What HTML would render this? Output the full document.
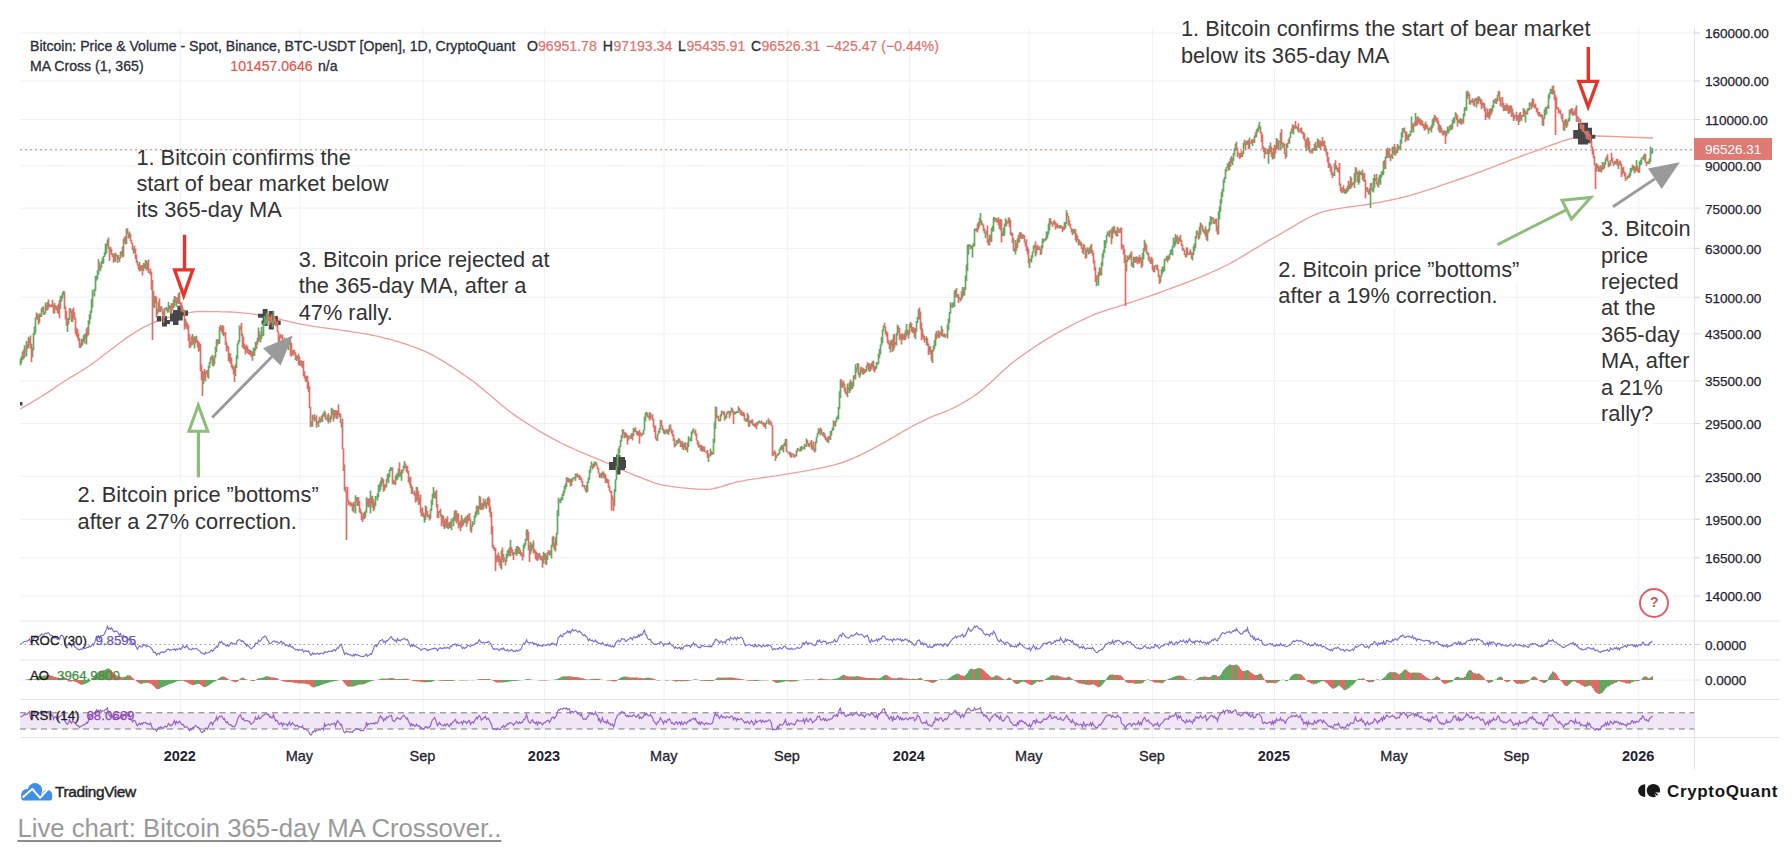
<!DOCTYPE html><html><head><meta charset="utf-8"><style>body{margin:0;width:1792px;height:854px;background:#fff;position:relative;overflow:hidden;font-family:"Liberation Sans",sans-serif}</style></head><body>
<svg width="1792" height="854" viewBox="0 0 1792 854" style="position:absolute;left:0;top:0">
<path d="M20 33.0H1694M20 81.0H1694M20 119.6H1694M20 165.9H1694M20 208.1H1694M20 248.3H1694M20 297.2H1694M20 333.9H1694M20 380.9H1694M20 423.6H1694M20 476.2H1694M20 519.3H1694M20 557.9H1694M20 595.9H1694" stroke="#eef0f4" stroke-width="1" fill="none"/>
<path d="M180.3 28V740M299.9 28V740M423.1 28V740M544.6 28V740M664.1 28V740M787.7 28V740M909.6 28V740M1029.1 28V740M1152.6 28V740M1274.5 28V740M1394.6 28V740M1516.8 28V740M1638.7 28V740" stroke="#eef0f4" stroke-width="1" fill="none"/>
<path d="M20 621H1780M20 660H1780M20 699.5H1780M20 737.5H1780" stroke="#e3e6ec" stroke-width="1" fill="none"/>
<path d="M1694.5 28V769" stroke="#dfe2e8" stroke-width="1" fill="none"/>
<path d="M1694 33.0H1700M1694 81.0H1700M1694 119.6H1700M1694 165.9H1700M1694 208.1H1700M1694 248.3H1700M1694 297.2H1700M1694 333.9H1700M1694 380.9H1700M1694 423.6H1700M1694 476.2H1700M1694 519.3H1700M1694 557.9H1700M1694 595.9H1700M1694 644.5H1700M1694 680H1700" stroke="#cfd3da" stroke-width="1" fill="none"/>
<rect x="20" y="712.8" width="1674" height="16.2" fill="#f1e6f5"/>
<path d="M20 712.8H1694M20 729H1694" stroke="#7a7a7a" stroke-width="1" stroke-dasharray="6 4.5" fill="none"/>
<path d="M20 680H1694" stroke="#eef0f4" stroke-width="1" fill="none"/>
<path d="M20 644.5H1694" stroke="#9a9aa4" stroke-width="1" stroke-dasharray="1.5 3" fill="none"/>
<path d="M20 149.8H1694" stroke="#e0716b" stroke-width="1" stroke-dasharray="2 3" fill="none"/>
<path d="M20.0 409.0 L23.0 407.3 L26.0 405.7 L29.0 403.9 L32.0 402.2 L35.0 400.4 L38.0 398.6 L41.0 396.7 L44.0 394.9 L47.0 392.9 L50.0 390.9 L53.0 388.9 L56.0 386.8 L59.0 384.8 L62.0 382.8 L65.0 380.9 L68.0 379.0 L71.0 377.2 L74.0 375.4 L77.0 373.6 L80.0 371.8 L83.0 369.9 L86.0 368.0 L89.0 366.0 L92.0 363.9 L95.0 361.7 L98.0 359.5 L101.0 357.2 L104.0 354.8 L107.0 352.5 L110.0 350.2 L113.0 348.0 L116.0 345.8 L119.0 343.5 L122.0 341.3 L125.0 339.1 L128.0 336.9 L131.0 334.9 L134.0 333.0 L137.0 331.2 L140.0 329.4 L143.0 327.7 L146.0 326.1 L149.0 324.6 L152.0 323.2 L155.0 322.0 L158.0 320.9 L161.0 319.9 L164.0 318.9 L167.0 318.0 L170.0 317.2 L173.0 316.5 L176.0 315.8 L179.0 315.1 L182.0 314.3 L185.0 313.6 L188.0 312.9 L191.0 312.4 L194.0 311.9 L197.0 311.6 L200.0 311.5 L203.0 311.5 L206.0 311.5 L209.0 311.6 L212.0 311.6 L215.0 311.6 L218.0 311.7 L221.0 311.8 L224.0 311.8 L227.0 311.9 L230.0 312.0 L233.0 312.1 L236.0 312.3 L239.0 312.5 L242.0 312.8 L245.0 313.1 L248.0 313.4 L251.0 313.8 L254.0 314.2 L257.0 314.6 L260.0 315.0 L263.0 315.5 L266.0 316.0 L269.0 316.6 L272.0 317.3 L275.0 318.0 L278.0 318.7 L281.0 319.5 L284.0 320.3 L287.0 321.0 L290.0 321.8 L293.0 322.5 L296.0 323.2 L299.0 323.8 L302.0 324.4 L305.0 324.9 L308.0 325.4 L311.0 325.9 L314.0 326.4 L317.0 326.8 L320.0 327.3 L323.0 327.7 L326.0 328.1 L329.0 328.5 L332.0 328.9 L335.0 329.3 L338.0 329.7 L341.0 330.2 L344.0 330.6 L347.0 331.0 L350.0 331.4 L353.0 331.9 L356.0 332.3 L359.0 332.8 L362.0 333.3 L365.0 333.8 L368.0 334.4 L371.0 335.0 L374.0 335.6 L377.0 336.2 L380.0 336.9 L383.0 337.6 L386.0 338.4 L389.0 339.1 L392.0 339.9 L395.0 340.8 L398.0 341.7 L401.0 342.6 L404.0 343.5 L407.0 344.5 L410.0 345.6 L413.0 346.6 L416.0 347.8 L419.0 348.9 L422.0 350.1 L425.0 351.4 L428.0 352.8 L431.0 354.3 L434.0 355.9 L437.0 357.5 L440.0 359.3 L443.0 361.1 L446.0 363.0 L449.0 364.9 L452.0 366.8 L455.0 368.8 L458.0 370.9 L461.0 372.9 L464.0 375.0 L467.0 377.0 L470.0 379.1 L473.0 381.3 L476.0 383.6 L479.0 386.0 L482.0 388.4 L485.0 390.9 L488.0 393.5 L491.0 396.1 L494.0 398.6 L497.0 401.2 L500.0 403.7 L503.0 406.2 L506.0 408.7 L509.0 411.0 L512.0 413.2 L515.0 415.4 L518.0 417.4 L521.0 419.4 L524.0 421.4 L527.0 423.4 L530.0 425.3 L533.0 427.2 L536.0 429.0 L539.0 430.8 L542.0 432.6 L545.0 434.3 L548.0 436.1 L551.0 437.7 L554.0 439.3 L557.0 440.9 L560.0 442.5 L563.0 444.0 L566.0 445.4 L569.0 446.8 L572.0 448.2 L575.0 449.5 L578.0 450.8 L581.0 452.1 L584.0 453.3 L587.0 454.6 L590.0 455.8 L593.0 457.0 L596.0 458.3 L599.0 459.6 L602.0 460.9 L605.0 462.2 L608.0 463.5 L611.0 464.9 L614.0 466.3 L617.0 467.6 L620.0 469.0 L623.0 470.3 L626.0 471.6 L629.0 472.9 L632.0 474.1 L635.0 475.4 L638.0 476.5 L641.0 477.7 L644.0 478.8 L647.0 480.0 L650.0 481.2 L653.0 482.3 L656.0 483.3 L659.0 484.2 L662.0 484.9 L665.0 485.5 L668.0 485.9 L671.0 486.4 L674.0 486.8 L677.0 487.2 L680.0 487.6 L683.0 487.9 L686.0 488.2 L689.0 488.5 L692.0 488.7 L695.0 489.0 L698.0 489.1 L701.0 489.2 L704.0 489.3 L707.0 489.3 L710.0 489.1 L713.0 488.6 L716.0 488.0 L719.0 487.3 L722.0 486.4 L725.0 485.5 L728.0 484.5 L731.0 483.6 L734.0 482.7 L737.0 481.9 L740.0 481.3 L743.0 480.8 L746.0 480.2 L749.0 479.7 L752.0 479.3 L755.0 478.8 L758.0 478.4 L761.0 477.9 L764.0 477.5 L767.0 477.1 L770.0 476.7 L773.0 476.2 L776.0 475.8 L779.0 475.3 L782.0 474.9 L785.0 474.4 L788.0 473.9 L791.0 473.4 L794.0 472.9 L797.0 472.4 L800.0 471.9 L803.0 471.3 L806.0 470.8 L809.0 470.3 L812.0 469.7 L815.0 469.2 L818.0 468.6 L821.0 468.0 L824.0 467.3 L827.0 466.7 L830.0 465.9 L833.0 465.2 L836.0 464.4 L839.0 463.5 L842.0 462.5 L845.0 461.5 L848.0 460.4 L851.0 459.2 L854.0 458.0 L857.0 456.6 L860.0 455.2 L863.0 453.8 L866.0 452.2 L869.0 450.7 L872.0 449.1 L875.0 447.4 L878.0 445.8 L881.0 444.2 L884.0 442.6 L887.0 440.9 L890.0 439.1 L893.0 437.3 L896.0 435.6 L899.0 433.8 L902.0 432.0 L905.0 430.3 L908.0 428.6 L911.0 427.0 L914.0 425.4 L917.0 423.8 L920.0 422.3 L923.0 420.8 L926.0 419.3 L929.0 417.9 L932.0 416.6 L935.0 415.4 L938.0 414.3 L941.0 413.2 L944.0 412.1 L947.0 410.9 L950.0 409.5 L953.0 408.1 L956.0 406.6 L959.0 405.0 L962.0 403.4 L965.0 401.6 L968.0 399.8 L971.0 398.0 L974.0 396.0 L977.0 393.9 L980.0 391.6 L983.0 389.2 L986.0 386.6 L989.0 383.9 L992.0 381.2 L995.0 378.4 L998.0 375.6 L1001.0 372.8 L1004.0 370.0 L1007.0 367.4 L1010.0 364.8 L1013.0 362.3 L1016.0 360.0 L1019.0 357.8 L1022.0 355.6 L1025.0 353.5 L1028.0 351.4 L1031.0 349.3 L1034.0 347.3 L1037.0 345.3 L1040.0 343.4 L1043.0 341.4 L1046.0 339.6 L1049.0 337.8 L1052.0 336.0 L1055.0 334.2 L1058.0 332.6 L1061.0 330.9 L1064.0 329.3 L1067.0 327.7 L1070.0 326.1 L1073.0 324.5 L1076.0 323.0 L1079.0 321.5 L1082.0 320.1 L1085.0 318.7 L1088.0 317.3 L1091.0 316.0 L1094.0 314.7 L1097.0 313.5 L1100.0 312.4 L1103.0 311.3 L1106.0 310.3 L1109.0 309.4 L1112.0 308.5 L1115.0 307.6 L1118.0 306.6 L1121.0 305.7 L1124.0 304.7 L1127.0 303.7 L1130.0 302.7 L1133.0 301.7 L1136.0 300.7 L1139.0 299.7 L1142.0 298.7 L1145.0 297.7 L1148.0 296.6 L1151.0 295.6 L1154.0 294.5 L1157.0 293.5 L1160.0 292.4 L1163.0 291.3 L1166.0 290.2 L1169.0 289.1 L1172.0 288.0 L1175.0 286.9 L1178.0 285.7 L1181.0 284.6 L1184.0 283.5 L1187.0 282.3 L1190.0 281.1 L1193.0 280.0 L1196.0 278.8 L1199.0 277.6 L1202.0 276.3 L1205.0 275.1 L1208.0 273.8 L1211.0 272.5 L1214.0 271.2 L1217.0 269.8 L1220.0 268.4 L1223.0 267.0 L1226.0 265.5 L1229.0 264.0 L1232.0 262.4 L1235.0 260.7 L1238.0 259.0 L1241.0 257.2 L1244.0 255.4 L1247.0 253.6 L1250.0 251.8 L1253.0 249.9 L1256.0 248.1 L1259.0 246.3 L1262.0 244.5 L1265.0 242.7 L1268.0 240.9 L1271.0 239.2 L1274.0 237.5 L1277.0 235.9 L1280.0 234.2 L1283.0 232.5 L1286.0 230.7 L1289.0 228.9 L1292.0 227.1 L1295.0 225.3 L1298.0 223.5 L1301.0 221.8 L1304.0 220.1 L1307.0 218.5 L1310.0 217.0 L1313.0 215.6 L1316.0 214.3 L1319.0 213.1 L1322.0 212.1 L1325.0 211.2 L1328.0 210.5 L1331.0 209.9 L1334.0 209.3 L1337.0 208.8 L1340.0 208.3 L1343.0 207.9 L1346.0 207.4 L1349.0 207.0 L1352.0 206.6 L1355.0 206.2 L1358.0 205.8 L1361.0 205.4 L1364.0 205.0 L1367.0 204.5 L1370.0 204.0 L1373.0 203.5 L1376.0 202.9 L1379.0 202.4 L1382.0 201.8 L1385.0 201.2 L1388.0 200.6 L1391.0 200.0 L1394.0 199.4 L1397.0 198.7 L1400.0 198.0 L1403.0 197.3 L1406.0 196.5 L1409.0 195.7 L1412.0 194.8 L1415.0 194.0 L1418.0 193.1 L1421.0 192.2 L1424.0 191.2 L1427.0 190.2 L1430.0 189.3 L1433.0 188.3 L1436.0 187.3 L1439.0 186.2 L1442.0 185.2 L1445.0 184.2 L1448.0 183.1 L1451.0 182.1 L1454.0 181.1 L1457.0 180.0 L1460.0 179.0 L1463.0 178.0 L1466.0 176.9 L1469.0 175.9 L1472.0 174.8 L1475.0 173.7 L1478.0 172.6 L1481.0 171.5 L1484.0 170.3 L1487.0 169.2 L1490.0 168.1 L1493.0 166.9 L1496.0 165.8 L1499.0 164.6 L1502.0 163.5 L1505.0 162.3 L1508.0 161.2 L1511.0 160.0 L1514.0 158.9 L1517.0 157.8 L1520.0 156.7 L1523.0 155.5 L1526.0 154.4 L1529.0 153.4 L1532.0 152.3 L1535.0 151.2 L1538.0 150.1 L1541.0 149.0 L1544.0 147.8 L1547.0 146.7 L1550.0 145.6 L1553.0 144.5 L1556.0 143.5 L1559.0 142.4 L1562.0 141.4 L1565.0 140.4 L1568.0 139.5 L1571.0 138.6 L1574.0 137.7 L1577.0 136.9 L1580.0 136.2 L1583.0 135.5 L1653.0 138.0" stroke="#eea19b" stroke-width="1.35" fill="none"/>
<path d="M156.8 316.0h4.5v5.6h-4.5ZM162.0 316.0h5.0v10.4h-5.0ZM170.0 313.0h5.0v8.6h-5.0ZM173.0 310.0h5.5v15.0h-5.5ZM177.4 305.8h5.3v14.7h-5.3ZM182.7 310.5h5.3v5.3h-5.3ZM166.0 320.0h4.0v4.0h-4.0ZM258.0 313.7h5.5v4.1h-5.5ZM262.7 309.0h4.9v17.0h-4.9ZM268.8 311.0h5.0v18.5h-5.0ZM273.8 316.0h4.1v8.6h-4.1ZM276.0 320.5h4.7v4.5h-4.7ZM261.5 320.5h4.9v4.1h-4.9ZM609.0 462.0h5.0v8.0h-5.0ZM613.0 457.0h12.0v13.0h-12.0ZM616.0 454.8h4.5v19.7h-4.5ZM621.0 460.0h5.0v8.0h-5.0ZM1573.2 130.0h6.6v8.8h-6.6ZM1578.0 122.8h10.0v21.7h-10.0ZM1587.0 127.7h5.0v15.6h-5.0ZM1591.2 134.7h4.1v4.1h-4.1ZM20.0 402.0h2.5v3.5h-2.5Z" fill="#474747"/>
<path d="M20.5 358.4V365.4M21.5 356.0V363.2M22.5 351.6V360.0M24.5 345.3V357.8M26.5 340.9V356.6M28.5 336.8V348.1M32.5 347.4V357.3M33.5 332.8V350.6M34.5 326.2V335.0M35.5 317.5V333.3M36.5 312.5V319.1M39.5 313.2V323.0M40.5 314.4V316.8M41.5 308.3V317.1M42.5 306.8V312.1M44.5 312.3V315.1M45.5 302.5V313.2M47.5 301.9V310.6M51.5 304.5V307.4M54.5 302.7V313.6M58.5 303.4V314.0M60.5 295.7V308.9M61.5 295.4V301.4M62.5 292.5V298.6M63.5 290.7V295.2M67.5 317.8V332.0M68.5 318.0V324.4M69.5 308.3V319.9M72.5 309.4V321.9M80.5 343.3V348.0M81.5 338.7V346.5M83.5 335.2V341.7M84.5 333.9V343.4M86.5 328.6V344.5M88.5 320.3V335.3M89.5 314.3V324.2M90.5 310.8V319.6M91.5 299.1V313.1M92.5 289.7V307.6M93.5 294.1V294.6M94.5 289.1V296.4M95.5 275.8V290.9M96.5 275.4V280.7M97.5 270.2V279.2M98.5 259.2V274.8M100.5 265.8V271.2M101.5 260.9V267.7M102.5 257.7V264.1M103.5 256.0V263.4M104.5 252.3V257.0M105.5 243.5V255.2M106.5 243.6V253.3M107.5 239.4V246.6M110.5 246.4V252.1M114.5 253.8V261.9M115.5 252.6V261.6M119.5 257.3V262.3M120.5 251.7V258.5M121.5 250.9V255.6M123.5 239.0V256.8M126.5 228.4V243.9M129.5 231.5V238.1M133.5 248.2V253.5M139.5 262.0V271.6M141.5 265.1V269.7M143.5 262.9V270.9M144.5 263.5V267.9M145.5 260.0V269.1M147.5 262.7V270.3M149.5 271.8V273.3M154.5 295.8V308.1M155.5 295.7V303.4M157.5 309.1V314.6M158.5 301.8V312.3M160.5 306.8V312.2M164.5 307.9V317.7M165.5 308.1V309.6M167.5 308.2V312.7M168.5 302.1V312.5M169.5 305.3V309.2M171.5 303.3V314.3M173.5 299.5V308.0M174.5 295.9V306.4M176.5 298.1V306.7M178.5 293.3V304.0M183.5 309.4V312.4M185.5 319.1V326.7M190.5 342.0V347.5M192.5 334.0V345.1M194.5 336.2V348.4M195.5 336.6V343.2M203.5 371.8V383.9M205.5 371.4V381.6M206.5 370.2V374.1M208.5 365.8V378.7M209.5 362.1V368.3M210.5 357.2V363.5M211.5 356.0V359.8M213.5 357.2V366.5M214.5 355.4V364.6M215.5 346.8V357.6M216.5 339.2V352.1M218.5 338.9V343.4M219.5 326.7V344.0M222.5 325.0V334.5M224.5 333.1V335.0M227.5 345.2V348.9M230.5 353.5V363.7M235.5 364.0V376.0M236.5 355.3V368.0M237.5 343.2V359.3M238.5 340.3V344.5M239.5 325.6V342.3M246.5 344.7V351.1M249.5 349.9V354.9M251.5 351.0V357.2M253.5 347.6V356.1M254.5 347.9V355.9M255.5 342.0V350.7M257.5 337.7V344.8M258.5 327.6V341.9M260.5 334.8V342.5M261.5 326.7V338.9M262.5 331.7V336.2M263.5 322.6V336.2M264.5 316.1V325.8M265.5 318.5V324.7M266.5 313.3V323.3M267.5 312.6V315.2M270.5 316.7V323.0M272.5 320.6V327.5M273.5 310.8V323.4M284.5 337.5V345.6M287.5 342.6V347.9M288.5 341.9V349.9M289.5 340.9V345.0M292.5 349.9V354.7M296.5 355.0V360.9M297.5 356.0V359.6M300.5 360.2V364.7M302.5 361.3V368.3M306.5 375.9V382.2M311.5 421.2V426.2M312.5 414.4V426.7M313.5 416.7V418.9M318.5 420.6V427.0M319.5 416.7V422.3M320.5 418.2V422.7M322.5 414.4V422.0M323.5 412.8V415.7M324.5 410.6V417.1M326.5 417.5V419.4M327.5 414.8V421.5M330.5 415.5V422.5M331.5 407.8V418.9M332.5 408.8V415.0M334.5 410.1V418.6M337.5 410.5V419.0M341.5 422.3V427.5M353.5 501.8V512.6M355.5 495.3V513.5M357.5 497.0V506.1M364.5 512.0V519.1M365.5 510.6V517.6M366.5 497.3V512.8M368.5 498.6V507.6M370.5 490.5V513.6M372.5 495.7V507.5M374.5 502.5V509.6M375.5 496.0V506.1M376.5 497.1V498.0M377.5 493.3V500.5M378.5 485.0V497.2M379.5 483.7V491.9M380.5 480.8V490.2M381.5 477.3V486.4M384.5 484.5V490.8M386.5 479.3V487.2M387.5 473.8V480.8M388.5 473.6V483.3M389.5 469.2V477.5M390.5 467.6V470.6M391.5 466.9V471.1M395.5 475.5V485.3M396.5 474.2V480.4M397.5 472.7V479.8M398.5 468.2V477.4M400.5 471.7V476.7M401.5 469.4V480.8M403.5 465.4V471.1M404.5 461.1V468.8M412.5 487.0V493.6M416.5 486.8V501.5M419.5 497.9V503.7M424.5 514.6V522.8M425.5 505.6V520.3M428.5 515.1V517.2M430.5 508.7V519.1M431.5 499.7V510.9M432.5 493.8V505.0M433.5 486.9V498.1M434.5 491.5V498.1M438.5 511.3V518.0M439.5 510.7V512.9M442.5 514.8V523.0M444.5 520.2V529.1M446.5 518.7V528.1M448.5 522.6V529.2M449.5 522.3V527.9M451.5 518.6V530.3M452.5 519.6V521.1M453.5 516.8V526.2M454.5 510.9V521.0M457.5 513.8V520.8M459.5 522.3V525.9M461.5 515.0V527.7M463.5 519.9V525.2M464.5 518.6V523.1M465.5 516.6V522.5M467.5 514.4V523.8M471.5 525.6V532.7M472.5 521.2V526.9M473.5 523.1V524.9M474.5 515.2V523.8M475.5 511.4V518.0M476.5 505.7V515.8M478.5 506.1V514.8M479.5 495.7V509.2M481.5 502.9V510.3M483.5 498.5V509.5M484.5 501.4V505.4M486.5 502.2V508.7M487.5 497.8V504.5M501.5 550.2V569.4M503.5 553.9V562.4M506.5 553.7V562.1M507.5 550.6V557.8M508.5 549.3V555.7M510.5 539.7V556.6M514.5 552.4V554.5M515.5 548.9V553.7M516.5 546.3V556.1M517.5 546.1V554.1M519.5 547.8V554.0M523.5 544.7V557.3M524.5 543.1V548.3M525.5 538.9V545.5M526.5 529.7V540.8M530.5 541.8V554.4M531.5 544.5V551.5M532.5 543.2V548.9M538.5 553.4V559.4M541.5 556.5V560.2M543.5 551.8V563.8M544.5 553.2V560.1M546.5 555.2V565.0M547.5 552.3V559.9M550.5 550.6V555.1M551.5 544.7V558.5M552.5 536.8V546.6M555.5 537.4V551.4M556.5 533.1V545.6M557.5 509.9V534.6M558.5 497.7V515.9M559.5 500.3V501.5M560.5 498.5V503.2M561.5 496.9V500.7M562.5 493.6V500.1M563.5 490.6V495.9M564.5 485.7V493.2M565.5 483.5V489.5M566.5 477.2V487.1M569.5 478.7V482.6M571.5 478.2V485.7M572.5 478.5V481.7M573.5 476.9V479.6M575.5 473.6V481.1M576.5 473.9V476.6M578.5 475.6V476.9M583.5 484.9V486.3M586.5 485.1V492.8M587.5 481.2V492.1M588.5 477.6V483.1M589.5 469.8V479.8M590.5 466.1V472.8M591.5 461.4V467.3M593.5 463.6V467.9M594.5 461.4V466.8M595.5 461.4V465.4M601.5 473.1V478.4M602.5 471.5V475.8M604.5 473.2V478.5M607.5 479.1V483.2M614.5 489.0V506.3M615.5 479.2V491.9M616.5 465.9V480.3M617.5 453.9V466.8M618.5 448.6V457.2M619.5 445.9V453.6M620.5 440.3V447.2M621.5 434.9V441.8M622.5 429.3V437.9M625.5 432.5V437.4M628.5 435.9V440.5M629.5 435.4V437.2M631.5 433.3V438.6M633.5 427.8V436.2M634.5 428.4V431.9M638.5 431.8V435.4M641.5 434.1V436.8M642.5 432.8V435.0M643.5 429.7V434.6M644.5 416.6V430.6M645.5 412.6V421.3M646.5 411.7V415.6M649.5 412.3V420.5M657.5 434.1V441.0M658.5 430.7V434.5M659.5 428.1V433.0M660.5 419.7V429.6M664.5 429.9V434.5M665.5 430.1V433.7M668.5 428.6V434.7M669.5 425.3V431.8M675.5 443.5V446.1M676.5 440.3V445.4M677.5 439.9V443.3M678.5 438.3V443.7M681.5 442.6V447.1M683.5 443.2V450.3M684.5 442.8V447.5M687.5 442.5V452.5M688.5 436.3V446.9M690.5 437.4V441.6M691.5 431.6V441.3M692.5 430.1V434.2M693.5 428.2V431.8M699.5 444.2V447.0M701.5 444.7V451.2M703.5 446.6V450.8M708.5 453.5V462.0M710.5 448.6V456.3M712.5 452.2V454.8M713.5 438.4V454.2M714.5 422.3V443.0M715.5 406.6V428.7M717.5 415.2V417.4M719.5 419.4V421.6M720.5 414.2V421.3M721.5 410.8V416.6M725.5 415.5V419.0M726.5 413.2V418.1M727.5 411.0V414.2M728.5 410.7V413.3M730.5 410.8V415.4M731.5 407.6V412.1M734.5 411.8V414.8M735.5 411.7V414.1M736.5 411.1V413.3M737.5 411.7V413.1M738.5 406.3V413.1M742.5 412.8V415.9M746.5 417.9V422.1M747.5 412.8V421.3M749.5 420.4V426.9M751.5 420.1V423.6M755.5 422.7V427.2M757.5 421.4V425.5M758.5 421.2V423.7M761.5 420.6V423.8M762.5 422.4V424.6M765.5 423.0V429.1M766.5 420.4V424.3M767.5 420.6V421.1M769.5 421.5V424.9M773.5 452.6V455.6M776.5 455.2V457.9M777.5 453.8V455.7M778.5 452.9V455.6M779.5 448.8V454.0M780.5 446.9V450.3M781.5 445.1V450.1M783.5 444.2V452.4M784.5 442.5V446.0M785.5 438.7V446.4M791.5 453.3V457.6M796.5 450.2V456.6M797.5 448.1V451.7M800.5 446.8V451.4M801.5 445.8V451.0M803.5 446.9V449.5M804.5 443.9V449.6M806.5 438.6V446.9M809.5 443.6V447.3M810.5 441.4V444.7M814.5 448.4V452.5M815.5 441.6V451.5M816.5 436.7V443.3M817.5 432.8V437.3M818.5 428.2V434.0M820.5 427.5V435.4M823.5 432.1V436.7M826.5 437.5V441.4M828.5 436.3V443.0M830.5 430.9V440.0M831.5 430.4V435.6M832.5 427.4V431.1M833.5 420.3V430.2M835.5 421.0V426.4M836.5 417.3V422.0M837.5 415.5V419.3M838.5 407.0V419.5M839.5 391.2V409.2M840.5 379.3V398.1M842.5 383.1V388.0M847.5 383.5V397.2M848.5 387.4V389.9M849.5 382.3V393.0M851.5 381.6V388.9M852.5 381.9V389.1M853.5 375.6V386.6M855.5 364.2V379.5M856.5 367.9V372.8M857.5 362.9V369.6M859.5 372.4V378.0M860.5 367.2V375.5M863.5 367.7V374.8M865.5 369.1V372.7M866.5 365.4V371.7M869.5 363.4V372.0M871.5 363.1V369.3M872.5 361.2V367.4M875.5 366.2V370.2M876.5 362.0V368.8M877.5 363.3V365.0M878.5 353.7V363.9M879.5 349.1V358.2M880.5 344.4V354.5M881.5 337.2V345.4M882.5 329.4V343.3M883.5 325.5V331.6M890.5 340.7V352.5M891.5 339.9V346.2M893.5 334.6V350.8M895.5 342.0V344.8M896.5 332.8V345.6M897.5 324.4V335.6M900.5 334.4V338.2M902.5 333.2V340.3M905.5 330.3V340.1M906.5 324.1V336.6M909.5 324.3V334.6M913.5 326.9V333.3M915.5 328.6V339.1M916.5 321.0V332.0M917.5 317.1V322.9M918.5 309.3V319.5M922.5 328.6V337.1M926.5 336.2V345.2M929.5 345.7V351.9M932.5 349.8V363.0M933.5 345.4V351.5M934.5 339.9V348.9M935.5 333.6V346.0M937.5 333.6V336.6M939.5 331.4V337.7M941.5 325.8V336.3M944.5 333.4V337.2M946.5 334.2V335.2M947.5 324.6V338.4M948.5 318.6V330.3M949.5 311.9V323.1M950.5 302.3V313.7M952.5 303.1V307.9M953.5 302.0V306.5M954.5 290.5V307.1M955.5 289.7V297.1M957.5 295.1V297.4M961.5 291.2V300.1M962.5 286.9V297.7M964.5 287.1V295.6M965.5 275.6V289.9M966.5 264.4V281.0M967.5 244.6V271.0M968.5 244.7V254.4M969.5 243.9V247.0M971.5 246.1V249.0M972.5 244.7V257.4M973.5 242.9V246.8M974.5 228.8V246.6M976.5 228.3V231.4M978.5 221.7V229.7M979.5 218.0V226.8M980.5 213.0V223.3M985.5 232.5V238.3M986.5 230.3V234.3M989.5 234.6V245.5M991.5 228.0V242.1M992.5 226.0V231.8M993.5 217.5V231.6M994.5 217.0V222.1M997.5 219.4V222.3M1000.5 218.7V230.4M1002.5 231.6V236.0M1003.5 227.8V236.3M1004.5 223.7V235.6M1005.5 218.2V226.6M1007.5 221.4V223.8M1008.5 217.5V223.5M1011.5 232.0V236.0M1014.5 247.8V251.7M1015.5 240.1V254.5M1017.5 238.2V248.1M1019.5 232.5V242.5M1021.5 232.8V239.0M1023.5 234.6V238.5M1029.5 258.8V268.0M1030.5 258.4V261.6M1031.5 255.2V262.4M1032.5 251.8V258.0M1033.5 245.6V252.5M1034.5 244.6V248.2M1036.5 246.0V254.5M1038.5 247.7V250.1M1041.5 245.3V254.3M1042.5 238.6V248.4M1043.5 238.7V242.8M1045.5 237.5V240.7M1046.5 231.6V239.7M1047.5 231.2V238.2M1048.5 223.5V234.4M1049.5 218.4V230.4M1053.5 221.3V224.6M1056.5 223.9V227.5M1058.5 225.8V228.2M1059.5 224.9V228.5M1064.5 222.0V229.8M1065.5 221.9V228.2M1066.5 210.3V223.9M1072.5 229.1V235.3M1073.5 228.8V233.0M1076.5 233.6V242.6M1080.5 241.4V245.8M1083.5 243.8V254.6M1086.5 250.2V257.9M1087.5 247.3V252.0M1089.5 247.6V253.9M1090.5 245.5V252.9M1096.5 276.4V286.3M1098.5 271.8V285.6M1099.5 267.3V275.9M1101.5 262.2V275.2M1102.5 253.3V266.3M1103.5 249.7V257.8M1104.5 239.9V253.0M1105.5 240.9V247.9M1106.5 234.7V243.1M1107.5 231.6V236.2M1109.5 229.9V237.6M1110.5 230.9V232.7M1112.5 227.5V238.6M1113.5 226.2V233.2M1117.5 226.7V236.4M1119.5 229.6V233.1M1126.5 260.0V271.4M1127.5 255.5V262.0M1129.5 254.9V259.8M1130.5 253.1V257.9M1132.5 262.5V266.9M1133.5 256.6V267.9M1134.5 256.9V261.9M1136.5 256.2V262.0M1138.5 256.9V262.3M1140.5 257.0V261.4M1142.5 253.1V266.5M1143.5 248.3V259.5M1144.5 239.8V251.5M1151.5 256.8V263.6M1154.5 266.0V272.2M1155.5 264.7V266.5M1160.5 276.4V282.4M1161.5 268.9V277.1M1162.5 266.3V273.8M1163.5 266.9V271.9M1164.5 258.5V270.9M1165.5 259.4V261.0M1166.5 256.3V260.0M1168.5 255.7V260.6M1169.5 253.8V259.2M1170.5 250.0V254.8M1171.5 249.1V254.6M1172.5 245.7V255.4M1173.5 237.4V247.2M1174.5 240.7V247.5M1175.5 234.1V245.3M1178.5 237.9V244.1M1179.5 237.1V241.4M1186.5 247.2V257.2M1189.5 251.3V255.0M1192.5 252.5V260.5M1193.5 246.2V255.2M1194.5 243.4V251.1M1195.5 235.9V248.2M1196.5 230.7V238.6M1199.5 226.8V238.4M1200.5 222.5V235.0M1205.5 226.3V236.4M1207.5 230.6V241.3M1208.5 228.8V232.8M1209.5 222.0V231.1M1210.5 216.1V225.5M1211.5 217.0V224.3M1212.5 217.2V219.5M1215.5 218.7V223.2M1218.5 211.6V234.5M1219.5 206.6V219.5M1220.5 199.2V212.1M1221.5 191.7V203.8M1222.5 189.0V197.1M1223.5 179.4V191.5M1224.5 176.9V182.9M1225.5 169.3V178.7M1226.5 167.1V171.7M1227.5 163.6V167.6M1229.5 160.9V170.3M1230.5 158.1V167.0M1232.5 157.8V165.2M1233.5 153.1V161.1M1234.5 147.9V155.5M1235.5 143.4V151.1M1240.5 153.1V158.0M1242.5 152.4V157.0M1243.5 143.0V154.1M1244.5 139.7V145.9M1246.5 140.8V145.1M1249.5 137.5V148.8M1252.5 140.3V145.9M1254.5 135.6V142.9M1256.5 129.3V137.0M1257.5 128.2V132.7M1258.5 125.2V131.5M1259.5 122.0V129.1M1265.5 148.1V153.9M1266.5 152.4V153.9M1268.5 148.8V163.8M1269.5 145.6V154.1M1272.5 152.1V159.4M1274.5 144.7V158.4M1276.5 138.1V149.6M1278.5 140.6V150.4M1280.5 132.5V149.9M1283.5 142.4V146.5M1286.5 143.4V157.2M1287.5 142.9V147.7M1289.5 137.2V143.7M1290.5 131.6V138.0M1291.5 128.7V133.5M1293.5 125.7V134.4M1294.5 124.9V128.8M1297.5 127.2V130.6M1299.5 130.1V132.4M1300.5 127.9V130.9M1306.5 139.2V151.2M1308.5 138.1V149.9M1312.5 148.1V153.6M1314.5 144.1V151.0M1316.5 145.8V151.0M1317.5 138.6V147.4M1319.5 140.7V148.1M1321.5 141.9V146.2M1323.5 141.6V145.9M1325.5 145.5V151.4M1333.5 173.4V175.9M1334.5 163.3V175.9M1338.5 167.2V172.4M1342.5 187.2V193.2M1345.5 189.4V194.0M1346.5 188.1V193.2M1347.5 185.8V191.8M1349.5 183.6V188.7M1350.5 176.3V189.1M1353.5 181.9V184.6M1354.5 172.9V188.1M1355.5 167.1V182.6M1358.5 172.0V184.7M1359.5 170.2V183.1M1360.5 171.9V174.9M1361.5 171.4V175.2M1363.5 173.0V181.6M1366.5 187.0V190.6M1369.5 188.3V194.6M1370.5 183.3V208.0M1372.5 188.3V191.5M1373.5 177.9V192.4M1374.5 174.3V187.8M1378.5 177.4V187.6M1379.5 174.7V183.1M1380.5 174.6V184.8M1381.5 171.6V177.4M1382.5 170.4V175.6M1383.5 161.0V174.9M1385.5 156.6V168.9M1386.5 149.2V158.6M1388.5 149.9V158.0M1391.5 154.1V157.6M1392.5 146.5V158.9M1393.5 146.4V154.0M1396.5 150.6V153.6M1397.5 143.9V153.0M1398.5 145.6V150.8M1400.5 139.6V149.5M1401.5 132.2V143.7M1402.5 127.9V137.6M1403.5 128.2V132.2M1406.5 131.6V139.6M1408.5 133.7V140.6M1409.5 134.0V137.1M1410.5 130.4V135.7M1411.5 116.5V132.8M1413.5 123.8V132.4M1415.5 113.1V126.2M1417.5 116.2V125.3M1421.5 120.1V125.3M1425.5 121.6V129.4M1428.5 128.5V133.8M1429.5 127.6V130.3M1431.5 124.8V132.5M1432.5 119.2V128.2M1433.5 117.7V126.1M1435.5 115.9V120.1M1440.5 125.3V133.1M1444.5 130.3V134.5M1446.5 130.8V136.4M1447.5 126.6V133.6M1448.5 129.0V133.5M1449.5 125.6V131.2M1451.5 123.8V130.1M1452.5 119.8V128.8M1453.5 117.7V123.6M1454.5 116.9V123.4M1455.5 112.3V117.5M1458.5 119.6V123.0M1459.5 119.6V123.0M1460.5 117.8V124.0M1463.5 113.6V123.8M1464.5 107.2V116.3M1465.5 107.1V110.8M1466.5 91.4V110.5M1467.5 90.4V99.0M1470.5 100.1V104.8M1471.5 100.3V102.4M1474.5 99.3V106.6M1475.5 97.8V101.3M1477.5 97.4V104.4M1478.5 96.1V103.6M1483.5 103.1V108.0M1486.5 112.8V116.9M1489.5 109.1V119.6M1491.5 108.8V114.2M1492.5 105.0V111.5M1493.5 99.6V108.1M1495.5 98.2V103.5M1497.5 94.7V101.5M1498.5 90.7V96.4M1504.5 105.0V110.4M1506.5 103.3V109.8M1508.5 105.8V114.0M1510.5 105.3V112.2M1514.5 114.9V119.3M1517.5 115.1V119.4M1519.5 112.7V122.3M1521.5 115.2V121.1M1523.5 108.1V117.1M1525.5 110.7V122.5M1527.5 108.6V114.7M1528.5 108.0V110.7M1529.5 102.3V110.3M1532.5 98.3V107.3M1543.5 117.4V126.0M1544.5 109.6V119.1M1545.5 107.0V115.3M1546.5 107.2V114.2M1548.5 94.4V109.0M1549.5 93.1V98.7M1550.5 88.7V93.7M1551.5 88.7V94.1M1552.5 86.0V94.7M1564.5 120.2V130.9M1565.5 119.1V126.6M1567.5 120.7V126.2M1568.5 118.3V122.3M1569.5 110.1V121.1M1571.5 108.2V113.4M1573.5 112.2V115.6M1575.5 107.7V115.5M1577.5 116.0V118.9M1581.5 125.0V129.2M1587.5 130.9V137.5M1596.5 163.1V171.4M1599.5 167.3V171.3M1601.5 166.5V172.6M1602.5 162.0V169.6M1604.5 162.0V168.3M1605.5 158.4V165.1M1606.5 156.6V160.4M1609.5 162.9V166.7M1610.5 159.9V165.6M1614.5 160.8V164.6M1616.5 159.1V164.3M1618.5 162.6V168.9M1622.5 167.8V174.6M1626.5 178.0V179.2M1627.5 175.8V179.2M1629.5 172.4V178.0M1630.5 168.0V175.7M1631.5 167.7V172.2M1632.5 164.4V169.7M1634.5 166.1V173.6M1636.5 160.1V171.2M1639.5 161.5V172.7M1640.5 160.0V165.4M1641.5 157.7V164.4M1643.5 155.5V159.7M1644.5 153.6V160.8M1648.5 160.8V163.6M1649.5 158.3V164.2M1650.5 146.6V161.7M1651.5 150.6V153.7M1652.5 148.1V153.6" stroke="#64a862" stroke-width="1.7" fill="none"/>
<path d="M23.5 350.0V359.3M25.5 348.6V351.4M27.5 344.3V349.0M29.5 338.6V344.9M30.5 335.6V348.8M31.5 343.7V362.3M37.5 313.6V319.9M38.5 315.0V324.4M43.5 306.4V314.8M46.5 305.2V309.7M48.5 299.6V308.6M49.5 303.8V307.1M50.5 304.9V307.1M52.5 299.8V307.0M53.5 304.6V313.5M55.5 304.9V309.2M56.5 306.6V310.5M57.5 305.3V313.0M59.5 299.9V318.3M64.5 291.5V309.0M65.5 306.3V319.5M66.5 311.3V325.7M70.5 308.2V313.0M71.5 310.8V322.0M73.5 307.5V318.3M74.5 312.2V319.7M75.5 317.6V333.8M76.5 327.7V336.2M77.5 328.9V338.2M78.5 333.2V341.3M79.5 338.1V347.7M82.5 339.0V345.4M85.5 333.3V338.2M87.5 327.1V336.7M99.5 262.5V269.6M108.5 237.6V249.0M109.5 247.6V261.0M111.5 248.7V255.1M112.5 253.3V257.1M113.5 253.6V262.7M116.5 254.4V256.8M117.5 254.8V262.9M118.5 255.0V259.6M122.5 246.6V257.4M124.5 236.9V243.1M125.5 236.1V244.6M127.5 228.3V233.9M128.5 233.0V238.4M130.5 233.9V241.2M131.5 240.2V244.0M132.5 243.1V250.0M134.5 245.7V252.9M135.5 248.7V259.0M136.5 254.6V262.8M137.5 260.7V265.5M138.5 264.3V269.8M140.5 265.1V270.9M142.5 265.4V275.5M146.5 260.4V270.5M148.5 259.6V273.0M150.5 268.4V275.2M151.5 271.6V290.1M152.5 280.0V340.0M153.5 290.9V307.2M156.5 296.7V317.4M159.5 298.2V312.2M161.5 305.9V310.6M162.5 308.8V315.5M163.5 311.3V322.7M166.5 307.0V310.6M170.5 305.7V313.6M172.5 302.9V310.1M175.5 296.4V302.8M177.5 297.2V303.0M179.5 292.1V303.9M180.5 302.1V307.5M181.5 302.5V311.6M182.5 306.9V311.7M184.5 310.0V329.5M186.5 321.2V328.7M187.5 323.2V329.5M188.5 325.0V341.1M189.5 334.0V348.0M191.5 336.6V345.6M193.5 337.6V343.7M196.5 335.7V343.1M197.5 339.9V347.3M198.5 341.3V351.7M199.5 342.6V351.0M200.5 344.1V371.2M201.5 364.5V380.3M202.5 370.7V396.0M204.5 369.0V379.5M207.5 370.2V377.3M212.5 354.7V366.0M217.5 340.0V345.5M220.5 324.8V330.4M221.5 326.6V332.1M223.5 326.3V336.2M225.5 332.0V344.9M226.5 341.7V351.4M228.5 346.4V361.1M229.5 353.1V362.3M231.5 357.7V367.4M232.5 364.5V369.6M233.5 366.0V374.3M234.5 366.7V382.0M240.5 326.2V329.6M241.5 322.9V336.3M242.5 333.4V347.6M243.5 336.7V348.9M244.5 343.8V349.4M245.5 346.1V354.5M247.5 346.3V353.1M248.5 349.0V353.9M250.5 349.8V355.4M252.5 351.9V360.8M256.5 341.3V348.9M259.5 331.4V340.0M268.5 313.6V321.0M269.5 316.8V325.1M271.5 314.6V322.5M274.5 316.0V322.5M275.5 318.9V325.9M276.5 323.1V326.4M277.5 321.2V332.2M278.5 331.5V342.4M279.5 335.7V341.8M280.5 334.1V338.1M281.5 336.1V338.4M282.5 334.6V346.4M283.5 340.2V346.6M285.5 339.2V344.1M286.5 339.4V349.2M290.5 340.4V355.8M291.5 342.9V356.8M293.5 349.8V355.5M294.5 349.7V353.5M295.5 352.2V360.1M298.5 353.7V364.8M299.5 356.4V366.0M301.5 360.5V366.5M303.5 360.8V376.2M304.5 371.2V378.6M305.5 375.4V381.4M307.5 375.7V389.1M308.5 381.6V391.8M309.5 386.0V407.9M310.5 406.5V427.3M314.5 414.3V421.6M315.5 418.0V420.2M316.5 415.3V427.4M317.5 421.4V424.2M321.5 415.8V421.4M325.5 412.5V419.8M328.5 413.3V423.5M329.5 417.8V421.6M333.5 410.2V421.5M335.5 409.9V416.4M336.5 410.4V418.7M338.5 404.5V414.9M339.5 413.1V417.1M340.5 413.7V423.1M342.5 418.8V449.3M343.5 448.4V470.9M344.5 464.4V490.5M345.5 486.7V492.2M346.5 491.0V540.0M347.5 486.8V500.4M348.5 499.8V505.2M349.5 501.4V504.1M350.5 501.9V506.5M351.5 502.8V506.4M352.5 503.8V511.0M354.5 503.6V506.9M356.5 497.9V501.8M358.5 497.1V505.7M359.5 500.9V512.5M360.5 508.4V513.8M361.5 511.4V519.9M362.5 515.9V521.9M363.5 512.9V519.4M367.5 498.7V506.2M369.5 498.4V506.5M371.5 496.8V503.5M373.5 499.2V511.2M382.5 478.0V483.4M383.5 479.2V491.8M385.5 484.3V488.2M392.5 467.4V484.5M393.5 479.8V484.1M394.5 480.9V484.4M399.5 462.3V476.7M402.5 469.9V473.6M405.5 463.5V467.7M406.5 465.4V471.9M407.5 466.0V473.4M408.5 471.1V482.1M409.5 477.3V484.6M410.5 476.8V487.8M411.5 484.6V494.0M413.5 492.8V494.3M414.5 490.6V495.7M415.5 492.9V502.6M417.5 487.5V500.2M418.5 490.9V504.9M420.5 494.4V512.7M421.5 508.8V516.4M422.5 507.6V515.9M423.5 512.4V517.6M426.5 506.7V515.3M427.5 510.9V517.5M429.5 514.2V520.4M435.5 491.9V498.9M436.5 490.1V507.2M437.5 504.1V518.2M440.5 508.8V516.6M441.5 514.3V526.2M443.5 516.1V527.1M445.5 518.6V526.2M447.5 516.2V528.4M450.5 520.9V528.0M455.5 510.0V521.3M456.5 510.8V523.6M458.5 513.3V528.4M460.5 520.4V531.2M462.5 518.0V526.5M466.5 516.7V526.8M468.5 514.8V521.2M469.5 513.0V520.2M470.5 519.2V531.2M477.5 505.5V512.8M480.5 496.7V509.7M482.5 503.4V508.5M485.5 499.3V507.5M488.5 496.6V506.1M489.5 498.2V512.5M490.5 506.8V517.1M491.5 511.7V534.4M492.5 526.0V547.4M493.5 545.0V549.2M494.5 546.9V551.1M495.5 547.9V571.0M496.5 556.0V562.5M497.5 554.6V560.0M498.5 552.4V561.9M499.5 555.9V565.6M500.5 558.4V567.7M502.5 547.4V559.8M504.5 557.3V561.1M505.5 559.7V565.5M509.5 547.3V556.1M511.5 547.0V553.0M512.5 549.6V555.5M513.5 552.1V560.0M518.5 546.7V553.4M520.5 550.0V555.5M521.5 552.0V556.6M522.5 553.9V560.5M527.5 529.3V540.4M528.5 531.7V550.3M529.5 545.3V561.9M533.5 540.6V553.4M534.5 549.1V553.2M535.5 550.4V558.9M536.5 551.8V560.3M537.5 553.1V561.1M539.5 553.0V557.8M540.5 555.0V560.2M542.5 556.6V567.8M545.5 553.0V563.9M548.5 549.9V554.3M549.5 550.9V555.5M553.5 535.8V547.5M554.5 542.8V550.2M567.5 477.4V482.0M568.5 477.9V482.4M570.5 479.6V486.6M574.5 477.6V478.6M577.5 473.2V477.8M579.5 474.7V480.1M580.5 476.3V479.2M581.5 478.1V482.2M582.5 481.0V487.0M584.5 484.9V488.7M585.5 487.4V491.2M592.5 464.1V469.6M596.5 462.2V465.8M597.5 465.5V469.0M598.5 467.9V473.5M599.5 472.7V477.9M600.5 473.6V476.9M603.5 471.4V477.9M605.5 474.3V483.1M606.5 477.7V483.0M608.5 479.4V487.8M609.5 485.7V490.9M610.5 490.6V493.2M611.5 491.0V510.5M612.5 495.5V499.7M613.5 498.1V511.0M623.5 429.6V433.9M624.5 432.3V438.3M626.5 433.5V437.5M627.5 434.7V444.4M630.5 435.4V439.0M632.5 433.0V440.6M635.5 427.2V432.1M636.5 431.0V434.5M637.5 431.1V435.7M639.5 430.0V443.8M640.5 432.3V435.3M647.5 412.7V417.4M648.5 415.5V417.9M650.5 412.7V419.2M651.5 416.3V416.9M652.5 414.2V420.5M653.5 418.6V427.6M654.5 425.0V432.3M655.5 426.0V438.8M656.5 437.6V440.6M661.5 420.2V426.5M662.5 425.4V430.6M663.5 428.4V433.3M666.5 428.9V432.8M667.5 430.1V434.2M670.5 424.2V429.6M671.5 428.8V433.7M672.5 430.3V436.1M673.5 434.3V441.0M674.5 438.4V447.6M679.5 438.7V442.6M680.5 440.5V447.1M682.5 441.1V448.7M685.5 442.2V450.2M686.5 447.1V450.0M689.5 439.5V440.2M694.5 431.5V433.0M695.5 429.5V435.8M696.5 433.6V440.5M697.5 440.0V444.7M698.5 441.9V447.8M700.5 445.4V450.6M702.5 445.9V451.7M704.5 446.6V451.9M705.5 450.9V451.7M706.5 451.6V453.6M707.5 450.1V458.1M709.5 455.1V456.8M711.5 451.3V455.0M716.5 407.0V418.5M718.5 416.1V421.3M722.5 410.7V413.0M723.5 411.8V414.9M724.5 411.4V420.8M729.5 411.0V418.3M732.5 408.4V413.0M733.5 410.7V424.0M739.5 408.0V411.2M740.5 410.0V414.7M741.5 410.6V415.5M743.5 411.8V416.5M744.5 413.4V420.5M745.5 419.0V421.4M748.5 414.9V426.5M750.5 420.4V423.1M752.5 419.3V425.0M753.5 423.3V425.9M754.5 424.1V427.1M756.5 422.8V429.3M759.5 420.3V423.0M760.5 422.1V423.4M763.5 421.9V426.4M764.5 423.0V427.1M768.5 418.3V424.1M770.5 420.3V423.7M771.5 422.4V426.2M772.5 425.2V456.2M774.5 450.3V454.2M775.5 451.7V461.0M782.5 445.8V450.4M786.5 439.0V451.7M787.5 451.1V452.4M788.5 451.9V453.5M789.5 451.7V455.3M790.5 452.1V457.5M792.5 453.2V454.2M793.5 453.5V457.3M794.5 455.0V457.7M795.5 454.4V456.4M798.5 448.4V450.1M799.5 449.5V451.2M802.5 446.7V448.6M805.5 445.5V447.1M807.5 440.0V443.9M808.5 442.9V446.5M811.5 440.1V448.9M812.5 445.2V450.6M813.5 441.6V449.8M819.5 429.5V433.3M821.5 429.1V433.8M822.5 433.1V435.4M824.5 433.0V437.9M825.5 435.4V440.1M827.5 437.8V442.2M829.5 435.7V438.8M834.5 421.6V426.0M841.5 379.4V387.3M843.5 380.7V386.3M844.5 383.4V391.5M845.5 387.3V393.7M846.5 391.4V395.3M850.5 379.6V391.1M854.5 375.0V378.9M858.5 363.4V375.2M861.5 366.7V372.2M862.5 368.7V374.3M864.5 369.4V373.4M867.5 362.2V367.6M868.5 363.3V370.4M870.5 365.1V371.0M873.5 360.5V370.7M874.5 365.9V372.4M884.5 322.8V327.4M885.5 326.5V334.6M886.5 331.1V336.7M887.5 332.5V343.3M888.5 339.6V344.6M889.5 342.7V349.0M892.5 339.1V351.7M894.5 334.1V347.9M898.5 326.1V332.9M899.5 328.0V340.3M901.5 333.8V344.4M903.5 334.7V339.5M904.5 333.3V340.3M907.5 329.5V335.0M908.5 330.7V338.8M910.5 322.1V327.7M911.5 323.3V331.8M912.5 327.0V333.1M914.5 328.0V337.3M919.5 307.4V319.4M920.5 311.6V329.8M921.5 322.4V340.2M923.5 333.7V339.5M924.5 335.9V342.7M925.5 338.5V340.3M927.5 338.2V346.1M928.5 343.4V355.0M930.5 346.4V354.2M931.5 349.7V360.7M936.5 331.0V339.6M938.5 330.3V338.2M940.5 332.5V334.2M942.5 328.9V336.4M943.5 334.0V337.2M945.5 334.6V337.8M951.5 304.9V307.6M956.5 288.1V297.4M958.5 294.0V303.1M959.5 296.9V298.8M960.5 297.8V301.4M963.5 288.8V296.1M970.5 245.0V249.3M975.5 228.6V230.8M977.5 223.5V232.5M981.5 220.2V225.0M982.5 222.9V225.7M983.5 224.5V231.3M984.5 228.5V233.5M987.5 225.4V243.2M988.5 239.1V245.4M990.5 235.0V241.1M995.5 218.0V220.6M996.5 218.0V222.4M998.5 217.3V225.5M999.5 219.4V228.9M1001.5 219.5V242.4M1006.5 220.0V226.2M1009.5 217.8V227.1M1010.5 219.9V234.8M1012.5 233.1V242.9M1013.5 237.9V251.1M1016.5 242.9V250.7M1018.5 235.1V242.7M1020.5 232.1V238.0M1022.5 234.5V238.7M1024.5 235.4V242.5M1025.5 241.9V246.5M1026.5 239.2V251.0M1027.5 246.6V254.3M1028.5 248.7V263.4M1035.5 241.5V256.6M1037.5 244.7V249.9M1039.5 246.2V250.1M1040.5 248.7V255.0M1044.5 239.1V241.2M1050.5 218.3V224.5M1051.5 221.1V224.1M1052.5 223.6V227.1M1054.5 220.0V224.4M1055.5 222.0V229.6M1057.5 223.3V228.3M1060.5 225.0V228.6M1061.5 225.5V228.4M1062.5 227.0V232.2M1063.5 226.2V230.3M1067.5 213.1V216.7M1068.5 216.2V225.7M1069.5 220.3V225.5M1070.5 224.3V228.6M1071.5 228.0V232.5M1074.5 229.5V234.0M1075.5 229.0V240.6M1077.5 235.6V240.2M1078.5 239.0V245.5M1079.5 239.7V244.8M1081.5 242.5V249.1M1082.5 247.6V253.1M1084.5 245.0V249.5M1085.5 248.1V258.8M1088.5 249.8V254.5M1091.5 244.1V253.0M1092.5 250.1V255.4M1093.5 252.6V263.5M1094.5 260.3V270.6M1095.5 266.9V282.0M1097.5 275.1V279.4M1100.5 268.6V275.4M1108.5 233.0V235.3M1111.5 228.8V244.2M1114.5 226.2V233.1M1115.5 230.5V235.1M1116.5 230.2V236.6M1118.5 228.6V230.7M1120.5 227.8V232.8M1121.5 227.6V249.5M1122.5 244.5V247.6M1123.5 245.0V254.4M1124.5 249.1V263.0M1125.5 255.1V306.0M1128.5 256.8V259.9M1131.5 251.3V266.3M1135.5 256.9V263.1M1137.5 257.4V264.2M1139.5 255.1V263.8M1141.5 258.2V267.9M1145.5 242.6V250.0M1146.5 244.5V253.4M1147.5 252.0V255.0M1148.5 252.9V260.6M1149.5 256.6V261.4M1150.5 259.2V263.9M1152.5 258.5V270.2M1153.5 265.6V272.2M1156.5 265.3V269.7M1157.5 264.6V270.5M1158.5 269.3V277.2M1159.5 275.1V284.0M1167.5 255.6V262.5M1176.5 236.0V242.3M1177.5 235.3V244.2M1180.5 234.7V241.9M1181.5 239.8V245.9M1182.5 244.2V250.7M1183.5 248.1V250.7M1184.5 249.8V255.0M1185.5 254.0V257.6M1187.5 247.8V254.7M1188.5 253.9V255.2M1190.5 249.2V254.3M1191.5 252.5V258.8M1197.5 230.6V234.3M1198.5 232.8V239.7M1201.5 223.5V228.3M1202.5 225.3V231.6M1203.5 228.4V232.8M1204.5 230.3V234.0M1206.5 229.2V240.1M1213.5 217.8V223.8M1214.5 220.6V224.3M1216.5 218.5V231.3M1217.5 225.8V234.5M1228.5 162.5V170.5M1231.5 156.0V162.9M1236.5 141.8V149.2M1237.5 147.6V156.9M1238.5 152.4V154.3M1239.5 153.5V159.1M1241.5 150.7V157.2M1245.5 142.4V149.5M1247.5 140.6V144.7M1248.5 139.9V149.3M1250.5 142.5V143.8M1251.5 139.2V143.8M1253.5 139.0V143.0M1255.5 132.4V137.7M1260.5 126.5V133.6M1261.5 132.1V142.3M1262.5 134.5V148.9M1263.5 146.3V152.0M1264.5 147.8V158.4M1267.5 148.8V154.5M1270.5 142.4V152.0M1271.5 146.8V156.8M1273.5 148.1V159.0M1275.5 145.0V153.7M1277.5 139.1V148.5M1279.5 141.1V142.2M1281.5 129.0V144.4M1282.5 142.2V148.4M1284.5 143.8V154.0M1285.5 152.8V158.8M1288.5 139.3V143.6M1292.5 124.2V132.8M1295.5 121.0V128.8M1296.5 125.8V128.2M1298.5 123.3V132.4M1301.5 127.5V133.6M1302.5 131.3V134.3M1303.5 132.2V138.7M1304.5 133.3V140.6M1305.5 139.4V147.8M1307.5 137.2V146.4M1309.5 141.3V152.2M1310.5 150.2V153.4M1311.5 150.5V152.5M1313.5 148.8V150.7M1315.5 142.1V150.3M1318.5 139.6V147.3M1320.5 140.6V149.7M1322.5 137.0V146.4M1324.5 140.6V150.9M1326.5 148.5V155.8M1327.5 151.9V162.2M1328.5 157.1V168.1M1329.5 162.8V166.9M1330.5 164.2V171.7M1331.5 166.2V175.1M1332.5 171.7V177.9M1335.5 160.3V169.6M1336.5 165.3V169.8M1337.5 168.1V171.9M1339.5 162.9V185.4M1340.5 183.4V191.2M1341.5 187.5V192.7M1343.5 185.2V191.9M1344.5 188.7V193.5M1348.5 180.8V190.7M1351.5 178.0V187.4M1352.5 182.5V185.8M1356.5 168.2V174.4M1357.5 171.5V182.2M1362.5 169.4V179.8M1364.5 173.1V182.1M1365.5 179.7V198.3M1367.5 187.3V192.0M1368.5 189.8V194.6M1371.5 182.8V189.7M1375.5 178.0V181.0M1376.5 174.1V184.3M1377.5 182.4V186.3M1384.5 160.1V169.0M1387.5 147.4V156.7M1389.5 148.0V157.5M1390.5 155.8V161.2M1394.5 144.0V155.1M1395.5 147.0V155.8M1399.5 145.9V148.6M1404.5 127.5V133.0M1405.5 131.5V142.1M1407.5 135.3V140.5M1412.5 123.6V129.8M1414.5 121.7V126.3M1416.5 118.6V125.8M1418.5 117.3V122.7M1419.5 118.4V124.0M1420.5 118.5V125.5M1422.5 121.0V125.9M1423.5 123.8V128.2M1424.5 124.5V130.8M1426.5 123.8V128.5M1427.5 125.2V129.7M1430.5 126.8V130.5M1434.5 114.8V122.5M1436.5 117.5V121.7M1437.5 117.8V123.7M1438.5 120.7V130.5M1439.5 124.0V132.6M1441.5 127.6V131.7M1442.5 130.3V135.5M1443.5 130.9V135.6M1445.5 130.9V144.0M1450.5 125.1V129.8M1456.5 113.5V120.2M1457.5 115.6V126.6M1461.5 118.9V125.1M1462.5 119.0V122.3M1468.5 92.0V96.2M1469.5 94.0V104.3M1472.5 98.1V103.0M1473.5 100.4V105.6M1476.5 98.0V107.4M1479.5 97.0V101.1M1480.5 98.8V104.3M1481.5 99.3V108.9M1482.5 101.9V106.3M1484.5 103.3V111.5M1485.5 107.5V120.1M1487.5 108.6V117.6M1488.5 111.9V118.1M1490.5 108.1V116.1M1494.5 100.2V102.9M1496.5 98.5V104.1M1499.5 91.3V101.0M1500.5 97.5V106.5M1501.5 103.3V105.0M1502.5 97.1V107.4M1503.5 102.7V110.9M1505.5 105.2V111.0M1507.5 104.7V111.3M1509.5 105.9V113.2M1511.5 105.4V117.0M1512.5 108.4V116.4M1513.5 112.8V121.0M1515.5 114.8V116.4M1516.5 111.7V120.9M1518.5 115.0V125.0M1520.5 112.0V119.6M1522.5 114.9V116.9M1524.5 108.9V114.6M1526.5 111.9V113.9M1530.5 103.4V105.4M1531.5 101.8V109.3M1533.5 98.9V106.7M1534.5 105.2V108.4M1535.5 103.5V108.4M1536.5 107.5V112.0M1537.5 108.0V114.0M1538.5 111.9V116.3M1539.5 111.9V116.6M1540.5 114.5V117.2M1541.5 114.1V117.5M1542.5 115.1V125.5M1547.5 105.6V108.5M1553.5 85.5V94.1M1554.5 90.4V100.2M1555.5 95.1V135.0M1556.5 97.2V109.2M1557.5 107.3V109.4M1558.5 107.4V113.6M1559.5 110.1V112.6M1560.5 109.8V114.6M1561.5 114.4V118.7M1562.5 113.6V121.9M1563.5 121.0V130.2M1566.5 119.4V128.1M1570.5 108.9V114.4M1572.5 108.2V115.7M1574.5 110.3V114.9M1576.5 105.3V122.0M1578.5 117.0V121.9M1579.5 119.1V120.9M1580.5 118.7V128.9M1582.5 124.3V131.8M1583.5 124.7V131.7M1584.5 131.1V133.2M1585.5 131.6V134.8M1586.5 130.8V138.9M1588.5 131.2V140.0M1589.5 134.1V136.0M1590.5 135.4V142.8M1591.5 141.0V148.2M1592.5 146.4V154.8M1593.5 149.2V158.2M1594.5 156.0V165.4M1595.5 164.0V189.0M1597.5 164.6V168.6M1598.5 165.4V172.0M1600.5 165.3V171.9M1603.5 164.4V169.7M1607.5 154.2V161.8M1608.5 160.8V167.3M1611.5 152.7V161.2M1612.5 157.6V162.8M1613.5 162.4V165.9M1615.5 160.9V164.3M1617.5 158.8V165.9M1619.5 160.6V164.5M1620.5 160.8V165.9M1621.5 164.1V177.0M1623.5 166.8V173.0M1624.5 171.5V176.4M1625.5 172.7V180.9M1628.5 174.7V177.9M1633.5 165.7V170.5M1635.5 167.0V171.8M1637.5 165.7V171.6M1638.5 168.2V172.9M1642.5 157.3V158.6M1645.5 153.8V163.0M1646.5 161.5V165.9M1647.5 161.5V163.8" stroke="#de6f68" stroke-width="1.7" fill="none"/>
<path d="M20.5 643.5 L21.5 643.3 L22.5 642.7 L23.5 642.5 L24.5 641.3 L25.5 641.5 L26.5 641.2 L27.5 641.1 L28.5 640.1 L29.5 639.0 L30.5 641.9 L31.5 642.5 L32.5 641.8 L33.5 639.0 L34.5 638.1 L35.5 636.3 L36.5 636.1 L37.5 636.2 L38.5 636.7 L39.5 636.2 L40.5 635.3 L41.5 634.0 L42.5 634.9 L43.5 635.0 L44.5 634.1 L45.5 633.3 L46.5 633.8 L47.5 632.8 L48.5 632.8 L49.5 634.0 L50.5 635.8 L51.5 635.3 L52.5 635.9 L53.5 637.9 L54.5 638.1 L55.5 637.5 L56.5 638.4 L57.5 639.4 L58.5 638.7 L59.5 639.6 L60.5 635.9 L61.5 635.1 L62.5 635.5 L63.5 637.2 L64.5 641.0 L65.5 643.7 L66.5 644.8 L67.5 645.2 L68.5 644.3 L69.5 642.7 L70.5 644.8 L71.5 646.6 L72.5 644.6 L73.5 644.9 L74.5 646.4 L75.5 647.4 L76.5 648.0 L77.5 649.2 L78.5 649.3 L79.5 649.9 L80.5 648.9 L81.5 649.4 L82.5 649.3 L83.5 647.7 L84.5 648.5 L85.5 648.5 L86.5 647.5 L87.5 647.3 L88.5 647.4 L89.5 645.9 L90.5 646.8 L91.5 645.5 L92.5 644.1 L93.5 645.5 L94.5 642.6 L95.5 639.9 L96.5 636.5 L97.5 636.6 L98.5 635.9 L99.5 638.7 L100.5 636.0 L101.5 635.5 L102.5 635.4 L103.5 635.2 L104.5 633.9 L105.5 631.0 L106.5 629.5 L107.5 626.4 L108.5 629.2 L109.5 628.2 L110.5 629.3 L111.5 627.8 L112.5 629.2 L113.5 631.6 L114.5 631.6 L115.5 631.0 L116.5 631.2 L117.5 631.7 L118.5 633.5 L119.5 635.3 L120.5 633.5 L121.5 635.9 L122.5 638.6 L123.5 635.5 L124.5 636.1 L125.5 637.3 L126.5 637.7 L127.5 638.6 L128.5 639.7 L129.5 638.5 L130.5 641.7 L131.5 641.2 L132.5 644.2 L133.5 643.1 L134.5 643.3 L135.5 645.4 L136.5 647.4 L137.5 649.4 L138.5 647.0 L139.5 645.6 L140.5 646.6 L141.5 646.9 L142.5 646.8 L143.5 644.6 L144.5 644.9 L145.5 645.5 L146.5 646.7 L147.5 645.8 L148.5 646.2 L149.5 646.8 L150.5 647.1 L151.5 648.3 L152.5 649.8 L153.5 652.4 L154.5 652.2 L155.5 652.5 L156.5 655.2 L157.5 653.7 L158.5 653.3 L159.5 654.2 L160.5 652.3 L161.5 652.4 L162.5 651.9 L163.5 652.6 L164.5 651.9 L165.5 651.7 L166.5 650.4 L167.5 649.3 L168.5 649.2 L169.5 650.2 L170.5 649.8 L171.5 650.2 L172.5 649.6 L173.5 649.6 L174.5 648.9 L175.5 650.4 L176.5 648.8 L177.5 649.6 L178.5 649.1 L179.5 648.2 L180.5 649.5 L181.5 648.6 L182.5 646.9 L183.5 645.9 L184.5 647.6 L185.5 647.6 L186.5 645.5 L187.5 646.7 L188.5 648.5 L189.5 649.4 L190.5 649.3 L191.5 649.8 L192.5 648.3 L193.5 648.8 L194.5 649.0 L195.5 648.5 L196.5 648.5 L197.5 649.4 L198.5 650.2 L199.5 650.5 L200.5 651.8 L201.5 653.2 L202.5 653.3 L203.5 653.6 L204.5 654.3 L205.5 652.2 L206.5 653.2 L207.5 653.0 L208.5 652.5 L209.5 652.2 L210.5 651.0 L211.5 650.2 L212.5 651.4 L213.5 650.5 L214.5 648.2 L215.5 648.1 L216.5 646.3 L217.5 647.2 L218.5 644.5 L219.5 641.9 L220.5 642.7 L221.5 641.5 L222.5 643.1 L223.5 643.6 L224.5 643.7 L225.5 645.6 L226.5 646.0 L227.5 644.8 L228.5 646.3 L229.5 645.7 L230.5 643.5 L231.5 642.5 L232.5 643.2 L233.5 643.5 L234.5 643.9 L235.5 644.3 L236.5 643.3 L237.5 640.3 L238.5 640.2 L239.5 639.6 L240.5 640.2 L241.5 641.7 L242.5 640.8 L243.5 641.5 L244.5 643.7 L245.5 643.7 L246.5 645.9 L247.5 644.4 L248.5 646.2 L249.5 647.1 L250.5 648.2 L251.5 648.7 L252.5 647.7 L253.5 646.7 L254.5 646.3 L255.5 643.2 L256.5 643.4 L257.5 643.7 L258.5 640.3 L259.5 641.3 L260.5 641.0 L261.5 639.3 L262.5 637.7 L263.5 637.2 L264.5 636.2 L265.5 636.4 L266.5 637.5 L267.5 640.3 L268.5 641.2 L269.5 643.6 L270.5 643.7 L271.5 642.9 L272.5 641.9 L273.5 641.0 L274.5 640.8 L275.5 642.1 L276.5 641.7 L277.5 642.0 L278.5 643.1 L279.5 643.4 L280.5 641.6 L281.5 641.3 L282.5 643.5 L283.5 642.6 L284.5 644.0 L285.5 645.6 L286.5 644.7 L287.5 645.6 L288.5 646.4 L289.5 644.5 L290.5 646.6 L291.5 647.1 L292.5 646.8 L293.5 648.2 L294.5 648.8 L295.5 649.9 L296.5 649.7 L297.5 649.4 L298.5 650.5 L299.5 649.7 L300.5 650.2 L301.5 649.9 L302.5 649.6 L303.5 652.1 L304.5 651.2 L305.5 650.6 L306.5 651.5 L307.5 651.7 L308.5 650.8 L309.5 653.0 L310.5 655.0 L311.5 655.1 L312.5 653.0 L313.5 654.1 L314.5 653.3 L315.5 654.2 L316.5 653.9 L317.5 653.2 L318.5 653.9 L319.5 654.3 L320.5 653.1 L321.5 653.0 L322.5 653.5 L323.5 653.9 L324.5 651.6 L325.5 652.3 L326.5 652.1 L327.5 652.1 L328.5 651.0 L329.5 651.5 L330.5 651.5 L331.5 650.9 L332.5 651.4 L333.5 649.9 L334.5 649.7 L335.5 650.9 L336.5 649.0 L337.5 647.7 L338.5 648.2 L339.5 645.8 L340.5 644.6 L341.5 644.2 L342.5 648.7 L343.5 650.8 L344.5 654.4 L345.5 653.5 L346.5 652.9 L347.5 654.4 L348.5 654.2 L349.5 654.9 L350.5 654.6 L351.5 655.7 L352.5 656.0 L353.5 654.4 L354.5 655.9 L355.5 654.2 L356.5 654.8 L357.5 654.9 L358.5 655.6 L359.5 655.5 L360.5 656.2 L361.5 656.5 L362.5 656.4 L363.5 656.4 L364.5 656.0 L365.5 654.7 L366.5 654.1 L367.5 656.3 L368.5 655.2 L369.5 655.0 L370.5 653.8 L371.5 654.4 L372.5 651.6 L373.5 649.1 L374.5 645.8 L375.5 645.0 L376.5 646.6 L377.5 644.7 L378.5 643.7 L379.5 641.1 L380.5 640.5 L381.5 640.2 L382.5 639.6 L383.5 642.3 L384.5 641.4 L385.5 642.8 L386.5 640.5 L387.5 641.0 L388.5 639.5 L389.5 638.4 L390.5 637.0 L391.5 636.8 L392.5 639.2 L393.5 639.4 L394.5 640.8 L395.5 640.1 L396.5 642.0 L397.5 638.7 L398.5 640.3 L399.5 640.2 L400.5 640.9 L401.5 639.5 L402.5 639.4 L403.5 638.7 L404.5 638.4 L405.5 639.6 L406.5 639.8 L407.5 639.5 L408.5 642.0 L409.5 644.2 L410.5 646.5 L411.5 645.0 L412.5 646.2 L413.5 644.4 L414.5 646.2 L415.5 645.9 L416.5 646.9 L417.5 647.4 L418.5 648.2 L419.5 648.5 L420.5 649.9 L421.5 650.0 L422.5 648.9 L423.5 649.0 L424.5 648.4 L425.5 648.7 L426.5 649.5 L427.5 650.6 L428.5 649.9 L429.5 649.9 L430.5 649.4 L431.5 649.0 L432.5 648.5 L433.5 648.8 L434.5 648.1 L435.5 648.3 L436.5 649.0 L437.5 650.8 L438.5 649.2 L439.5 648.2 L440.5 647.8 L441.5 648.7 L442.5 648.1 L443.5 648.6 L444.5 647.4 L445.5 648.1 L446.5 648.1 L447.5 647.2 L448.5 648.0 L449.5 648.6 L450.5 646.1 L451.5 646.7 L452.5 644.8 L453.5 644.7 L454.5 644.2 L455.5 644.2 L456.5 645.8 L457.5 644.3 L458.5 645.6 L459.5 645.3 L460.5 645.6 L461.5 646.5 L462.5 648.4 L463.5 647.4 L464.5 648.4 L465.5 647.7 L466.5 647.4 L467.5 645.2 L468.5 645.3 L469.5 645.9 L470.5 646.7 L471.5 645.6 L472.5 644.9 L473.5 645.1 L474.5 644.8 L475.5 643.2 L476.5 642.9 L477.5 643.4 L478.5 640.8 L479.5 639.8 L480.5 641.8 L481.5 642.6 L482.5 643.1 L483.5 642.3 L484.5 642.9 L485.5 642.7 L486.5 642.3 L487.5 642.3 L488.5 641.4 L489.5 642.7 L490.5 643.5 L491.5 645.3 L492.5 647.6 L493.5 649.4 L494.5 648.8 L495.5 649.4 L496.5 648.9 L497.5 648.8 L498.5 650.1 L499.5 650.5 L500.5 648.8 L501.5 648.7 L502.5 649.2 L503.5 648.1 L504.5 649.9 L505.5 650.2 L506.5 650.8 L507.5 649.6 L508.5 651.2 L509.5 651.0 L510.5 650.3 L511.5 649.5 L512.5 650.3 L513.5 651.5 L514.5 651.2 L515.5 651.5 L516.5 649.9 L517.5 651.0 L518.5 651.2 L519.5 649.9 L520.5 649.7 L521.5 648.3 L522.5 644.9 L523.5 643.3 L524.5 643.6 L525.5 642.2 L526.5 639.8 L527.5 642.0 L528.5 642.7 L529.5 642.7 L530.5 642.9 L531.5 642.9 L532.5 642.3 L533.5 644.3 L534.5 643.1 L535.5 644.2 L536.5 643.8 L537.5 646.2 L538.5 644.3 L539.5 645.5 L540.5 645.4 L541.5 645.8 L542.5 646.4 L543.5 644.8 L544.5 645.0 L545.5 645.4 L546.5 645.4 L547.5 644.4 L548.5 644.0 L549.5 645.5 L550.5 644.3 L551.5 643.5 L552.5 643.0 L553.5 643.9 L554.5 644.4 L555.5 644.2 L556.5 645.5 L557.5 641.2 L558.5 637.3 L559.5 636.8 L560.5 634.9 L561.5 636.4 L562.5 636.8 L563.5 633.9 L564.5 633.8 L565.5 633.1 L566.5 632.7 L567.5 631.0 L568.5 632.5 L569.5 631.2 L570.5 633.1 L571.5 630.7 L572.5 629.4 L573.5 631.0 L574.5 630.6 L575.5 629.8 L576.5 630.9 L577.5 632.0 L578.5 631.9 L579.5 630.9 L580.5 632.3 L581.5 632.9 L582.5 634.9 L583.5 635.5 L584.5 634.6 L585.5 636.1 L586.5 636.3 L587.5 638.7 L588.5 640.7 L589.5 638.8 L590.5 640.2 L591.5 640.5 L592.5 640.2 L593.5 641.7 L594.5 641.2 L595.5 640.1 L596.5 642.0 L597.5 641.8 L598.5 643.6 L599.5 643.3 L600.5 643.6 L601.5 643.9 L602.5 642.6 L603.5 644.1 L604.5 645.0 L605.5 645.1 L606.5 645.8 L607.5 644.1 L608.5 645.8 L609.5 645.6 L610.5 646.4 L611.5 646.7 L612.5 645.5 L613.5 647.1 L614.5 646.3 L615.5 643.2 L616.5 642.0 L617.5 640.9 L618.5 640.1 L619.5 641.7 L620.5 641.2 L621.5 638.7 L622.5 638.9 L623.5 639.1 L624.5 639.1 L625.5 641.4 L626.5 641.1 L627.5 640.1 L628.5 639.3 L629.5 639.0 L630.5 637.7 L631.5 638.5 L632.5 639.8 L633.5 636.8 L634.5 636.9 L635.5 637.8 L636.5 636.8 L637.5 637.3 L638.5 634.7 L639.5 636.5 L640.5 634.2 L641.5 635.2 L642.5 634.5 L643.5 631.6 L644.5 630.2 L645.5 634.8 L646.5 635.1 L647.5 638.3 L648.5 639.4 L649.5 639.6 L650.5 639.4 L651.5 642.2 L652.5 642.6 L653.5 643.5 L654.5 644.6 L655.5 644.1 L656.5 644.3 L657.5 643.9 L658.5 643.3 L659.5 643.4 L660.5 641.7 L661.5 642.6 L662.5 643.6 L663.5 645.7 L664.5 643.9 L665.5 643.9 L666.5 644.4 L667.5 643.7 L668.5 644.3 L669.5 642.4 L670.5 644.1 L671.5 645.0 L672.5 645.4 L673.5 646.5 L674.5 648.4 L675.5 647.0 L676.5 647.9 L677.5 648.5 L678.5 647.6 L679.5 647.4 L680.5 649.3 L681.5 647.5 L682.5 649.0 L683.5 647.5 L684.5 646.0 L685.5 645.7 L686.5 646.0 L687.5 645.7 L688.5 645.7 L689.5 645.6 L690.5 647.3 L691.5 645.5 L692.5 644.5 L693.5 642.8 L694.5 645.1 L695.5 644.0 L696.5 645.0 L697.5 646.7 L698.5 647.6 L699.5 647.2 L700.5 647.9 L701.5 645.4 L702.5 645.8 L703.5 645.6 L704.5 646.2 L705.5 646.5 L706.5 646.5 L707.5 646.2 L708.5 646.4 L709.5 646.9 L710.5 645.8 L711.5 646.8 L712.5 644.8 L713.5 643.2 L714.5 642.0 L715.5 639.2 L716.5 639.5 L717.5 640.5 L718.5 641.3 L719.5 643.2 L720.5 641.0 L721.5 641.0 L722.5 642.8 L723.5 642.3 L724.5 641.7 L725.5 643.1 L726.5 640.1 L727.5 639.8 L728.5 639.0 L729.5 640.4 L730.5 637.4 L731.5 638.5 L732.5 638.7 L733.5 639.2 L734.5 637.2 L735.5 638.1 L736.5 639.7 L737.5 637.1 L738.5 638.3 L739.5 638.1 L740.5 637.3 L741.5 637.5 L742.5 638.3 L743.5 640.9 L744.5 644.1 L745.5 645.9 L746.5 645.0 L747.5 645.0 L748.5 644.7 L749.5 644.4 L750.5 645.3 L751.5 645.7 L752.5 645.1 L753.5 646.9 L754.5 646.6 L755.5 644.5 L756.5 646.6 L757.5 646.1 L758.5 645.7 L759.5 645.4 L760.5 645.8 L761.5 647.0 L762.5 645.9 L763.5 645.2 L764.5 646.5 L765.5 646.0 L766.5 645.1 L767.5 646.1 L768.5 645.3 L769.5 645.1 L770.5 645.9 L771.5 646.9 L772.5 649.9 L773.5 649.3 L774.5 648.6 L775.5 649.3 L776.5 649.0 L777.5 648.6 L778.5 649.4 L779.5 647.5 L780.5 647.8 L781.5 648.7 L782.5 648.3 L783.5 646.6 L784.5 646.2 L785.5 646.7 L786.5 648.1 L787.5 648.9 L788.5 648.3 L789.5 649.4 L790.5 649.1 L791.5 648.1 L792.5 649.3 L793.5 649.0 L794.5 649.0 L795.5 648.9 L796.5 647.9 L797.5 647.5 L798.5 648.1 L799.5 648.4 L800.5 647.8 L801.5 647.2 L802.5 643.3 L803.5 642.7 L804.5 644.5 L805.5 642.5 L806.5 641.7 L807.5 644.3 L808.5 643.0 L809.5 643.5 L810.5 643.0 L811.5 643.4 L812.5 644.8 L813.5 644.8 L814.5 645.1 L815.5 645.7 L816.5 642.8 L817.5 640.5 L818.5 641.6 L819.5 640.0 L820.5 642.2 L821.5 642.6 L822.5 641.7 L823.5 641.0 L824.5 641.6 L825.5 641.3 L826.5 643.3 L827.5 643.7 L828.5 642.6 L829.5 642.8 L830.5 642.6 L831.5 642.2 L832.5 642.1 L833.5 641.8 L834.5 639.6 L835.5 641.4 L836.5 641.7 L837.5 640.6 L838.5 637.8 L839.5 635.6 L840.5 634.9 L841.5 636.4 L842.5 633.1 L843.5 633.8 L844.5 635.4 L845.5 636.7 L846.5 637.2 L847.5 637.8 L848.5 638.0 L849.5 637.5 L850.5 635.9 L851.5 635.0 L852.5 636.1 L853.5 635.8 L854.5 634.6 L855.5 634.6 L856.5 632.8 L857.5 634.0 L858.5 634.9 L859.5 634.8 L860.5 634.7 L861.5 634.2 L862.5 635.2 L863.5 636.4 L864.5 637.3 L865.5 636.1 L866.5 636.1 L867.5 635.4 L868.5 638.1 L869.5 641.8 L870.5 642.5 L871.5 639.4 L872.5 641.1 L873.5 641.3 L874.5 640.8 L875.5 640.3 L876.5 639.3 L877.5 641.3 L878.5 638.8 L879.5 639.9 L880.5 638.4 L881.5 638.8 L882.5 636.1 L883.5 636.1 L884.5 636.2 L885.5 638.3 L886.5 639.7 L887.5 639.0 L888.5 639.7 L889.5 640.0 L890.5 639.5 L891.5 639.6 L892.5 641.4 L893.5 638.7 L894.5 639.5 L895.5 640.1 L896.5 639.8 L897.5 638.5 L898.5 638.9 L899.5 639.9 L900.5 639.0 L901.5 641.3 L902.5 639.8 L903.5 640.8 L904.5 639.7 L905.5 638.8 L906.5 639.8 L907.5 639.8 L908.5 641.9 L909.5 640.5 L910.5 642.3 L911.5 641.9 L912.5 643.5 L913.5 644.3 L914.5 645.6 L915.5 644.3 L916.5 642.7 L917.5 640.7 L918.5 640.4 L919.5 640.0 L920.5 642.7 L921.5 644.2 L922.5 642.7 L923.5 644.9 L924.5 643.6 L925.5 644.2 L926.5 644.2 L927.5 647.1 L928.5 647.3 L929.5 646.0 L930.5 647.5 L931.5 647.0 L932.5 647.6 L933.5 645.4 L934.5 646.0 L935.5 644.3 L936.5 645.2 L937.5 643.9 L938.5 644.8 L939.5 645.0 L940.5 643.8 L941.5 644.6 L942.5 645.9 L943.5 646.1 L944.5 643.7 L945.5 643.9 L946.5 645.1 L947.5 646.3 L948.5 644.7 L949.5 643.2 L950.5 641.3 L951.5 640.3 L952.5 639.0 L953.5 638.3 L954.5 637.3 L955.5 636.3 L956.5 637.9 L957.5 636.6 L958.5 636.0 L959.5 636.0 L960.5 636.7 L961.5 634.7 L962.5 634.1 L963.5 637.0 L964.5 635.6 L965.5 635.8 L966.5 632.8 L967.5 630.8 L968.5 627.9 L969.5 629.7 L970.5 631.2 L971.5 631.1 L972.5 629.1 L973.5 628.4 L974.5 626.1 L975.5 627.3 L976.5 626.0 L977.5 626.5 L978.5 628.1 L979.5 629.0 L980.5 628.5 L981.5 630.4 L982.5 630.3 L983.5 633.2 L984.5 633.7 L985.5 635.1 L986.5 634.1 L987.5 634.4 L988.5 634.5 L989.5 636.1 L990.5 633.8 L991.5 633.3 L992.5 634.4 L993.5 631.3 L994.5 632.5 L995.5 634.4 L996.5 637.4 L997.5 639.4 L998.5 641.3 L999.5 641.8 L1000.5 639.6 L1001.5 641.3 L1002.5 641.7 L1003.5 642.4 L1004.5 644.3 L1005.5 642.8 L1006.5 642.4 L1007.5 642.4 L1008.5 643.2 L1009.5 644.4 L1010.5 646.4 L1011.5 645.4 L1012.5 646.6 L1013.5 646.3 L1014.5 646.9 L1015.5 646.1 L1016.5 647.1 L1017.5 644.6 L1018.5 645.6 L1019.5 642.7 L1020.5 644.1 L1021.5 644.8 L1022.5 645.4 L1023.5 646.7 L1024.5 647.7 L1025.5 648.0 L1026.5 648.2 L1027.5 648.9 L1028.5 649.0 L1029.5 647.6 L1030.5 650.7 L1031.5 648.5 L1032.5 647.5 L1033.5 645.7 L1034.5 646.5 L1035.5 649.3 L1036.5 647.5 L1037.5 649.1 L1038.5 649.0 L1039.5 648.4 L1040.5 647.8 L1041.5 646.3 L1042.5 645.8 L1043.5 643.2 L1044.5 643.1 L1045.5 643.7 L1046.5 643.1 L1047.5 643.5 L1048.5 642.2 L1049.5 642.2 L1050.5 641.7 L1051.5 643.9 L1052.5 643.3 L1053.5 642.9 L1054.5 641.0 L1055.5 641.8 L1056.5 640.1 L1057.5 640.7 L1058.5 640.0 L1059.5 640.9 L1060.5 637.6 L1061.5 639.7 L1062.5 640.9 L1063.5 642.7 L1064.5 641.8 L1065.5 639.0 L1066.5 641.1 L1067.5 639.6 L1068.5 640.2 L1069.5 640.4 L1070.5 640.6 L1071.5 642.1 L1072.5 640.8 L1073.5 643.7 L1074.5 643.8 L1075.5 645.0 L1076.5 644.2 L1077.5 645.7 L1078.5 646.2 L1079.5 648.0 L1080.5 647.6 L1081.5 646.5 L1082.5 648.1 L1083.5 646.5 L1084.5 648.1 L1085.5 649.3 L1086.5 648.6 L1087.5 647.9 L1088.5 648.3 L1089.5 648.3 L1090.5 648.1 L1091.5 648.9 L1092.5 647.5 L1093.5 648.8 L1094.5 650.3 L1095.5 651.6 L1096.5 652.5 L1097.5 652.7 L1098.5 651.0 L1099.5 650.5 L1100.5 650.3 L1101.5 649.3 L1102.5 649.6 L1103.5 647.8 L1104.5 646.7 L1105.5 644.2 L1106.5 644.4 L1107.5 643.5 L1108.5 642.7 L1109.5 642.7 L1110.5 642.9 L1111.5 643.5 L1112.5 640.5 L1113.5 643.3 L1114.5 642.3 L1115.5 640.6 L1116.5 641.6 L1117.5 640.5 L1118.5 640.4 L1119.5 640.7 L1120.5 641.9 L1121.5 642.3 L1122.5 644.4 L1123.5 642.8 L1124.5 642.9 L1125.5 643.4 L1126.5 641.8 L1127.5 641.2 L1128.5 641.9 L1129.5 642.4 L1130.5 641.8 L1131.5 644.2 L1132.5 644.4 L1133.5 644.8 L1134.5 646.0 L1135.5 647.6 L1136.5 648.0 L1137.5 648.4 L1138.5 647.8 L1139.5 649.1 L1140.5 648.5 L1141.5 648.7 L1142.5 648.2 L1143.5 646.6 L1144.5 645.8 L1145.5 646.5 L1146.5 647.6 L1147.5 648.4 L1148.5 647.4 L1149.5 648.4 L1150.5 648.6 L1151.5 646.8 L1152.5 647.3 L1153.5 648.0 L1154.5 646.4 L1155.5 644.5 L1156.5 646.2 L1157.5 645.4 L1158.5 647.7 L1159.5 648.4 L1160.5 647.2 L1161.5 645.7 L1162.5 645.8 L1163.5 645.8 L1164.5 644.7 L1165.5 643.9 L1166.5 644.0 L1167.5 644.0 L1168.5 645.1 L1169.5 641.9 L1170.5 643.4 L1171.5 641.6 L1172.5 643.0 L1173.5 644.4 L1174.5 644.9 L1175.5 642.7 L1176.5 642.0 L1177.5 643.5 L1178.5 642.5 L1179.5 641.8 L1180.5 640.5 L1181.5 641.6 L1182.5 641.3 L1183.5 640.1 L1184.5 642.3 L1185.5 642.7 L1186.5 640.8 L1187.5 642.7 L1188.5 640.6 L1189.5 638.9 L1190.5 641.1 L1191.5 641.4 L1192.5 642.8 L1193.5 641.6 L1194.5 643.2 L1195.5 640.8 L1196.5 641.4 L1197.5 641.0 L1198.5 641.5 L1199.5 642.3 L1200.5 640.6 L1201.5 642.2 L1202.5 642.9 L1203.5 642.0 L1204.5 642.1 L1205.5 642.6 L1206.5 644.5 L1207.5 642.4 L1208.5 643.5 L1209.5 642.0 L1210.5 642.1 L1211.5 640.4 L1212.5 639.7 L1213.5 640.6 L1214.5 638.5 L1215.5 639.2 L1216.5 640.6 L1217.5 641.0 L1218.5 638.4 L1219.5 638.0 L1220.5 635.4 L1221.5 634.4 L1222.5 632.5 L1223.5 632.9 L1224.5 633.7 L1225.5 633.4 L1226.5 632.2 L1227.5 632.1 L1228.5 632.2 L1229.5 631.4 L1230.5 633.1 L1231.5 632.7 L1232.5 631.0 L1233.5 631.4 L1234.5 630.1 L1235.5 630.8 L1236.5 628.7 L1237.5 630.6 L1238.5 631.6 L1239.5 632.5 L1240.5 634.1 L1241.5 633.9 L1242.5 633.8 L1243.5 631.6 L1244.5 631.6 L1245.5 630.2 L1246.5 631.0 L1247.5 628.1 L1248.5 632.5 L1249.5 633.1 L1250.5 636.1 L1251.5 636.7 L1252.5 635.8 L1253.5 639.2 L1254.5 637.5 L1255.5 640.4 L1256.5 639.0 L1257.5 639.5 L1258.5 638.5 L1259.5 640.3 L1260.5 640.5 L1261.5 640.3 L1262.5 643.5 L1263.5 644.4 L1264.5 644.9 L1265.5 645.6 L1266.5 645.1 L1267.5 644.4 L1268.5 644.0 L1269.5 643.9 L1270.5 643.5 L1271.5 644.8 L1272.5 643.8 L1273.5 646.0 L1274.5 645.6 L1275.5 646.2 L1276.5 644.3 L1277.5 645.8 L1278.5 644.7 L1279.5 645.5 L1280.5 643.4 L1281.5 645.0 L1282.5 645.7 L1283.5 644.6 L1284.5 645.8 L1285.5 646.3 L1286.5 646.6 L1287.5 646.2 L1288.5 645.6 L1289.5 645.3 L1290.5 644.7 L1291.5 643.7 L1292.5 641.8 L1293.5 640.8 L1294.5 641.5 L1295.5 641.3 L1296.5 640.2 L1297.5 640.6 L1298.5 641.2 L1299.5 641.2 L1300.5 640.5 L1301.5 641.0 L1302.5 641.8 L1303.5 642.4 L1304.5 643.1 L1305.5 643.1 L1306.5 644.1 L1307.5 645.1 L1308.5 643.6 L1309.5 645.0 L1310.5 645.9 L1311.5 645.1 L1312.5 645.3 L1313.5 645.6 L1314.5 643.1 L1315.5 643.4 L1316.5 645.4 L1317.5 644.4 L1318.5 645.8 L1319.5 645.1 L1320.5 645.0 L1321.5 646.2 L1322.5 647.0 L1323.5 646.1 L1324.5 646.7 L1325.5 647.3 L1326.5 648.4 L1327.5 648.9 L1328.5 649.4 L1329.5 649.5 L1330.5 650.7 L1331.5 649.4 L1332.5 650.7 L1333.5 648.8 L1334.5 648.2 L1335.5 648.0 L1336.5 648.5 L1337.5 647.1 L1338.5 648.0 L1339.5 648.3 L1340.5 649.7 L1341.5 650.0 L1342.5 649.5 L1343.5 649.8 L1344.5 651.3 L1345.5 650.3 L1346.5 649.3 L1347.5 650.0 L1348.5 650.4 L1349.5 651.0 L1350.5 650.3 L1351.5 650.0 L1352.5 649.1 L1353.5 650.2 L1354.5 648.5 L1355.5 646.3 L1356.5 647.3 L1357.5 646.7 L1358.5 646.0 L1359.5 645.5 L1360.5 644.8 L1361.5 644.3 L1362.5 644.5 L1363.5 644.6 L1364.5 646.9 L1365.5 647.6 L1366.5 646.9 L1367.5 645.9 L1368.5 648.0 L1369.5 646.8 L1370.5 644.7 L1371.5 643.9 L1372.5 644.7 L1373.5 643.2 L1374.5 641.4 L1375.5 642.3 L1376.5 643.7 L1377.5 645.5 L1378.5 643.0 L1379.5 643.7 L1380.5 643.7 L1381.5 642.6 L1382.5 643.9 L1383.5 641.2 L1384.5 643.8 L1385.5 644.3 L1386.5 640.7 L1387.5 640.7 L1388.5 641.0 L1389.5 642.0 L1390.5 641.4 L1391.5 642.0 L1392.5 639.6 L1393.5 640.7 L1394.5 639.2 L1395.5 638.6 L1396.5 640.0 L1397.5 640.1 L1398.5 638.3 L1399.5 637.8 L1400.5 636.1 L1401.5 636.6 L1402.5 635.1 L1403.5 635.5 L1404.5 637.5 L1405.5 637.6 L1406.5 636.5 L1407.5 636.4 L1408.5 636.8 L1409.5 636.1 L1410.5 637.3 L1411.5 637.6 L1412.5 635.9 L1413.5 638.6 L1414.5 638.1 L1415.5 638.0 L1416.5 640.7 L1417.5 638.8 L1418.5 639.5 L1419.5 639.2 L1420.5 640.1 L1421.5 639.8 L1422.5 640.6 L1423.5 640.8 L1424.5 641.1 L1425.5 640.3 L1426.5 640.3 L1427.5 640.5 L1428.5 641.3 L1429.5 640.6 L1430.5 643.7 L1431.5 642.3 L1432.5 642.5 L1433.5 643.3 L1434.5 643.1 L1435.5 641.7 L1436.5 641.5 L1437.5 641.8 L1438.5 643.2 L1439.5 644.5 L1440.5 644.5 L1441.5 645.7 L1442.5 645.3 L1443.5 646.5 L1444.5 645.4 L1445.5 646.4 L1446.5 644.8 L1447.5 647.2 L1448.5 645.9 L1449.5 646.1 L1450.5 645.6 L1451.5 645.6 L1452.5 645.1 L1453.5 643.1 L1454.5 643.1 L1455.5 642.5 L1456.5 643.7 L1457.5 644.4 L1458.5 641.8 L1459.5 644.3 L1460.5 642.3 L1461.5 644.3 L1462.5 644.8 L1463.5 643.6 L1464.5 643.2 L1465.5 643.7 L1466.5 641.5 L1467.5 641.0 L1468.5 640.3 L1469.5 640.3 L1470.5 640.5 L1471.5 638.9 L1472.5 640.7 L1473.5 639.4 L1474.5 639.2 L1475.5 639.2 L1476.5 640.7 L1477.5 638.7 L1478.5 639.5 L1479.5 639.5 L1480.5 640.4 L1481.5 641.1 L1482.5 640.9 L1483.5 642.9 L1484.5 643.7 L1485.5 645.1 L1486.5 643.1 L1487.5 642.5 L1488.5 645.5 L1489.5 641.9 L1490.5 644.1 L1491.5 642.1 L1492.5 642.8 L1493.5 642.1 L1494.5 643.6 L1495.5 643.9 L1496.5 646.0 L1497.5 643.4 L1498.5 643.6 L1499.5 643.3 L1500.5 644.7 L1501.5 645.4 L1502.5 644.3 L1503.5 645.3 L1504.5 645.5 L1505.5 646.0 L1506.5 645.9 L1507.5 646.3 L1508.5 645.6 L1509.5 645.1 L1510.5 644.0 L1511.5 644.9 L1512.5 645.6 L1513.5 646.4 L1514.5 645.4 L1515.5 643.9 L1516.5 645.0 L1517.5 645.1 L1518.5 644.8 L1519.5 645.1 L1520.5 645.2 L1521.5 645.9 L1522.5 645.7 L1523.5 646.8 L1524.5 645.7 L1525.5 645.7 L1526.5 646.6 L1527.5 647.1 L1528.5 647.4 L1529.5 645.6 L1530.5 644.0 L1531.5 644.4 L1532.5 643.5 L1533.5 643.8 L1534.5 643.9 L1535.5 643.9 L1536.5 644.8 L1537.5 644.9 L1538.5 646.0 L1539.5 645.9 L1540.5 646.8 L1541.5 645.3 L1542.5 646.4 L1543.5 645.5 L1544.5 644.2 L1545.5 644.5 L1546.5 643.1 L1547.5 643.8 L1548.5 640.1 L1549.5 641.3 L1550.5 640.7 L1551.5 641.1 L1552.5 639.8 L1553.5 641.0 L1554.5 641.7 L1555.5 642.1 L1556.5 642.4 L1557.5 643.8 L1558.5 644.5 L1559.5 644.8 L1560.5 645.8 L1561.5 646.0 L1562.5 647.2 L1563.5 647.7 L1564.5 647.2 L1565.5 646.3 L1566.5 645.7 L1567.5 645.4 L1568.5 644.8 L1569.5 644.2 L1570.5 643.4 L1571.5 643.9 L1572.5 643.0 L1573.5 642.5 L1574.5 644.9 L1575.5 643.8 L1576.5 646.1 L1577.5 645.7 L1578.5 648.0 L1579.5 648.0 L1580.5 649.3 L1581.5 648.8 L1582.5 650.1 L1583.5 649.8 L1584.5 649.4 L1585.5 649.0 L1586.5 649.1 L1587.5 647.5 L1588.5 647.8 L1589.5 647.9 L1590.5 648.5 L1591.5 649.1 L1592.5 649.0 L1593.5 648.0 L1594.5 650.1 L1595.5 650.8 L1596.5 650.0 L1597.5 650.6 L1598.5 651.5 L1599.5 651.9 L1600.5 652.4 L1601.5 651.4 L1602.5 651.3 L1603.5 650.9 L1604.5 650.6 L1605.5 650.7 L1606.5 650.4 L1607.5 649.5 L1608.5 651.0 L1609.5 650.9 L1610.5 647.9 L1611.5 649.0 L1612.5 649.5 L1613.5 649.1 L1614.5 647.9 L1615.5 648.8 L1616.5 647.3 L1617.5 649.2 L1618.5 648.1 L1619.5 649.7 L1620.5 647.8 L1621.5 647.6 L1622.5 646.8 L1623.5 647.1 L1624.5 645.8 L1625.5 645.6 L1626.5 647.1 L1627.5 645.6 L1628.5 644.9 L1629.5 645.1 L1630.5 644.9 L1631.5 645.0 L1632.5 644.6 L1633.5 646.2 L1634.5 645.1 L1635.5 646.9 L1636.5 645.1 L1637.5 646.5 L1638.5 645.0 L1639.5 644.6 L1640.5 645.5 L1641.5 644.9 L1642.5 642.3 L1643.5 642.6 L1644.5 644.9 L1645.5 644.6 L1646.5 644.9 L1647.5 644.9 L1648.5 645.1 L1649.5 642.7 L1650.5 643.0 L1651.5 641.4 L1652.5 641.6" stroke="#7f72cf" stroke-width="1.2" fill="none"/>
<path d="M20.5 680.0V680.0M21.5 680.0V680.0M22.5 680.0V680.0M23.5 680.0V680.0M24.5 680.0V680.0M25.5 680.0V679.8M26.5 680.0V679.5M27.5 680.0V679.4M28.5 680.0V679.1M29.5 680.0V678.9M33.5 680.0V679.3M35.5 680.0V678.5M36.5 680.0V677.5M37.5 680.0V676.6M38.5 680.0V676.3M39.5 680.0V676.1M41.5 680.0V676.0M42.5 680.0V675.9M43.5 680.0V675.8M44.5 680.0V675.5M45.5 680.0V675.3M47.5 680.0V675.3M48.5 680.0V675.0M58.5 680.0V677.9M61.5 680.0V677.8M62.5 680.0V677.3M63.5 680.0V676.9M72.5 680.0V681.3M73.5 680.0V681.1M82.5 680.0V684.7M83.5 680.0V684.6M84.5 680.0V684.1M85.5 680.0V683.7M86.5 680.0V683.2M87.5 680.0V682.8M88.5 680.0V682.3M89.5 680.0V681.4M90.5 680.0V680.6M91.5 680.0V679.7M92.5 680.0V678.3M93.5 680.0V677.2M94.5 680.0V676.4M95.5 680.0V675.2M96.5 680.0V673.9M97.5 680.0V673.1M98.5 680.0V672.1M99.5 680.0V671.3M100.5 680.0V670.7M102.5 680.0V670.4M103.5 680.0V670.3M104.5 680.0V670.1M105.5 680.0V669.7M106.5 680.0V669.1M107.5 680.0V668.5M108.5 680.0V668.5M123.5 680.0V677.1M124.5 680.0V676.8M125.5 680.0V676.7M126.5 680.0V675.9M127.5 680.0V675.3M129.5 680.0V675.2M141.5 680.0V683.7M142.5 680.0V683.5M143.5 680.0V683.3M145.5 680.0V682.8M147.5 680.0V682.8M158.5 680.0V688.9M159.5 680.0V688.7M160.5 680.0V688.3M161.5 680.0V687.5M162.5 680.0V687.0M163.5 680.0V686.7M164.5 680.0V686.2M165.5 680.0V685.8M166.5 680.0V685.6M167.5 680.0V685.0M168.5 680.0V684.3M169.5 680.0V683.9M170.5 680.0V683.7M171.5 680.0V683.4M172.5 680.0V683.1M173.5 680.0V682.9M174.5 680.0V682.3M175.5 680.0V682.0M176.5 680.0V681.5M177.5 680.0V681.1M178.5 680.0V681.0M179.5 680.0V680.9M180.5 680.0V680.6M182.5 680.0V680.7M194.5 680.0V684.8M195.5 680.0V684.5M196.5 680.0V684.1M197.5 680.0V684.1M198.5 680.0V683.9M205.5 680.0V687.1M206.5 680.0V686.5M207.5 680.0V686.0M208.5 680.0V685.4M209.5 680.0V684.7M210.5 680.0V684.0M211.5 680.0V683.2M212.5 680.0V682.7M213.5 680.0V682.0M214.5 680.0V681.5M215.5 680.0V681.2M216.5 680.0V680.4M217.5 680.0V679.6M218.5 680.0V678.8M219.5 680.0V678.0M220.5 680.0V677.2M221.5 680.0V676.9M222.5 680.0V676.4M237.5 680.0V681.6M238.5 680.0V680.8M239.5 680.0V679.6M240.5 680.0V678.5M241.5 680.0V677.8M242.5 680.0V677.7M254.5 680.0V680.9M255.5 680.0V680.1M256.5 680.0V679.6M257.5 680.0V679.1M258.5 680.0V678.4M259.5 680.0V678.1M261.5 680.0V677.9M262.5 680.0V677.5M263.5 680.0V677.4M264.5 680.0V677.0M265.5 680.0V676.5M266.5 680.0V676.3M267.5 680.0V676.3M273.5 680.0V677.6M274.5 680.0V677.6M289.5 680.0V682.1M292.5 680.0V682.3M300.5 680.0V683.4M302.5 680.0V683.4M314.5 680.0V687.2M315.5 680.0V686.8M316.5 680.0V686.4M317.5 680.0V686.1M318.5 680.0V685.9M319.5 680.0V685.7M320.5 680.0V685.3M321.5 680.0V684.9M322.5 680.0V684.6M323.5 680.0V684.3M324.5 680.0V683.8M325.5 680.0V683.5M326.5 680.0V683.2M327.5 680.0V682.9M328.5 680.0V682.4M329.5 680.0V682.3M330.5 680.0V682.0M331.5 680.0V681.7M332.5 680.0V681.5M333.5 680.0V681.4M334.5 680.0V681.1M335.5 680.0V681.0M336.5 680.0V680.8M337.5 680.0V680.5M338.5 680.0V680.3M339.5 680.0V680.2M340.5 680.0V680.0M349.5 680.0V686.6M350.5 680.0V686.5M352.5 680.0V686.6M353.5 680.0V686.4M354.5 680.0V686.2M355.5 680.0V685.8M356.5 680.0V685.4M357.5 680.0V685.0M358.5 680.0V684.7M359.5 680.0V684.5M361.5 680.0V684.5M362.5 680.0V684.4M363.5 680.0V684.3M364.5 680.0V684.0M365.5 680.0V683.6M366.5 680.0V683.0M367.5 680.0V682.6M368.5 680.0V682.1M369.5 680.0V681.7M370.5 680.0V681.3M371.5 680.0V681.2M372.5 680.0V680.8M373.5 680.0V680.5M374.5 680.0V680.3M375.5 680.0V680.1M376.5 680.0V679.9M377.5 680.0V679.8M378.5 680.0V679.7M379.5 680.0V679.3M380.5 680.0V679.0M381.5 680.0V678.6M382.5 680.0V678.4M383.5 680.0V678.4M386.5 680.0V678.6M388.5 680.0V678.4M389.5 680.0V678.2M390.5 680.0V678.0M391.5 680.0V677.9M397.5 680.0V679.1M398.5 680.0V679.0M399.5 680.0V678.9M400.5 680.0V678.9M403.5 680.0V678.8M404.5 680.0V678.7M405.5 680.0V678.7M425.5 680.0V682.3M426.5 680.0V682.2M427.5 680.0V682.2M428.5 680.0V682.1M429.5 680.0V682.1M430.5 680.0V682.0M431.5 680.0V681.8M432.5 680.0V681.4M433.5 680.0V681.0M434.5 680.0V680.5M435.5 680.0V680.2M436.5 680.0V680.1M442.5 680.0V680.8M446.5 680.0V681.0M447.5 680.0V680.9M448.5 680.0V680.9M450.5 680.0V680.9M452.5 680.0V680.9M453.5 680.0V680.7M454.5 680.0V680.4M455.5 680.0V680.2M456.5 680.0V680.1M457.5 680.0V680.1M461.5 680.0V680.4M463.5 680.0V680.5M464.5 680.0V680.4M465.5 680.0V680.3M467.5 680.0V680.3M468.5 680.0V680.2M469.5 680.0V680.1M471.5 680.0V680.2M472.5 680.0V680.2M475.5 680.0V680.1M476.5 680.0V679.8M477.5 680.0V679.7M478.5 680.0V679.3M479.5 680.0V679.0M480.5 680.0V678.9M482.5 680.0V679.0M485.5 680.0V679.1M486.5 680.0V679.0M487.5 680.0V679.0M497.5 680.0V682.5M501.5 680.0V682.5M502.5 680.0V682.5M503.5 680.0V682.3M504.5 680.0V682.2M505.5 680.0V682.1M506.5 680.0V682.0M507.5 680.0V681.9M508.5 680.0V681.8M509.5 680.0V681.6M510.5 680.0V681.3M511.5 680.0V681.2M512.5 680.0V681.1M513.5 680.0V681.0M514.5 680.0V681.0M515.5 680.0V680.9M516.5 680.0V680.8M517.5 680.0V680.7M518.5 680.0V680.5M519.5 680.0V680.4M520.5 680.0V680.3M521.5 680.0V680.3M522.5 680.0V680.1M523.5 680.0V679.9M524.5 680.0V679.8M525.5 680.0V679.6M526.5 680.0V679.3M527.5 680.0V679.1M540.5 680.0V680.4M544.5 680.0V680.6M546.5 680.0V680.5M547.5 680.0V680.3M548.5 680.0V680.2M549.5 680.0V680.2M550.5 680.0V680.1M551.5 680.0V680.0M552.5 680.0V679.9M553.5 680.0V679.8M554.5 680.0V679.6M555.5 680.0V679.4M556.5 680.0V679.3M557.5 680.0V679.0M558.5 680.0V678.5M559.5 680.0V678.0M560.5 680.0V677.4M561.5 680.0V676.8M562.5 680.0V676.6M563.5 680.0V676.5M564.5 680.0V676.3M566.5 680.0V676.3M567.5 680.0V676.2M575.5 680.0V676.9M589.5 680.0V679.4M590.5 680.0V679.2M591.5 680.0V679.0M592.5 680.0V678.9M593.5 680.0V678.8M595.5 680.0V678.8M596.5 680.0V678.8M605.5 680.0V680.1M615.5 680.0V681.3M616.5 680.0V680.9M617.5 680.0V680.3M618.5 680.0V679.3M619.5 680.0V678.5M620.5 680.0V678.0M621.5 680.0V677.3M622.5 680.0V677.0M623.5 680.0V676.7M624.5 680.0V676.4M625.5 680.0V676.4M631.5 680.0V677.4M633.5 680.0V677.4M644.5 680.0V678.2M645.5 680.0V678.1M646.5 680.0V677.8M647.5 680.0V677.7M648.5 680.0V677.6M659.5 680.0V680.6M660.5 680.0V680.3M661.5 680.0V680.0M662.5 680.0V679.9M667.5 680.0V680.6M668.5 680.0V680.3M669.5 680.0V680.2M670.5 680.0V680.1M676.5 680.0V681.3M678.5 680.0V681.3M679.5 680.0V681.1M681.5 680.0V681.2M684.5 680.0V681.3M685.5 680.0V681.1M687.5 680.0V681.0M688.5 680.0V680.8M689.5 680.0V680.7M690.5 680.0V680.6M691.5 680.0V680.2M692.5 680.0V680.0M693.5 680.0V679.6M694.5 680.0V679.5M695.5 680.0V679.3M703.5 680.0V680.7M705.5 680.0V680.9M709.5 680.0V681.0M712.5 680.0V681.1M713.5 680.0V680.8M714.5 680.0V680.2M715.5 680.0V679.2M716.5 680.0V678.5M717.5 680.0V677.8M718.5 680.0V677.4M721.5 680.0V677.6M723.5 680.0V677.7M724.5 680.0V677.5M727.5 680.0V677.6M730.5 680.0V677.5M741.5 680.0V679.0M751.5 680.0V680.7M755.5 680.0V680.9M757.5 680.0V681.0M758.5 680.0V680.8M759.5 680.0V680.5M760.5 680.0V680.5M761.5 680.0V680.5M762.5 680.0V680.4M763.5 680.0V680.3M766.5 680.0V680.3M768.5 680.0V680.2M769.5 680.0V680.1M770.5 680.0V680.1M777.5 680.0V682.9M778.5 680.0V682.9M779.5 680.0V682.6M780.5 680.0V682.4M781.5 680.0V682.1M782.5 680.0V682.1M783.5 680.0V681.7M784.5 680.0V681.5M785.5 680.0V681.2M786.5 680.0V681.2M791.5 680.0V681.6M792.5 680.0V681.5M794.5 680.0V681.4M795.5 680.0V681.3M796.5 680.0V681.2M797.5 680.0V680.8M798.5 680.0V680.5M799.5 680.0V680.2M800.5 680.0V680.0M801.5 680.0V679.9M802.5 680.0V679.9M803.5 680.0V679.7M805.5 680.0V679.6M806.5 680.0V679.4M809.5 680.0V679.4M810.5 680.0V679.4M813.5 680.0V679.6M816.5 680.0V679.9M817.5 680.0V679.4M818.5 680.0V679.0M819.5 680.0V678.7M820.5 680.0V678.6M825.5 680.0V679.2M829.5 680.0V679.4M831.5 680.0V679.4M832.5 680.0V679.2M833.5 680.0V679.1M834.5 680.0V678.8M835.5 680.0V678.7M836.5 680.0V678.5M837.5 680.0V678.3M838.5 680.0V678.0M839.5 680.0V677.3M840.5 680.0V676.4M841.5 680.0V675.9M842.5 680.0V675.2M843.5 680.0V674.8M850.5 680.0V676.6M851.5 680.0V676.4M853.5 680.0V676.4M855.5 680.0V676.4M856.5 680.0V676.3M857.5 680.0V676.2M869.5 680.0V677.9M874.5 680.0V678.0M878.5 680.0V678.4M879.5 680.0V678.2M880.5 680.0V677.7M881.5 680.0V677.4M882.5 680.0V676.5M883.5 680.0V675.9M884.5 680.0V675.3M885.5 680.0V675.1M893.5 680.0V678.2M897.5 680.0V677.8M899.5 680.0V677.7M900.5 680.0V677.5M906.5 680.0V678.5M909.5 680.0V678.7M912.5 680.0V678.8M913.5 680.0V678.6M917.5 680.0V678.7M918.5 680.0V678.4M919.5 680.0V677.9M920.5 680.0V677.8M926.5 680.0V681.1M933.5 680.0V682.7M934.5 680.0V682.5M935.5 680.0V681.8M936.5 680.0V681.1M937.5 680.0V680.4M938.5 680.0V680.1M939.5 680.0V679.6M940.5 680.0V679.5M941.5 680.0V679.3M943.5 680.0V679.4M944.5 680.0V679.4M947.5 680.0V679.2M948.5 680.0V678.6M949.5 680.0V678.0M950.5 680.0V677.3M951.5 680.0V676.5M952.5 680.0V675.8M953.5 680.0V675.2M954.5 680.0V674.7M955.5 680.0V674.2M956.5 680.0V673.8M957.5 680.0V673.7M965.5 680.0V675.1M966.5 680.0V674.3M967.5 680.0V673.1M968.5 680.0V671.2M969.5 680.0V669.6M970.5 680.0V668.9M971.5 680.0V668.6M974.5 680.0V669.3M975.5 680.0V669.1M976.5 680.0V668.7M977.5 680.0V668.3M978.5 680.0V667.9M980.5 680.0V668.2M993.5 680.0V677.0M994.5 680.0V676.2M995.5 680.0V675.4M997.5 680.0V675.4M1006.5 680.0V679.3M1007.5 680.0V678.6M1008.5 680.0V677.8M1009.5 680.0V677.6M1017.5 680.0V683.9M1018.5 680.0V683.8M1019.5 680.0V683.1M1020.5 680.0V682.6M1021.5 680.0V681.9M1022.5 680.0V681.8M1023.5 680.0V681.4M1032.5 680.0V685.0M1033.5 680.0V684.1M1034.5 680.0V683.5M1035.5 680.0V682.9M1036.5 680.0V681.7M1037.5 680.0V681.4M1040.5 680.0V681.5M1042.5 680.0V681.5M1043.5 680.0V680.6M1044.5 680.0V679.9M1045.5 680.0V679.0M1046.5 680.0V678.6M1047.5 680.0V677.8M1048.5 680.0V677.5M1049.5 680.0V676.7M1050.5 680.0V675.8M1051.5 680.0V675.3M1053.5 680.0V675.2M1056.5 680.0V675.6M1057.5 680.0V675.5M1066.5 680.0V677.5M1067.5 680.0V677.0M1068.5 680.0V676.8M1080.5 680.0V683.4M1083.5 680.0V683.9M1084.5 680.0V683.9M1087.5 680.0V684.6M1090.5 680.0V684.5M1092.5 680.0V684.4M1099.5 680.0V687.0M1100.5 680.0V686.4M1101.5 680.0V685.6M1102.5 680.0V684.4M1103.5 680.0V683.3M1104.5 680.0V682.1M1105.5 680.0V680.4M1106.5 680.0V678.7M1107.5 680.0V677.2M1108.5 680.0V675.9M1109.5 680.0V675.1M1110.5 680.0V674.6M1112.5 680.0V674.6M1117.5 680.0V675.1M1130.5 680.0V682.7M1136.5 680.0V683.8M1137.5 680.0V683.7M1138.5 680.0V683.6M1140.5 680.0V683.4M1142.5 680.0V682.9M1143.5 680.0V682.4M1144.5 680.0V681.2M1145.5 680.0V680.5M1146.5 680.0V679.7M1147.5 680.0V679.5M1157.5 680.0V682.5M1158.5 680.0V682.5M1161.5 680.0V683.1M1163.5 680.0V682.6M1164.5 680.0V681.5M1165.5 680.0V680.7M1166.5 680.0V680.0M1167.5 680.0V679.4M1168.5 680.0V679.0M1169.5 680.0V678.6M1170.5 680.0V678.3M1171.5 680.0V677.9M1172.5 680.0V677.3M1173.5 680.0V676.8M1174.5 680.0V676.8M1175.5 680.0V676.1M1176.5 680.0V675.8M1178.5 680.0V675.5M1179.5 680.0V675.4M1189.5 680.0V679.4M1190.5 680.0V679.4M1193.5 680.0V680.1M1195.5 680.0V679.7M1196.5 680.0V679.2M1197.5 680.0V678.2M1198.5 680.0V677.9M1199.5 680.0V677.1M1200.5 680.0V676.9M1201.5 680.0V676.8M1203.5 680.0V676.6M1204.5 680.0V676.6M1209.5 680.0V677.0M1210.5 680.0V677.0M1211.5 680.0V676.1M1212.5 680.0V675.3M1213.5 680.0V675.1M1214.5 680.0V674.8M1218.5 680.0V676.3M1219.5 680.0V676.2M1220.5 680.0V675.0M1221.5 680.0V673.7M1222.5 680.0V671.7M1223.5 680.0V670.0M1224.5 680.0V669.2M1225.5 680.0V668.0M1226.5 680.0V667.0M1227.5 680.0V666.0M1228.5 680.0V665.8M1229.5 680.0V664.5M1230.5 680.0V664.5M1233.5 680.0V665.1M1234.5 680.0V665.0M1235.5 680.0V664.7M1236.5 680.0V664.6M1244.5 680.0V670.9M1245.5 680.0V670.4M1246.5 680.0V670.4M1247.5 680.0V670.0M1256.5 680.0V674.9M1258.5 680.0V674.3M1259.5 680.0V673.8M1260.5 680.0V673.4M1268.5 680.0V682.9M1269.5 680.0V682.9M1270.5 680.0V682.8M1272.5 680.0V682.7M1276.5 680.0V682.4M1277.5 680.0V682.4M1278.5 680.0V681.4M1279.5 680.0V681.1M1280.5 680.0V679.9M1282.5 680.0V679.8M1283.5 680.0V679.7M1286.5 680.0V681.0M1287.5 680.0V680.9M1288.5 680.0V680.2M1289.5 680.0V679.0M1290.5 680.0V677.3M1291.5 680.0V676.1M1292.5 680.0V675.2M1293.5 680.0V674.6M1294.5 680.0V674.1M1295.5 680.0V673.8M1296.5 680.0V673.7M1297.5 680.0V673.7M1300.5 680.0V674.1M1308.5 680.0V681.8M1312.5 680.0V683.5M1314.5 680.0V683.8M1315.5 680.0V683.7M1316.5 680.0V683.7M1317.5 680.0V683.0M1318.5 680.0V682.5M1319.5 680.0V682.5M1320.5 680.0V681.8M1321.5 680.0V681.1M1323.5 680.0V681.1M1334.5 680.0V688.3M1335.5 680.0V687.7M1336.5 680.0V687.3M1337.5 680.0V686.4M1338.5 680.0V685.4M1345.5 680.0V690.1M1346.5 680.0V689.4M1347.5 680.0V688.8M1348.5 680.0V688.2M1349.5 680.0V687.4M1350.5 680.0V686.4M1351.5 680.0V685.6M1352.5 680.0V685.3M1353.5 680.0V684.3M1354.5 680.0V683.0M1355.5 680.0V681.4M1356.5 680.0V680.6M1357.5 680.0V679.6M1358.5 680.0V678.9M1359.5 680.0V678.5M1361.5 680.0V678.5M1363.5 680.0V678.3M1370.5 680.0V682.0M1371.5 680.0V682.0M1373.5 680.0V681.8M1374.5 680.0V680.5M1375.5 680.0V679.9M1376.5 680.0V679.5M1378.5 680.0V679.5M1381.5 680.0V679.6M1382.5 680.0V679.1M1383.5 680.0V678.0M1384.5 680.0V677.2M1385.5 680.0V676.4M1386.5 680.0V675.2M1387.5 680.0V673.5M1388.5 680.0V673.2M1389.5 680.0V672.2M1390.5 680.0V671.8M1393.5 680.0V672.2M1394.5 680.0V672.0M1400.5 680.0V673.6M1401.5 680.0V672.7M1402.5 680.0V671.7M1403.5 680.0V670.5M1404.5 680.0V669.4M1412.5 680.0V672.5M1413.5 680.0V672.4M1415.5 680.0V672.4M1417.5 680.0V672.4M1419.5 680.0V672.7M1431.5 680.0V679.4M1432.5 680.0V679.1M1433.5 680.0V678.6M1434.5 680.0V678.3M1435.5 680.0V677.1M1436.5 680.0V676.3M1446.5 680.0V683.3M1448.5 680.0V682.8M1449.5 680.0V682.4M1450.5 680.0V682.2M1451.5 680.0V682.1M1452.5 680.0V681.4M1453.5 680.0V680.2M1454.5 680.0V679.0M1455.5 680.0V677.5M1456.5 680.0V677.0M1457.5 680.0V676.9M1458.5 680.0V676.8M1461.5 680.0V677.8M1462.5 680.0V677.6M1464.5 680.0V676.9M1465.5 680.0V676.4M1466.5 680.0V674.0M1467.5 680.0V672.2M1468.5 680.0V670.8M1469.5 680.0V670.3M1470.5 680.0V669.9M1477.5 680.0V673.5M1478.5 680.0V673.4M1489.5 680.0V682.7M1490.5 680.0V682.4M1491.5 680.0V681.9M1492.5 680.0V681.8M1493.5 680.0V680.2M1494.5 680.0V680.1M1495.5 680.0V679.5M1496.5 680.0V679.4M1497.5 680.0V678.1M1498.5 680.0V677.5M1499.5 680.0V676.8M1500.5 680.0V676.7M1508.5 680.0V681.8M1509.5 680.0V681.4M1510.5 680.0V680.6M1511.5 680.0V680.1M1512.5 680.0V680.0M1519.5 680.0V683.5M1521.5 680.0V683.7M1523.5 680.0V683.2M1525.5 680.0V682.7M1527.5 680.0V682.0M1528.5 680.0V681.5M1529.5 680.0V680.6M1530.5 680.0V679.6M1531.5 680.0V678.1M1532.5 680.0V677.0M1533.5 680.0V676.4M1541.5 680.0V681.7M1544.5 680.0V682.9M1545.5 680.0V682.5M1546.5 680.0V681.9M1547.5 680.0V680.9M1548.5 680.0V678.1M1549.5 680.0V676.0M1550.5 680.0V674.5M1551.5 680.0V673.4M1552.5 680.0V671.6M1567.5 680.0V686.0M1568.5 680.0V684.9M1569.5 680.0V683.9M1570.5 680.0V683.2M1571.5 680.0V682.1M1572.5 680.0V681.7M1573.5 680.0V681.1M1575.5 680.0V681.6M1579.5 680.0V683.3M1585.5 680.0V686.5M1587.5 680.0V686.1M1588.5 680.0V685.9M1589.5 680.0V685.3M1599.5 680.0V693.9M1600.5 680.0V693.6M1601.5 680.0V693.2M1602.5 680.0V692.7M1603.5 680.0V691.2M1604.5 680.0V690.1M1605.5 680.0V688.4M1606.5 680.0V687.8M1607.5 680.0V686.5M1608.5 680.0V686.4M1609.5 680.0V685.7M1610.5 680.0V685.2M1611.5 680.0V684.3M1613.5 680.0V683.7M1614.5 680.0V682.8M1616.5 680.0V682.5M1617.5 680.0V681.8M1618.5 680.0V681.1M1620.5 680.0V681.5M1629.5 680.0V683.5M1630.5 680.0V683.4M1631.5 680.0V682.3M1632.5 680.0V681.9M1633.5 680.0V681.7M1634.5 680.0V681.3M1635.5 680.0V681.1M1638.5 680.0V681.1M1639.5 680.0V680.8M1640.5 680.0V679.9M1641.5 680.0V679.4M1642.5 680.0V678.2M1643.5 680.0V677.0M1644.5 680.0V676.4M1646.5 680.0V676.4M1649.5 680.0V678.1M1650.5 680.0V677.6M1651.5 680.0V677.0M1652.5 680.0V676.0" stroke="#5fa85f" stroke-width="1.2" fill="none"/>
<path d="M30.5 680.0V679.0M31.5 680.0V679.2M32.5 680.0V679.3M34.5 680.0V679.3M40.5 680.0V676.1M46.5 680.0V675.5M49.5 680.0V675.1M50.5 680.0V675.5M51.5 680.0V675.6M52.5 680.0V675.9M53.5 680.0V676.5M54.5 680.0V676.9M55.5 680.0V677.0M56.5 680.0V677.5M57.5 680.0V678.0M59.5 680.0V677.9M60.5 680.0V677.9M64.5 680.0V677.3M65.5 680.0V678.1M66.5 680.0V679.1M67.5 680.0V680.2M68.5 680.0V681.5M69.5 680.0V681.6M70.5 680.0V681.6M71.5 680.0V681.7M74.5 680.0V681.7M75.5 680.0V681.9M76.5 680.0V682.1M77.5 680.0V682.8M78.5 680.0V683.4M79.5 680.0V684.1M80.5 680.0V684.6M81.5 680.0V684.7M101.5 680.0V670.8M109.5 680.0V668.8M110.5 680.0V669.8M111.5 680.0V670.5M112.5 680.0V671.9M113.5 680.0V673.1M114.5 680.0V673.9M115.5 680.0V674.5M116.5 680.0V675.3M117.5 680.0V676.1M118.5 680.0V676.4M119.5 680.0V676.6M120.5 680.0V676.8M121.5 680.0V677.3M122.5 680.0V677.6M128.5 680.0V675.4M130.5 680.0V675.7M131.5 680.0V676.8M132.5 680.0V677.8M133.5 680.0V678.6M134.5 680.0V679.7M135.5 680.0V680.2M136.5 680.0V681.2M137.5 680.0V681.9M138.5 680.0V682.7M139.5 680.0V683.3M140.5 680.0V684.0M144.5 680.0V683.3M146.5 680.0V682.9M148.5 680.0V683.1M149.5 680.0V683.4M150.5 680.0V683.5M151.5 680.0V683.9M152.5 680.0V684.9M153.5 680.0V685.9M154.5 680.0V686.8M155.5 680.0V688.0M156.5 680.0V689.0M157.5 680.0V689.2M181.5 680.0V680.7M183.5 680.0V680.8M184.5 680.0V681.4M185.5 680.0V681.8M186.5 680.0V682.1M187.5 680.0V682.5M188.5 680.0V683.2M189.5 680.0V683.7M190.5 680.0V684.2M191.5 680.0V684.8M192.5 680.0V685.1M193.5 680.0V685.2M199.5 680.0V684.0M200.5 680.0V684.7M201.5 680.0V685.6M202.5 680.0V686.3M203.5 680.0V686.9M204.5 680.0V687.3M223.5 680.0V676.5M224.5 680.0V676.8M225.5 680.0V677.3M226.5 680.0V678.0M227.5 680.0V678.6M228.5 680.0V679.2M229.5 680.0V679.9M230.5 680.0V680.3M231.5 680.0V680.7M232.5 680.0V681.3M233.5 680.0V681.5M234.5 680.0V681.9M235.5 680.0V682.2M236.5 680.0V682.2M243.5 680.0V677.8M244.5 680.0V678.4M245.5 680.0V679.1M246.5 680.0V679.5M247.5 680.0V679.7M248.5 680.0V680.1M249.5 680.0V680.1M250.5 680.0V680.4M251.5 680.0V680.7M252.5 680.0V680.9M253.5 680.0V681.0M260.5 680.0V678.2M268.5 680.0V676.4M269.5 680.0V676.7M270.5 680.0V677.0M271.5 680.0V677.4M272.5 680.0V677.6M275.5 680.0V677.9M276.5 680.0V678.1M277.5 680.0V678.3M278.5 680.0V679.2M279.5 680.0V679.9M280.5 680.0V680.2M281.5 680.0V680.6M282.5 680.0V681.2M283.5 680.0V681.3M284.5 680.0V681.5M285.5 680.0V681.7M286.5 680.0V682.0M287.5 680.0V682.1M288.5 680.0V682.3M290.5 680.0V682.3M291.5 680.0V682.5M293.5 680.0V682.4M294.5 680.0V682.8M295.5 680.0V682.9M296.5 680.0V683.0M297.5 680.0V683.2M298.5 680.0V683.4M299.5 680.0V683.5M301.5 680.0V683.5M303.5 680.0V683.5M304.5 680.0V683.6M305.5 680.0V683.7M306.5 680.0V683.9M307.5 680.0V684.2M308.5 680.0V684.3M309.5 680.0V684.8M310.5 680.0V685.7M311.5 680.0V686.4M312.5 680.0V686.9M313.5 680.0V687.4M341.5 680.0V680.1M342.5 680.0V680.8M343.5 680.0V681.7M344.5 680.0V683.2M345.5 680.0V684.4M346.5 680.0V685.5M347.5 680.0V686.3M348.5 680.0V686.7M351.5 680.0V686.6M360.5 680.0V684.5M384.5 680.0V678.4M385.5 680.0V678.7M387.5 680.0V678.7M392.5 680.0V678.1M393.5 680.0V678.3M394.5 680.0V678.7M395.5 680.0V679.0M396.5 680.0V679.2M401.5 680.0V678.9M402.5 680.0V679.0M406.5 680.0V678.8M407.5 680.0V678.8M408.5 680.0V679.2M409.5 680.0V679.5M410.5 680.0V680.0M411.5 680.0V680.3M412.5 680.0V680.8M413.5 680.0V681.0M414.5 680.0V681.3M415.5 680.0V681.3M416.5 680.0V681.4M417.5 680.0V681.5M418.5 680.0V681.6M419.5 680.0V681.6M420.5 680.0V681.8M421.5 680.0V682.0M422.5 680.0V682.1M423.5 680.0V682.3M424.5 680.0V682.4M437.5 680.0V680.3M438.5 680.0V680.4M439.5 680.0V680.6M440.5 680.0V680.8M441.5 680.0V680.9M443.5 680.0V680.9M444.5 680.0V681.0M445.5 680.0V681.0M449.5 680.0V681.0M451.5 680.0V680.9M458.5 680.0V680.2M459.5 680.0V680.3M460.5 680.0V680.5M462.5 680.0V680.6M466.5 680.0V680.4M470.5 680.0V680.3M473.5 680.0V680.3M474.5 680.0V680.3M481.5 680.0V679.0M483.5 680.0V679.1M484.5 680.0V679.1M488.5 680.0V679.0M489.5 680.0V679.1M490.5 680.0V679.4M491.5 680.0V679.7M492.5 680.0V680.3M493.5 680.0V681.0M494.5 680.0V681.6M495.5 680.0V682.1M496.5 680.0V682.6M498.5 680.0V682.6M499.5 680.0V682.6M500.5 680.0V682.6M528.5 680.0V679.1M529.5 680.0V679.2M530.5 680.0V679.4M531.5 680.0V679.7M532.5 680.0V679.8M533.5 680.0V679.9M534.5 680.0V679.9M535.5 680.0V679.9M536.5 680.0V680.0M537.5 680.0V680.3M538.5 680.0V680.3M539.5 680.0V680.4M541.5 680.0V680.5M542.5 680.0V680.5M543.5 680.0V680.6M545.5 680.0V680.6M565.5 680.0V676.4M568.5 680.0V676.3M569.5 680.0V676.3M570.5 680.0V676.4M571.5 680.0V676.6M572.5 680.0V676.7M573.5 680.0V676.8M574.5 680.0V677.0M576.5 680.0V677.1M577.5 680.0V677.2M578.5 680.0V677.3M579.5 680.0V677.5M580.5 680.0V677.9M581.5 680.0V678.1M582.5 680.0V678.3M583.5 680.0V678.6M584.5 680.0V678.9M585.5 680.0V679.2M586.5 680.0V679.5M587.5 680.0V679.5M588.5 680.0V679.5M594.5 680.0V678.8M597.5 680.0V678.8M598.5 680.0V679.0M599.5 680.0V679.1M600.5 680.0V679.5M601.5 680.0V679.8M602.5 680.0V679.8M603.5 680.0V679.9M604.5 680.0V680.1M606.5 680.0V680.2M607.5 680.0V680.4M608.5 680.0V680.5M609.5 680.0V680.6M610.5 680.0V680.8M611.5 680.0V680.9M612.5 680.0V681.2M613.5 680.0V681.4M614.5 680.0V681.6M626.5 680.0V676.7M627.5 680.0V676.9M628.5 680.0V677.2M629.5 680.0V677.4M630.5 680.0V677.4M632.5 680.0V677.5M634.5 680.0V677.5M635.5 680.0V677.5M636.5 680.0V677.6M637.5 680.0V677.6M638.5 680.0V677.7M639.5 680.0V677.9M640.5 680.0V678.0M641.5 680.0V678.1M642.5 680.0V678.2M643.5 680.0V678.4M649.5 680.0V677.9M650.5 680.0V677.9M651.5 680.0V678.2M652.5 680.0V678.3M653.5 680.0V678.7M654.5 680.0V679.1M655.5 680.0V679.6M656.5 680.0V680.2M657.5 680.0V680.5M658.5 680.0V680.6M663.5 680.0V680.1M664.5 680.0V680.1M665.5 680.0V680.4M666.5 680.0V680.7M671.5 680.0V680.2M672.5 680.0V680.4M673.5 680.0V680.8M674.5 680.0V681.2M675.5 680.0V681.4M677.5 680.0V681.4M680.5 680.0V681.2M682.5 680.0V681.2M683.5 680.0V681.3M686.5 680.0V681.3M696.5 680.0V679.4M697.5 680.0V679.6M698.5 680.0V680.0M699.5 680.0V680.2M700.5 680.0V680.7M701.5 680.0V680.7M702.5 680.0V680.8M704.5 680.0V681.0M706.5 680.0V680.9M707.5 680.0V681.1M708.5 680.0V681.1M710.5 680.0V681.1M711.5 680.0V681.2M719.5 680.0V677.5M720.5 680.0V677.8M722.5 680.0V677.8M725.5 680.0V677.6M726.5 680.0V677.7M728.5 680.0V677.6M729.5 680.0V677.6M731.5 680.0V677.5M732.5 680.0V677.6M733.5 680.0V677.8M734.5 680.0V677.9M735.5 680.0V678.0M736.5 680.0V678.4M737.5 680.0V678.6M738.5 680.0V678.6M739.5 680.0V678.8M740.5 680.0V679.0M742.5 680.0V679.2M743.5 680.0V679.4M744.5 680.0V679.7M745.5 680.0V680.0M746.5 680.0V680.4M747.5 680.0V680.6M748.5 680.0V680.8M749.5 680.0V680.8M750.5 680.0V680.8M752.5 680.0V680.8M753.5 680.0V681.0M754.5 680.0V681.0M756.5 680.0V681.0M764.5 680.0V680.4M765.5 680.0V680.4M767.5 680.0V680.3M771.5 680.0V680.1M772.5 680.0V680.7M773.5 680.0V681.3M774.5 680.0V682.0M775.5 680.0V682.6M776.5 680.0V683.1M787.5 680.0V681.2M788.5 680.0V681.2M789.5 680.0V681.4M790.5 680.0V681.7M793.5 680.0V681.5M804.5 680.0V679.7M807.5 680.0V679.5M808.5 680.0V679.6M811.5 680.0V679.5M812.5 680.0V679.6M814.5 680.0V679.7M815.5 680.0V679.9M821.5 680.0V678.6M822.5 680.0V678.8M823.5 680.0V678.9M824.5 680.0V679.2M826.5 680.0V679.3M827.5 680.0V679.3M828.5 680.0V679.4M830.5 680.0V679.5M844.5 680.0V675.1M845.5 680.0V675.7M846.5 680.0V675.9M847.5 680.0V676.2M848.5 680.0V676.6M849.5 680.0V676.6M852.5 680.0V676.5M854.5 680.0V676.4M858.5 680.0V676.3M859.5 680.0V676.5M860.5 680.0V676.8M861.5 680.0V677.1M862.5 680.0V677.3M863.5 680.0V677.4M864.5 680.0V677.6M865.5 680.0V677.8M866.5 680.0V677.9M867.5 680.0V677.9M868.5 680.0V677.9M870.5 680.0V677.9M871.5 680.0V678.0M872.5 680.0V678.0M873.5 680.0V678.0M875.5 680.0V678.2M876.5 680.0V678.3M877.5 680.0V678.5M886.5 680.0V675.1M887.5 680.0V675.5M888.5 680.0V676.3M889.5 680.0V677.1M890.5 680.0V677.5M891.5 680.0V677.7M892.5 680.0V678.3M894.5 680.0V678.2M895.5 680.0V678.3M896.5 680.0V678.4M898.5 680.0V677.8M901.5 680.0V677.7M902.5 680.0V678.0M903.5 680.0V678.4M904.5 680.0V678.5M905.5 680.0V678.6M907.5 680.0V678.8M908.5 680.0V678.8M910.5 680.0V678.9M911.5 680.0V679.0M914.5 680.0V678.9M915.5 680.0V679.0M916.5 680.0V679.0M921.5 680.0V678.2M922.5 680.0V679.2M923.5 680.0V680.0M924.5 680.0V680.7M925.5 680.0V681.1M927.5 680.0V681.2M928.5 680.0V681.5M929.5 680.0V681.9M930.5 680.0V682.2M931.5 680.0V682.8M932.5 680.0V682.9M942.5 680.0V679.4M945.5 680.0V679.4M946.5 680.0V679.5M958.5 680.0V673.8M959.5 680.0V674.2M960.5 680.0V675.0M961.5 680.0V675.4M962.5 680.0V675.5M963.5 680.0V675.8M964.5 680.0V675.9M972.5 680.0V668.9M973.5 680.0V669.6M979.5 680.0V668.3M981.5 680.0V668.7M982.5 680.0V669.2M983.5 680.0V670.1M984.5 680.0V671.0M985.5 680.0V672.3M986.5 680.0V672.9M987.5 680.0V674.1M988.5 680.0V674.7M989.5 680.0V675.9M990.5 680.0V676.7M991.5 680.0V677.2M992.5 680.0V677.3M996.5 680.0V675.5M998.5 680.0V676.0M999.5 680.0V676.8M1000.5 680.0V677.3M1001.5 680.0V677.9M1002.5 680.0V678.6M1003.5 680.0V679.2M1004.5 680.0V679.4M1005.5 680.0V679.8M1010.5 680.0V678.2M1011.5 680.0V679.1M1012.5 680.0V680.5M1013.5 680.0V681.8M1014.5 680.0V682.9M1015.5 680.0V683.5M1016.5 680.0V684.0M1024.5 680.0V682.0M1025.5 680.0V682.1M1026.5 680.0V682.9M1027.5 680.0V683.4M1028.5 680.0V684.1M1029.5 680.0V684.2M1030.5 680.0V685.1M1031.5 680.0V685.2M1038.5 680.0V681.7M1039.5 680.0V681.9M1041.5 680.0V681.7M1052.5 680.0V675.3M1054.5 680.0V675.5M1055.5 680.0V675.8M1058.5 680.0V675.7M1059.5 680.0V676.2M1060.5 680.0V676.4M1061.5 680.0V676.9M1062.5 680.0V677.2M1063.5 680.0V677.5M1064.5 680.0V677.6M1065.5 680.0V677.9M1069.5 680.0V677.0M1070.5 680.0V677.5M1071.5 680.0V678.6M1072.5 680.0V679.2M1073.5 680.0V679.8M1074.5 680.0V680.5M1075.5 680.0V681.2M1076.5 680.0V681.6M1077.5 680.0V682.4M1078.5 680.0V682.9M1079.5 680.0V683.5M1081.5 680.0V683.6M1082.5 680.0V684.2M1085.5 680.0V684.6M1086.5 680.0V684.9M1088.5 680.0V685.1M1089.5 680.0V685.2M1091.5 680.0V684.7M1093.5 680.0V684.4M1094.5 680.0V684.7M1095.5 680.0V685.7M1096.5 680.0V686.1M1097.5 680.0V687.2M1098.5 680.0V687.3M1111.5 680.0V674.7M1113.5 680.0V674.7M1114.5 680.0V674.9M1115.5 680.0V675.1M1116.5 680.0V675.1M1118.5 680.0V675.1M1119.5 680.0V675.2M1120.5 680.0V675.3M1121.5 680.0V676.0M1122.5 680.0V677.3M1123.5 680.0V678.5M1124.5 680.0V679.8M1125.5 680.0V681.7M1126.5 680.0V682.3M1127.5 680.0V682.8M1128.5 680.0V683.1M1129.5 680.0V683.2M1131.5 680.0V683.0M1132.5 680.0V683.2M1133.5 680.0V683.3M1134.5 680.0V683.6M1135.5 680.0V684.0M1139.5 680.0V683.7M1141.5 680.0V683.4M1148.5 680.0V679.5M1149.5 680.0V680.2M1150.5 680.0V680.7M1151.5 680.0V680.8M1152.5 680.0V681.2M1153.5 680.0V682.2M1154.5 680.0V682.4M1155.5 680.0V682.6M1156.5 680.0V682.9M1159.5 680.0V683.0M1160.5 680.0V683.2M1162.5 680.0V683.2M1177.5 680.0V676.0M1180.5 680.0V675.5M1181.5 680.0V675.9M1182.5 680.0V675.9M1183.5 680.0V676.6M1184.5 680.0V677.4M1185.5 680.0V678.5M1186.5 680.0V678.9M1187.5 680.0V679.3M1188.5 680.0V679.7M1191.5 680.0V679.7M1192.5 680.0V680.1M1194.5 680.0V680.4M1202.5 680.0V677.0M1205.5 680.0V676.6M1206.5 680.0V677.0M1207.5 680.0V677.1M1208.5 680.0V677.2M1215.5 680.0V675.1M1216.5 680.0V675.6M1217.5 680.0V676.5M1231.5 680.0V665.0M1232.5 680.0V665.3M1237.5 680.0V665.2M1238.5 680.0V665.9M1239.5 680.0V667.3M1240.5 680.0V669.1M1241.5 680.0V670.2M1242.5 680.0V671.0M1243.5 680.0V671.1M1248.5 680.0V670.5M1249.5 680.0V671.2M1250.5 680.0V672.3M1251.5 680.0V673.1M1252.5 680.0V673.7M1253.5 680.0V674.3M1254.5 680.0V675.1M1255.5 680.0V675.3M1257.5 680.0V675.0M1261.5 680.0V674.1M1262.5 680.0V675.9M1263.5 680.0V677.9M1264.5 680.0V679.6M1265.5 680.0V681.2M1266.5 680.0V682.7M1267.5 680.0V683.0M1271.5 680.0V682.9M1273.5 680.0V683.1M1274.5 680.0V683.1M1275.5 680.0V683.4M1281.5 680.0V680.2M1284.5 680.0V680.1M1285.5 680.0V681.2M1298.5 680.0V674.1M1299.5 680.0V674.3M1301.5 680.0V675.0M1302.5 680.0V675.5M1303.5 680.0V676.7M1304.5 680.0V677.8M1305.5 680.0V679.6M1306.5 680.0V680.3M1307.5 680.0V682.0M1309.5 680.0V682.6M1310.5 680.0V682.9M1311.5 680.0V683.7M1313.5 680.0V684.5M1322.5 680.0V681.6M1324.5 680.0V681.4M1325.5 680.0V682.2M1326.5 680.0V682.9M1327.5 680.0V683.4M1328.5 680.0V684.9M1329.5 680.0V686.1M1330.5 680.0V687.1M1331.5 680.0V687.8M1332.5 680.0V688.6M1333.5 680.0V688.7M1339.5 680.0V685.8M1340.5 680.0V686.5M1341.5 680.0V687.6M1342.5 680.0V688.3M1343.5 680.0V689.7M1344.5 680.0V690.3M1360.5 680.0V679.0M1362.5 680.0V678.5M1364.5 680.0V679.0M1365.5 680.0V680.0M1366.5 680.0V681.2M1367.5 680.0V681.3M1368.5 680.0V682.1M1369.5 680.0V682.5M1372.5 680.0V682.3M1377.5 680.0V679.6M1379.5 680.0V680.3M1380.5 680.0V680.3M1391.5 680.0V672.2M1392.5 680.0V672.2M1395.5 680.0V672.2M1396.5 680.0V672.9M1397.5 680.0V673.5M1398.5 680.0V673.9M1399.5 680.0V674.5M1405.5 680.0V669.7M1406.5 680.0V669.7M1407.5 680.0V670.9M1408.5 680.0V671.7M1409.5 680.0V672.4M1410.5 680.0V672.8M1411.5 680.0V673.0M1414.5 680.0V672.7M1416.5 680.0V672.8M1418.5 680.0V672.8M1420.5 680.0V673.3M1421.5 680.0V673.3M1422.5 680.0V674.4M1423.5 680.0V675.1M1424.5 680.0V675.9M1425.5 680.0V676.4M1426.5 680.0V677.4M1427.5 680.0V678.0M1428.5 680.0V678.6M1429.5 680.0V678.9M1430.5 680.0V679.5M1437.5 680.0V676.8M1438.5 680.0V677.1M1439.5 680.0V678.1M1440.5 680.0V679.5M1441.5 680.0V681.5M1442.5 680.0V682.4M1443.5 680.0V683.5M1444.5 680.0V683.8M1445.5 680.0V684.0M1447.5 680.0V683.3M1459.5 680.0V677.5M1460.5 680.0V677.9M1463.5 680.0V677.9M1471.5 680.0V670.8M1472.5 680.0V671.9M1473.5 680.0V673.0M1474.5 680.0V673.2M1475.5 680.0V673.3M1476.5 680.0V673.9M1479.5 680.0V673.8M1480.5 680.0V674.6M1481.5 680.0V675.3M1482.5 680.0V676.3M1483.5 680.0V677.2M1484.5 680.0V678.6M1485.5 680.0V679.9M1486.5 680.0V680.9M1487.5 680.0V681.7M1488.5 680.0V683.0M1501.5 680.0V676.8M1502.5 680.0V678.1M1503.5 680.0V680.0M1504.5 680.0V681.1M1505.5 680.0V681.5M1506.5 680.0V682.0M1507.5 680.0V682.2M1513.5 680.0V680.9M1514.5 680.0V682.0M1515.5 680.0V683.0M1516.5 680.0V683.6M1517.5 680.0V684.0M1518.5 680.0V684.0M1520.5 680.0V683.9M1522.5 680.0V683.9M1524.5 680.0V683.4M1526.5 680.0V682.8M1534.5 680.0V676.5M1535.5 680.0V676.9M1536.5 680.0V677.7M1537.5 680.0V678.9M1538.5 680.0V679.9M1539.5 680.0V680.8M1540.5 680.0V681.7M1542.5 680.0V682.5M1543.5 680.0V683.0M1553.5 680.0V671.7M1554.5 680.0V672.5M1555.5 680.0V673.1M1556.5 680.0V674.2M1557.5 680.0V676.1M1558.5 680.0V678.0M1559.5 680.0V679.1M1560.5 680.0V680.5M1561.5 680.0V681.5M1562.5 680.0V682.6M1563.5 680.0V683.9M1564.5 680.0V685.3M1565.5 680.0V685.8M1566.5 680.0V686.1M1574.5 680.0V681.7M1576.5 680.0V682.4M1577.5 680.0V683.0M1578.5 680.0V683.5M1580.5 680.0V684.8M1581.5 680.0V685.2M1582.5 680.0V685.6M1583.5 680.0V686.1M1584.5 680.0V686.9M1586.5 680.0V686.8M1590.5 680.0V685.8M1591.5 680.0V686.2M1592.5 680.0V687.7M1593.5 680.0V688.7M1594.5 680.0V690.8M1595.5 680.0V692.2M1596.5 680.0V692.7M1597.5 680.0V693.3M1598.5 680.0V694.1M1612.5 680.0V684.5M1615.5 680.0V682.9M1619.5 680.0V681.6M1621.5 680.0V682.0M1622.5 680.0V682.1M1623.5 680.0V682.5M1624.5 680.0V682.6M1625.5 680.0V683.0M1626.5 680.0V683.4M1627.5 680.0V683.5M1628.5 680.0V683.6M1636.5 680.0V681.2M1637.5 680.0V681.3M1645.5 680.0V676.5M1647.5 680.0V677.4M1648.5 680.0V678.2" stroke="#e06a64" stroke-width="1.2" fill="none"/>
<path d="M20.5 716.6 L21.5 716.6 L22.5 715.8 L23.5 715.5 L24.5 714.1 L25.5 714.5 L26.5 714.1 L27.5 713.9 L28.5 712.6 L29.5 711.5 L30.5 718.2 L31.5 719.2 L32.5 718.2 L33.5 714.7 L34.5 713.8 L35.5 712.2 L36.5 712.1 L37.5 712.3 L38.5 713.4 L39.5 712.9 L40.5 712.0 L41.5 710.8 L42.5 713.0 L43.5 713.1 L44.5 712.2 L45.5 711.4 L46.5 712.6 L47.5 711.6 L48.5 711.5 L49.5 714.8 L50.5 716.2 L51.5 715.0 L52.5 714.9 L53.5 719.2 L54.5 717.3 L55.5 716.7 L56.5 718.1 L57.5 719.9 L58.5 716.9 L59.5 716.8 L60.5 715.8 L61.5 715.6 L62.5 714.9 L63.5 713.0 L64.5 719.8 L65.5 722.1 L66.5 723.6 L67.5 724.3 L68.5 723.1 L69.5 719.5 L70.5 721.9 L71.5 723.2 L72.5 720.9 L73.5 721.5 L74.5 722.8 L75.5 723.5 L76.5 724.9 L77.5 725.7 L78.5 725.8 L79.5 727.7 L80.5 726.4 L81.5 726.1 L82.5 725.6 L83.5 724.9 L84.5 724.7 L85.5 723.8 L86.5 722.4 L87.5 723.2 L88.5 720.2 L89.5 717.0 L90.5 717.8 L91.5 715.5 L92.5 713.1 L93.5 713.9 L94.5 713.3 L95.5 711.7 L96.5 709.8 L97.5 711.4 L98.5 710.3 L99.5 711.2 L100.5 710.3 L101.5 712.1 L102.5 710.5 L103.5 711.0 L104.5 710.9 L105.5 709.2 L106.5 709.1 L107.5 707.9 L108.5 713.6 L109.5 716.0 L110.5 716.1 L111.5 714.6 L112.5 716.3 L113.5 719.2 L114.5 719.0 L115.5 717.8 L116.5 717.0 L117.5 718.8 L118.5 718.9 L119.5 718.3 L120.5 716.5 L121.5 717.7 L122.5 718.9 L123.5 715.1 L124.5 715.3 L125.5 714.8 L126.5 712.5 L127.5 716.1 L128.5 715.9 L129.5 714.7 L130.5 719.2 L131.5 719.5 L132.5 722.0 L133.5 720.4 L134.5 720.6 L135.5 721.4 L136.5 724.5 L137.5 725.7 L138.5 724.1 L139.5 723.2 L140.5 724.7 L141.5 723.3 L142.5 724.2 L143.5 722.4 L144.5 722.7 L145.5 722.4 L146.5 723.8 L147.5 723.5 L148.5 724.3 L149.5 724.8 L150.5 723.0 L151.5 726.0 L152.5 728.5 L153.5 729.5 L154.5 729.2 L155.5 729.2 L156.5 731.0 L157.5 729.5 L158.5 727.8 L159.5 728.2 L160.5 727.0 L161.5 727.3 L162.5 728.2 L163.5 728.2 L164.5 726.3 L165.5 726.4 L166.5 727.0 L167.5 726.0 L168.5 723.5 L169.5 724.7 L170.5 725.8 L171.5 724.9 L172.5 724.9 L173.5 722.3 L174.5 720.5 L175.5 724.1 L176.5 721.5 L177.5 723.1 L178.5 722.7 L179.5 721.2 L180.5 722.7 L181.5 724.2 L182.5 724.6 L183.5 724.5 L184.5 727.3 L185.5 727.0 L186.5 726.6 L187.5 727.5 L188.5 729.2 L189.5 730.7 L190.5 728.9 L191.5 729.7 L192.5 727.5 L193.5 728.1 L194.5 726.7 L195.5 725.5 L196.5 726.2 L197.5 727.3 L198.5 727.3 L199.5 728.5 L200.5 731.0 L201.5 732.1 L202.5 732.3 L203.5 730.9 L204.5 731.1 L205.5 728.2 L206.5 728.4 L207.5 729.2 L208.5 726.7 L209.5 724.4 L210.5 722.5 L211.5 722.2 L212.5 725.1 L213.5 722.7 L214.5 721.1 L215.5 720.5 L216.5 716.9 L217.5 720.1 L218.5 717.7 L219.5 716.4 L220.5 716.6 L221.5 716.0 L222.5 717.3 L223.5 719.4 L224.5 718.6 L225.5 721.5 L226.5 722.7 L227.5 721.8 L228.5 724.2 L229.5 724.6 L230.5 724.7 L231.5 725.4 L232.5 726.7 L233.5 726.1 L234.5 726.8 L235.5 725.3 L236.5 723.3 L237.5 719.2 L238.5 717.5 L239.5 715.5 L240.5 714.9 L241.5 717.7 L242.5 719.5 L243.5 718.6 L244.5 720.9 L245.5 720.5 L246.5 720.5 L247.5 720.9 L248.5 721.3 L249.5 721.4 L250.5 723.9 L251.5 724.1 L252.5 722.9 L253.5 722.6 L254.5 720.3 L255.5 717.1 L256.5 719.4 L257.5 719.0 L258.5 716.2 L259.5 719.0 L260.5 718.6 L261.5 716.8 L262.5 716.1 L263.5 715.0 L264.5 714.6 L265.5 713.9 L266.5 713.8 L267.5 714.8 L268.5 714.3 L269.5 717.1 L270.5 716.4 L271.5 717.9 L272.5 717.9 L273.5 714.8 L274.5 718.2 L275.5 721.0 L276.5 720.0 L277.5 721.1 L278.5 723.8 L279.5 724.4 L280.5 723.4 L281.5 722.7 L282.5 725.9 L283.5 723.3 L284.5 724.1 L285.5 724.2 L286.5 724.1 L287.5 725.7 L288.5 723.8 L289.5 721.8 L290.5 725.3 L291.5 724.3 L292.5 722.6 L293.5 724.1 L294.5 725.0 L295.5 726.3 L296.5 725.6 L297.5 725.3 L298.5 727.0 L299.5 726.7 L300.5 727.1 L301.5 727.3 L302.5 726.0 L303.5 728.8 L304.5 728.6 L305.5 729.0 L306.5 729.9 L307.5 730.7 L308.5 731.0 L309.5 733.7 L310.5 735.0 L311.5 735.0 L312.5 731.7 L313.5 732.0 L314.5 730.3 L315.5 731.5 L316.5 730.4 L317.5 730.0 L318.5 730.2 L319.5 729.7 L320.5 729.8 L321.5 728.3 L322.5 728.3 L323.5 730.0 L324.5 723.7 L325.5 726.1 L326.5 725.2 L327.5 724.7 L328.5 724.1 L329.5 724.9 L330.5 725.1 L331.5 723.7 L332.5 724.1 L333.5 724.0 L334.5 723.1 L335.5 726.3 L336.5 722.5 L337.5 720.7 L338.5 722.3 L339.5 723.1 L340.5 725.1 L341.5 724.3 L342.5 728.5 L343.5 730.7 L344.5 732.7 L345.5 732.7 L346.5 730.9 L347.5 731.7 L348.5 731.8 L349.5 732.1 L350.5 731.7 L351.5 732.2 L352.5 732.4 L353.5 730.6 L354.5 730.2 L355.5 728.6 L356.5 728.9 L357.5 728.9 L358.5 729.5 L359.5 729.8 L360.5 730.8 L361.5 730.5 L362.5 730.6 L363.5 730.4 L364.5 728.2 L365.5 727.7 L366.5 722.2 L367.5 725.6 L368.5 723.9 L369.5 724.1 L370.5 723.3 L371.5 723.9 L372.5 723.3 L373.5 723.2 L374.5 724.0 L375.5 722.4 L376.5 723.2 L377.5 722.8 L378.5 720.6 L379.5 717.2 L380.5 715.9 L381.5 717.9 L382.5 717.8 L383.5 721.0 L384.5 719.0 L385.5 719.9 L386.5 716.9 L387.5 717.9 L388.5 716.9 L389.5 715.9 L390.5 716.0 L391.5 715.5 L392.5 720.5 L393.5 720.8 L394.5 721.6 L395.5 719.8 L396.5 718.3 L397.5 717.6 L398.5 718.6 L399.5 718.9 L400.5 719.4 L401.5 717.5 L402.5 716.7 L403.5 715.3 L404.5 716.0 L405.5 717.3 L406.5 719.1 L407.5 718.1 L408.5 721.7 L409.5 722.5 L410.5 725.7 L411.5 723.7 L412.5 725.6 L413.5 724.6 L414.5 725.9 L415.5 726.1 L416.5 724.2 L417.5 725.9 L418.5 726.2 L419.5 725.7 L420.5 728.1 L421.5 727.7 L422.5 728.7 L423.5 729.0 L424.5 728.1 L425.5 726.7 L426.5 726.8 L427.5 728.4 L428.5 726.9 L429.5 727.0 L430.5 725.9 L431.5 722.1 L432.5 719.8 L433.5 718.9 L434.5 717.5 L435.5 719.4 L436.5 722.6 L437.5 725.7 L438.5 724.1 L439.5 722.5 L440.5 724.4 L441.5 724.7 L442.5 725.5 L443.5 725.8 L444.5 724.4 L445.5 725.8 L446.5 723.9 L447.5 724.1 L448.5 725.8 L449.5 726.6 L450.5 723.9 L451.5 724.8 L452.5 722.0 L453.5 722.0 L454.5 720.3 L455.5 719.4 L456.5 722.9 L457.5 721.9 L458.5 723.4 L459.5 723.0 L460.5 722.8 L461.5 721.8 L462.5 724.3 L463.5 720.9 L464.5 721.8 L465.5 721.4 L466.5 723.6 L467.5 722.4 L468.5 720.9 L469.5 720.7 L470.5 724.6 L471.5 722.6 L472.5 721.9 L473.5 722.9 L474.5 720.9 L475.5 719.4 L476.5 717.4 L477.5 718.8 L478.5 716.3 L479.5 715.7 L480.5 717.7 L481.5 720.3 L482.5 719.0 L483.5 717.8 L484.5 717.4 L485.5 716.4 L486.5 719.5 L487.5 718.5 L488.5 718.4 L489.5 720.8 L490.5 722.4 L491.5 724.7 L492.5 728.8 L493.5 729.2 L494.5 728.7 L495.5 729.3 L496.5 729.7 L497.5 728.2 L498.5 729.1 L499.5 729.5 L500.5 729.4 L501.5 726.9 L502.5 727.2 L503.5 725.5 L504.5 727.0 L505.5 726.2 L506.5 725.4 L507.5 723.6 L508.5 724.3 L509.5 723.0 L510.5 722.7 L511.5 723.2 L512.5 723.7 L513.5 725.4 L514.5 723.7 L515.5 722.9 L516.5 721.3 L517.5 723.0 L518.5 723.6 L519.5 721.9 L520.5 723.3 L521.5 722.3 L522.5 722.4 L523.5 719.7 L524.5 719.7 L525.5 717.9 L526.5 714.3 L527.5 718.2 L528.5 721.7 L529.5 722.6 L530.5 722.9 L531.5 720.6 L532.5 719.8 L533.5 722.4 L534.5 722.3 L535.5 723.7 L536.5 722.0 L537.5 724.9 L538.5 721.9 L539.5 722.9 L540.5 722.4 L541.5 723.7 L542.5 725.0 L543.5 723.2 L544.5 722.4 L545.5 722.5 L546.5 721.2 L547.5 720.6 L548.5 720.3 L549.5 722.4 L550.5 720.8 L551.5 718.4 L552.5 717.4 L553.5 717.2 L554.5 718.7 L555.5 716.8 L556.5 715.9 L557.5 711.6 L558.5 709.7 L559.5 710.1 L560.5 708.8 L561.5 709.2 L562.5 709.2 L563.5 708.1 L564.5 708.1 L565.5 708.9 L566.5 707.9 L567.5 709.5 L568.5 709.1 L569.5 708.7 L570.5 713.1 L571.5 711.6 L572.5 711.6 L573.5 712.7 L574.5 711.6 L575.5 710.9 L576.5 711.8 L577.5 713.8 L578.5 713.5 L579.5 714.1 L580.5 715.6 L581.5 714.2 L582.5 718.0 L583.5 719.2 L584.5 718.7 L585.5 719.5 L586.5 718.8 L587.5 716.5 L588.5 716.3 L589.5 712.9 L590.5 712.8 L591.5 714.2 L592.5 713.6 L593.5 714.9 L594.5 713.7 L595.5 712.0 L596.5 715.1 L597.5 715.7 L598.5 720.3 L599.5 718.8 L600.5 722.5 L601.5 720.8 L602.5 717.9 L603.5 721.8 L604.5 722.2 L605.5 721.4 L606.5 723.3 L607.5 720.6 L608.5 723.4 L609.5 723.2 L610.5 725.1 L611.5 724.4 L612.5 724.0 L613.5 726.8 L614.5 724.8 L615.5 719.7 L616.5 717.7 L617.5 715.3 L618.5 714.5 L619.5 714.3 L620.5 713.7 L621.5 711.7 L622.5 711.6 L623.5 712.9 L624.5 712.3 L625.5 715.4 L626.5 716.4 L627.5 715.4 L628.5 716.9 L629.5 715.6 L630.5 716.4 L631.5 716.4 L632.5 716.0 L633.5 714.8 L634.5 715.6 L635.5 716.6 L636.5 717.1 L637.5 715.5 L638.5 714.4 L639.5 718.4 L640.5 717.2 L641.5 718.5 L642.5 717.1 L643.5 716.7 L644.5 713.3 L645.5 715.0 L646.5 713.2 L647.5 715.1 L648.5 715.6 L649.5 715.8 L650.5 714.6 L651.5 716.5 L652.5 717.3 L653.5 720.9 L654.5 721.9 L655.5 723.4 L656.5 724.6 L657.5 722.0 L658.5 722.1 L659.5 720.3 L660.5 717.8 L661.5 719.8 L662.5 721.3 L663.5 723.8 L664.5 720.8 L665.5 721.4 L666.5 722.5 L667.5 719.7 L668.5 719.8 L669.5 718.8 L670.5 720.9 L671.5 723.4 L672.5 722.7 L673.5 724.3 L674.5 724.5 L675.5 722.3 L676.5 721.8 L677.5 724.1 L678.5 722.5 L679.5 722.0 L680.5 724.5 L681.5 721.7 L682.5 724.6 L683.5 724.0 L684.5 722.0 L685.5 722.7 L686.5 724.0 L687.5 721.6 L688.5 721.6 L689.5 720.0 L690.5 721.1 L691.5 719.3 L692.5 718.7 L693.5 718.3 L694.5 719.8 L695.5 718.4 L696.5 721.6 L697.5 722.2 L698.5 723.8 L699.5 721.9 L700.5 724.6 L701.5 722.3 L702.5 722.5 L703.5 723.7 L704.5 724.7 L705.5 723.2 L706.5 722.8 L707.5 724.4 L708.5 723.4 L709.5 723.8 L710.5 724.3 L711.5 723.5 L712.5 723.1 L713.5 719.1 L714.5 715.4 L715.5 712.8 L716.5 715.8 L717.5 715.0 L718.5 716.7 L719.5 718.5 L720.5 716.5 L721.5 715.2 L722.5 717.7 L723.5 716.8 L724.5 717.2 L725.5 718.3 L726.5 716.5 L727.5 716.8 L728.5 717.2 L729.5 717.9 L730.5 716.6 L731.5 716.0 L732.5 716.9 L733.5 719.8 L734.5 717.9 L735.5 718.0 L736.5 720.6 L737.5 718.4 L738.5 719.6 L739.5 719.7 L740.5 718.9 L741.5 718.7 L742.5 719.9 L743.5 721.0 L744.5 722.8 L745.5 722.1 L746.5 722.9 L747.5 721.3 L748.5 722.4 L749.5 723.8 L750.5 722.4 L751.5 720.7 L752.5 722.2 L753.5 724.8 L754.5 724.3 L755.5 720.3 L756.5 722.5 L757.5 721.5 L758.5 721.0 L759.5 720.8 L760.5 720.1 L761.5 722.5 L762.5 720.3 L763.5 721.3 L764.5 722.2 L765.5 721.0 L766.5 721.5 L767.5 720.9 L768.5 720.3 L769.5 719.7 L770.5 721.1 L771.5 723.7 L772.5 729.8 L773.5 729.4 L774.5 729.2 L775.5 729.9 L776.5 729.6 L777.5 726.5 L778.5 728.4 L779.5 724.6 L780.5 724.4 L781.5 725.0 L782.5 725.2 L783.5 723.5 L784.5 722.1 L785.5 719.6 L786.5 724.4 L787.5 725.1 L788.5 723.2 L789.5 725.0 L790.5 723.7 L791.5 723.2 L792.5 724.2 L793.5 724.3 L794.5 724.9 L795.5 723.4 L796.5 721.3 L797.5 719.8 L798.5 720.9 L799.5 721.2 L800.5 720.8 L801.5 721.4 L802.5 720.9 L803.5 718.9 L804.5 723.1 L805.5 720.0 L806.5 718.3 L807.5 721.4 L808.5 721.6 L809.5 719.5 L810.5 718.4 L811.5 720.2 L812.5 722.9 L813.5 721.7 L814.5 721.1 L815.5 720.1 L816.5 719.5 L817.5 716.5 L818.5 716.7 L819.5 716.1 L820.5 719.7 L821.5 720.2 L822.5 719.5 L823.5 718.3 L824.5 720.5 L825.5 718.7 L826.5 720.8 L827.5 720.4 L828.5 719.1 L829.5 720.0 L830.5 718.9 L831.5 718.8 L832.5 718.1 L833.5 715.8 L834.5 715.4 L835.5 716.2 L836.5 714.7 L837.5 716.4 L838.5 712.3 L839.5 709.2 L840.5 708.2 L841.5 713.8 L842.5 712.5 L843.5 712.4 L844.5 715.0 L845.5 716.2 L846.5 716.4 L847.5 714.9 L848.5 715.4 L849.5 714.3 L850.5 714.8 L851.5 714.0 L852.5 715.5 L853.5 714.3 L854.5 714.1 L855.5 712.9 L856.5 712.2 L857.5 714.5 L858.5 714.9 L859.5 715.8 L860.5 714.8 L861.5 713.9 L862.5 715.6 L863.5 715.4 L864.5 717.2 L865.5 715.6 L866.5 714.2 L867.5 714.0 L868.5 713.9 L869.5 715.6 L870.5 714.6 L871.5 712.8 L872.5 714.2 L873.5 714.7 L874.5 716.8 L875.5 717.4 L876.5 715.2 L877.5 718.2 L878.5 713.8 L879.5 714.5 L880.5 712.6 L881.5 712.2 L882.5 709.9 L883.5 709.1 L884.5 709.0 L885.5 712.8 L886.5 715.3 L887.5 715.4 L888.5 717.7 L889.5 719.2 L890.5 717.1 L891.5 716.4 L892.5 721.6 L893.5 717.2 L894.5 719.5 L895.5 719.2 L896.5 717.6 L897.5 715.9 L898.5 716.5 L899.5 719.2 L900.5 717.4 L901.5 719.7 L902.5 718.1 L903.5 719.9 L904.5 719.2 L905.5 718.1 L906.5 718.3 L907.5 719.8 L908.5 719.5 L909.5 717.6 L910.5 718.9 L911.5 717.8 L912.5 717.6 L913.5 717.6 L914.5 720.8 L915.5 719.8 L916.5 718.4 L917.5 715.2 L918.5 716.3 L919.5 716.9 L920.5 720.5 L921.5 722.4 L922.5 723.5 L923.5 722.9 L924.5 722.5 L925.5 723.2 L926.5 721.0 L927.5 724.4 L928.5 725.2 L929.5 724.8 L930.5 725.5 L931.5 726.4 L932.5 725.5 L933.5 722.3 L934.5 722.6 L935.5 717.9 L936.5 719.9 L937.5 718.9 L938.5 720.5 L939.5 718.8 L940.5 717.8 L941.5 718.2 L942.5 720.8 L943.5 721.3 L944.5 719.1 L945.5 718.6 L946.5 719.7 L947.5 718.5 L948.5 716.2 L949.5 714.4 L950.5 714.0 L951.5 714.4 L952.5 713.6 L953.5 712.3 L954.5 711.0 L955.5 710.5 L956.5 711.8 L957.5 714.6 L958.5 714.7 L959.5 714.4 L960.5 717.7 L961.5 715.7 L962.5 714.3 L963.5 717.2 L964.5 715.5 L965.5 712.4 L966.5 710.9 L967.5 709.0 L968.5 708.2 L969.5 709.0 L970.5 710.5 L971.5 710.9 L972.5 710.6 L973.5 710.4 L974.5 707.9 L975.5 709.9 L976.5 709.5 L977.5 709.2 L978.5 709.0 L979.5 708.4 L980.5 707.9 L981.5 712.9 L982.5 712.3 L983.5 715.6 L984.5 714.7 L985.5 716.5 L986.5 715.7 L987.5 718.5 L988.5 718.7 L989.5 721.1 L990.5 719.5 L991.5 717.1 L992.5 717.2 L993.5 715.0 L994.5 714.8 L995.5 713.8 L996.5 716.5 L997.5 715.9 L998.5 717.4 L999.5 719.0 L1000.5 716.3 L1001.5 720.1 L1002.5 720.4 L1003.5 721.1 L1004.5 719.6 L1005.5 718.0 L1006.5 716.6 L1007.5 716.1 L1008.5 717.5 L1009.5 719.0 L1010.5 722.0 L1011.5 722.7 L1012.5 724.0 L1013.5 725.4 L1014.5 725.4 L1015.5 725.0 L1016.5 725.9 L1017.5 722.3 L1018.5 724.3 L1019.5 720.6 L1020.5 721.6 L1021.5 720.3 L1022.5 721.7 L1023.5 721.7 L1024.5 723.3 L1025.5 722.7 L1026.5 724.7 L1027.5 725.2 L1028.5 726.3 L1029.5 724.2 L1030.5 727.1 L1031.5 725.2 L1032.5 723.2 L1033.5 720.5 L1034.5 720.5 L1035.5 724.0 L1036.5 719.6 L1037.5 721.8 L1038.5 722.3 L1039.5 722.1 L1040.5 723.1 L1041.5 721.3 L1042.5 721.5 L1043.5 719.0 L1044.5 718.9 L1045.5 719.6 L1046.5 719.4 L1047.5 717.6 L1048.5 717.5 L1049.5 714.7 L1050.5 715.0 L1051.5 718.2 L1052.5 718.5 L1053.5 717.9 L1054.5 716.5 L1055.5 717.5 L1056.5 716.9 L1057.5 719.1 L1058.5 719.3 L1059.5 719.1 L1060.5 717.5 L1061.5 719.9 L1062.5 720.0 L1063.5 720.4 L1064.5 718.3 L1065.5 717.8 L1066.5 715.6 L1067.5 716.5 L1068.5 719.4 L1069.5 719.3 L1070.5 721.8 L1071.5 722.5 L1072.5 719.7 L1073.5 722.2 L1074.5 722.5 L1075.5 725.5 L1076.5 723.2 L1077.5 724.0 L1078.5 724.9 L1079.5 725.0 L1080.5 724.1 L1081.5 724.6 L1082.5 727.7 L1083.5 722.5 L1084.5 724.2 L1085.5 726.5 L1086.5 724.4 L1087.5 724.5 L1088.5 725.2 L1089.5 725.1 L1090.5 722.9 L1091.5 725.6 L1092.5 722.7 L1093.5 724.9 L1094.5 725.9 L1095.5 727.4 L1096.5 727.5 L1097.5 728.0 L1098.5 725.6 L1099.5 724.3 L1100.5 725.3 L1101.5 723.4 L1102.5 722.2 L1103.5 720.4 L1104.5 718.6 L1105.5 717.0 L1106.5 716.0 L1107.5 715.4 L1108.5 714.9 L1109.5 715.3 L1110.5 715.1 L1111.5 717.2 L1112.5 715.5 L1113.5 716.8 L1114.5 717.1 L1115.5 717.5 L1116.5 717.1 L1117.5 715.3 L1118.5 716.7 L1119.5 717.3 L1120.5 717.7 L1121.5 723.3 L1122.5 724.3 L1123.5 724.5 L1124.5 726.1 L1125.5 728.8 L1126.5 725.2 L1127.5 725.1 L1128.5 723.8 L1129.5 723.5 L1130.5 723.8 L1131.5 726.1 L1132.5 724.8 L1133.5 723.3 L1134.5 723.6 L1135.5 724.8 L1136.5 724.1 L1137.5 724.0 L1138.5 721.4 L1139.5 724.8 L1140.5 722.6 L1141.5 724.6 L1142.5 721.0 L1143.5 718.7 L1144.5 717.5 L1145.5 719.4 L1146.5 721.4 L1147.5 721.3 L1148.5 720.0 L1149.5 722.6 L1150.5 723.1 L1151.5 723.3 L1152.5 725.2 L1153.5 726.3 L1154.5 724.4 L1155.5 724.2 L1156.5 724.7 L1157.5 722.8 L1158.5 725.7 L1159.5 726.7 L1160.5 724.1 L1161.5 723.4 L1162.5 722.6 L1163.5 721.4 L1164.5 719.4 L1165.5 719.2 L1166.5 718.8 L1167.5 718.8 L1168.5 719.3 L1169.5 716.1 L1170.5 717.5 L1171.5 716.2 L1172.5 715.7 L1173.5 716.3 L1174.5 715.6 L1175.5 713.3 L1176.5 714.9 L1177.5 718.9 L1178.5 715.8 L1179.5 717.6 L1180.5 716.2 L1181.5 719.0 L1182.5 720.7 L1183.5 720.4 L1184.5 722.4 L1185.5 723.0 L1186.5 720.0 L1187.5 721.9 L1188.5 721.7 L1189.5 720.0 L1190.5 721.7 L1191.5 721.5 L1192.5 723.3 L1193.5 719.9 L1194.5 720.8 L1195.5 716.8 L1196.5 717.7 L1197.5 717.1 L1198.5 718.5 L1199.5 717.1 L1200.5 715.5 L1201.5 717.4 L1202.5 718.3 L1203.5 717.2 L1204.5 716.8 L1205.5 715.5 L1206.5 720.6 L1207.5 719.5 L1208.5 718.4 L1209.5 717.2 L1210.5 716.0 L1211.5 715.5 L1212.5 715.9 L1213.5 717.6 L1214.5 716.2 L1215.5 718.5 L1216.5 718.0 L1217.5 721.1 L1218.5 717.0 L1219.5 715.4 L1220.5 713.7 L1221.5 712.7 L1222.5 712.2 L1223.5 710.7 L1224.5 713.5 L1225.5 711.0 L1226.5 710.5 L1227.5 710.1 L1228.5 711.9 L1229.5 710.5 L1230.5 711.1 L1231.5 712.7 L1232.5 711.7 L1233.5 711.4 L1234.5 710.2 L1235.5 709.9 L1236.5 712.3 L1237.5 714.4 L1238.5 714.7 L1239.5 714.6 L1240.5 716.0 L1241.5 715.1 L1242.5 715.2 L1243.5 713.5 L1244.5 712.3 L1245.5 712.2 L1246.5 713.5 L1247.5 712.4 L1248.5 715.2 L1249.5 714.0 L1250.5 717.0 L1251.5 716.2 L1252.5 714.2 L1253.5 718.0 L1254.5 717.3 L1255.5 717.4 L1256.5 714.4 L1257.5 714.3 L1258.5 714.0 L1259.5 714.6 L1260.5 716.0 L1261.5 717.2 L1262.5 722.5 L1263.5 723.5 L1264.5 722.1 L1265.5 722.9 L1266.5 723.4 L1267.5 723.4 L1268.5 722.7 L1269.5 721.9 L1270.5 722.1 L1271.5 724.2 L1272.5 721.2 L1273.5 724.2 L1274.5 721.1 L1275.5 722.4 L1276.5 718.8 L1277.5 720.7 L1278.5 720.1 L1279.5 720.2 L1280.5 717.8 L1281.5 720.6 L1282.5 719.7 L1283.5 720.4 L1284.5 722.1 L1285.5 723.3 L1286.5 720.1 L1287.5 719.1 L1288.5 717.7 L1289.5 717.3 L1290.5 717.0 L1291.5 715.7 L1292.5 716.6 L1293.5 715.8 L1294.5 715.9 L1295.5 716.5 L1296.5 715.0 L1297.5 716.3 L1298.5 717.4 L1299.5 716.7 L1300.5 715.4 L1301.5 719.7 L1302.5 719.1 L1303.5 723.8 L1304.5 722.4 L1305.5 723.6 L1306.5 721.9 L1307.5 725.4 L1308.5 721.4 L1309.5 723.9 L1310.5 723.5 L1311.5 724.0 L1312.5 723.6 L1313.5 724.6 L1314.5 720.8 L1315.5 722.5 L1316.5 723.4 L1317.5 720.4 L1318.5 721.7 L1319.5 720.0 L1320.5 719.6 L1321.5 720.8 L1322.5 722.8 L1323.5 720.3 L1324.5 721.6 L1325.5 723.0 L1326.5 723.7 L1327.5 725.1 L1328.5 726.3 L1329.5 726.0 L1330.5 727.2 L1331.5 726.3 L1332.5 728.0 L1333.5 726.9 L1334.5 724.3 L1335.5 724.9 L1336.5 724.5 L1337.5 724.9 L1338.5 723.2 L1339.5 725.9 L1340.5 727.8 L1341.5 728.4 L1342.5 726.8 L1343.5 727.8 L1344.5 727.9 L1345.5 727.3 L1346.5 725.7 L1347.5 724.1 L1348.5 725.9 L1349.5 725.3 L1350.5 722.8 L1351.5 723.2 L1352.5 723.4 L1353.5 723.2 L1354.5 720.3 L1355.5 717.1 L1356.5 720.6 L1357.5 721.0 L1358.5 721.4 L1359.5 720.0 L1360.5 720.4 L1361.5 718.6 L1362.5 722.0 L1363.5 721.1 L1364.5 723.4 L1365.5 725.3 L1366.5 723.2 L1367.5 721.7 L1368.5 724.2 L1369.5 724.7 L1370.5 723.3 L1371.5 722.9 L1372.5 723.1 L1373.5 721.7 L1374.5 718.7 L1375.5 719.8 L1376.5 721.3 L1377.5 723.3 L1378.5 720.7 L1379.5 721.5 L1380.5 719.5 L1381.5 718.1 L1382.5 720.7 L1383.5 716.7 L1384.5 719.1 L1385.5 717.6 L1386.5 715.2 L1387.5 715.8 L1388.5 716.7 L1389.5 717.3 L1390.5 716.6 L1391.5 716.2 L1392.5 715.4 L1393.5 716.6 L1394.5 716.4 L1395.5 718.3 L1396.5 718.8 L1397.5 717.5 L1398.5 717.6 L1399.5 717.6 L1400.5 713.7 L1401.5 714.6 L1402.5 712.9 L1403.5 712.4 L1404.5 712.8 L1405.5 714.7 L1406.5 714.5 L1407.5 717.7 L1408.5 715.8 L1409.5 715.5 L1410.5 715.2 L1411.5 714.2 L1412.5 714.0 L1413.5 713.2 L1414.5 716.4 L1415.5 714.1 L1416.5 715.7 L1417.5 713.2 L1418.5 716.5 L1419.5 716.5 L1420.5 717.7 L1421.5 716.5 L1422.5 717.1 L1423.5 719.1 L1424.5 719.5 L1425.5 719.6 L1426.5 720.3 L1427.5 718.8 L1428.5 721.3 L1429.5 719.5 L1430.5 721.7 L1431.5 718.7 L1432.5 716.8 L1433.5 718.0 L1434.5 717.8 L1435.5 716.1 L1436.5 715.5 L1437.5 719.6 L1438.5 720.5 L1439.5 723.0 L1440.5 722.6 L1441.5 724.1 L1442.5 723.0 L1443.5 724.6 L1444.5 723.8 L1445.5 723.2 L1446.5 720.1 L1447.5 722.7 L1448.5 721.8 L1449.5 722.3 L1450.5 722.2 L1451.5 720.4 L1452.5 719.6 L1453.5 716.4 L1454.5 716.8 L1455.5 715.7 L1456.5 719.9 L1457.5 720.2 L1458.5 716.6 L1459.5 720.9 L1460.5 718.7 L1461.5 720.4 L1462.5 719.7 L1463.5 718.3 L1464.5 717.3 L1465.5 716.7 L1466.5 713.2 L1467.5 715.4 L1468.5 715.0 L1469.5 717.7 L1470.5 717.7 L1471.5 716.5 L1472.5 719.2 L1473.5 718.6 L1474.5 717.7 L1475.5 717.5 L1476.5 717.9 L1477.5 716.5 L1478.5 717.6 L1479.5 718.2 L1480.5 720.2 L1481.5 720.1 L1482.5 719.0 L1483.5 720.4 L1484.5 722.9 L1485.5 724.7 L1486.5 723.0 L1487.5 721.7 L1488.5 724.5 L1489.5 720.4 L1490.5 722.3 L1491.5 720.1 L1492.5 720.8 L1493.5 718.0 L1494.5 720.1 L1495.5 719.9 L1496.5 719.5 L1497.5 716.4 L1498.5 716.1 L1499.5 718.3 L1500.5 721.2 L1501.5 721.2 L1502.5 721.3 L1503.5 722.6 L1504.5 722.0 L1505.5 722.6 L1506.5 722.9 L1507.5 722.1 L1508.5 721.0 L1509.5 720.4 L1510.5 719.3 L1511.5 721.9 L1512.5 722.4 L1513.5 725.3 L1514.5 725.0 L1515.5 723.1 L1516.5 724.3 L1517.5 723.2 L1518.5 725.2 L1519.5 721.3 L1520.5 723.5 L1521.5 722.5 L1522.5 722.9 L1523.5 722.0 L1524.5 721.5 L1525.5 721.2 L1526.5 723.1 L1527.5 719.9 L1528.5 720.2 L1529.5 717.7 L1530.5 717.4 L1531.5 718.6 L1532.5 716.6 L1533.5 719.6 L1534.5 719.1 L1535.5 720.1 L1536.5 722.7 L1537.5 722.1 L1538.5 723.7 L1539.5 722.8 L1540.5 723.9 L1541.5 722.2 L1542.5 725.1 L1543.5 725.9 L1544.5 721.9 L1545.5 721.2 L1546.5 719.3 L1547.5 720.1 L1548.5 715.4 L1549.5 714.9 L1550.5 716.2 L1551.5 716.1 L1552.5 714.4 L1553.5 716.6 L1554.5 717.9 L1555.5 718.6 L1556.5 721.0 L1557.5 721.3 L1558.5 723.2 L1559.5 721.4 L1560.5 723.1 L1561.5 724.2 L1562.5 725.0 L1563.5 727.4 L1564.5 725.4 L1565.5 723.9 L1566.5 724.6 L1567.5 723.5 L1568.5 723.7 L1569.5 721.2 L1570.5 720.6 L1571.5 720.4 L1572.5 721.6 L1573.5 721.4 L1574.5 723.5 L1575.5 719.8 L1576.5 723.1 L1577.5 722.9 L1578.5 722.9 L1579.5 722.0 L1580.5 725.7 L1581.5 724.3 L1582.5 725.1 L1583.5 725.7 L1584.5 725.8 L1585.5 725.1 L1586.5 727.0 L1587.5 722.8 L1588.5 724.9 L1589.5 723.5 L1590.5 725.9 L1591.5 727.5 L1592.5 727.8 L1593.5 728.4 L1594.5 730.0 L1595.5 730.2 L1596.5 728.7 L1597.5 729.0 L1598.5 730.3 L1599.5 729.1 L1600.5 729.4 L1601.5 726.3 L1602.5 726.6 L1603.5 725.2 L1604.5 725.9 L1605.5 722.9 L1606.5 724.9 L1607.5 722.2 L1608.5 725.0 L1609.5 724.1 L1610.5 721.2 L1611.5 722.4 L1612.5 723.8 L1613.5 723.7 L1614.5 721.2 L1615.5 722.5 L1616.5 721.3 L1617.5 722.4 L1618.5 722.2 L1619.5 724.2 L1620.5 722.8 L1621.5 724.5 L1622.5 723.3 L1623.5 724.4 L1624.5 724.8 L1625.5 724.9 L1626.5 726.3 L1627.5 723.4 L1628.5 724.1 L1629.5 723.7 L1630.5 723.8 L1631.5 721.1 L1632.5 720.8 L1633.5 723.1 L1634.5 721.6 L1635.5 722.7 L1636.5 721.2 L1637.5 721.5 L1638.5 722.1 L1639.5 720.2 L1640.5 718.5 L1641.5 719.0 L1642.5 715.9 L1643.5 716.5 L1644.5 719.0 L1645.5 720.4 L1646.5 719.4 L1647.5 720.9 L1648.5 721.4 L1649.5 718.7 L1650.5 717.8 L1651.5 716.8 L1652.5 716.0" stroke="#9466c4" stroke-width="1.2" fill="none"/>
<div style="position:absolute;left:30.0px;top:38.8px;font-size:14.1px;line-height:1;color:#2a2e39;font-weight:normal;white-space:nowrap;-webkit-text-stroke:0.3px #2a2e39;">Bitcoin: Price &amp; Volume - Spot, Binance, BTC-USDT [Open], 1D, CryptoQuant</div>
<div style="position:absolute;left:527.0px;top:38.8px;font-size:14.1px;line-height:1;color:#2a2e39;font-weight:normal;white-space:nowrap;-webkit-text-stroke:0.3px #2a2e39;">O</div>
<div style="position:absolute;left:538.0px;top:38.8px;font-size:14.1px;line-height:1;color:#e0726c;font-weight:normal;white-space:nowrap;-webkit-text-stroke:0.2px #e0726c;">96951.78</div>
<div style="position:absolute;left:602.7px;top:38.8px;font-size:14.1px;line-height:1;color:#2a2e39;font-weight:normal;white-space:nowrap;-webkit-text-stroke:0.3px #2a2e39;">H</div>
<div style="position:absolute;left:613.5px;top:38.8px;font-size:14.1px;line-height:1;color:#e0726c;font-weight:normal;white-space:nowrap;-webkit-text-stroke:0.2px #e0726c;">97193.34</div>
<div style="position:absolute;left:678.0px;top:38.8px;font-size:14.1px;line-height:1;color:#2a2e39;font-weight:normal;white-space:nowrap;-webkit-text-stroke:0.3px #2a2e39;">L</div>
<div style="position:absolute;left:686.5px;top:38.8px;font-size:14.1px;line-height:1;color:#e0726c;font-weight:normal;white-space:nowrap;-webkit-text-stroke:0.2px #e0726c;">95435.91</div>
<div style="position:absolute;left:751.0px;top:38.8px;font-size:14.1px;line-height:1;color:#2a2e39;font-weight:normal;white-space:nowrap;-webkit-text-stroke:0.3px #2a2e39;">C</div>
<div style="position:absolute;left:761.5px;top:38.8px;font-size:14.1px;line-height:1;color:#e0726c;font-weight:normal;white-space:nowrap;-webkit-text-stroke:0.2px #e0726c;">96526.31</div>
<div style="position:absolute;left:826.0px;top:38.8px;font-size:14.1px;line-height:1;color:#e0726c;font-weight:normal;white-space:nowrap;-webkit-text-stroke:0.2px #e0726c;">−425.47 (−0.44%)</div>
<div style="position:absolute;left:30.0px;top:58.9px;font-size:14.1px;line-height:1;color:#2a2e39;font-weight:normal;white-space:nowrap;-webkit-text-stroke:0.3px #2a2e39;">MA Cross (1, 365)</div>
<div style="position:absolute;left:230.3px;top:58.9px;font-size:14.1px;line-height:1;color:#e3544f;font-weight:normal;white-space:nowrap;-webkit-text-stroke:0.2px #e3544f;">101457.0646</div>
<div style="position:absolute;left:318.0px;top:58.9px;font-size:14.1px;line-height:1;color:#2a2e39;font-weight:normal;white-space:nowrap;-webkit-text-stroke:0.3px #2a2e39;">n/a</div>
<div style="position:absolute;left:1705.0px;top:27.4px;font-size:13.5px;line-height:1;color:#1f2330;font-weight:normal;white-space:nowrap;-webkit-text-stroke:0.25px #1f2330;">160000.00</div>
<div style="position:absolute;left:1705.0px;top:75.4px;font-size:13.5px;line-height:1;color:#1f2330;font-weight:normal;white-space:nowrap;-webkit-text-stroke:0.25px #1f2330;">130000.00</div>
<div style="position:absolute;left:1705.0px;top:114.0px;font-size:13.5px;line-height:1;color:#1f2330;font-weight:normal;white-space:nowrap;-webkit-text-stroke:0.25px #1f2330;">110000.00</div>
<div style="position:absolute;left:1705.0px;top:160.3px;font-size:13.5px;line-height:1;color:#1f2330;font-weight:normal;white-space:nowrap;-webkit-text-stroke:0.25px #1f2330;">90000.00</div>
<div style="position:absolute;left:1705.0px;top:202.5px;font-size:13.5px;line-height:1;color:#1f2330;font-weight:normal;white-space:nowrap;-webkit-text-stroke:0.25px #1f2330;">75000.00</div>
<div style="position:absolute;left:1705.0px;top:242.7px;font-size:13.5px;line-height:1;color:#1f2330;font-weight:normal;white-space:nowrap;-webkit-text-stroke:0.25px #1f2330;">63000.00</div>
<div style="position:absolute;left:1705.0px;top:291.6px;font-size:13.5px;line-height:1;color:#1f2330;font-weight:normal;white-space:nowrap;-webkit-text-stroke:0.25px #1f2330;">51000.00</div>
<div style="position:absolute;left:1705.0px;top:328.3px;font-size:13.5px;line-height:1;color:#1f2330;font-weight:normal;white-space:nowrap;-webkit-text-stroke:0.25px #1f2330;">43500.00</div>
<div style="position:absolute;left:1705.0px;top:375.3px;font-size:13.5px;line-height:1;color:#1f2330;font-weight:normal;white-space:nowrap;-webkit-text-stroke:0.25px #1f2330;">35500.00</div>
<div style="position:absolute;left:1705.0px;top:418.1px;font-size:13.5px;line-height:1;color:#1f2330;font-weight:normal;white-space:nowrap;-webkit-text-stroke:0.25px #1f2330;">29500.00</div>
<div style="position:absolute;left:1705.0px;top:470.6px;font-size:13.5px;line-height:1;color:#1f2330;font-weight:normal;white-space:nowrap;-webkit-text-stroke:0.25px #1f2330;">23500.00</div>
<div style="position:absolute;left:1705.0px;top:513.7px;font-size:13.5px;line-height:1;color:#1f2330;font-weight:normal;white-space:nowrap;-webkit-text-stroke:0.25px #1f2330;">19500.00</div>
<div style="position:absolute;left:1705.0px;top:552.3px;font-size:13.5px;line-height:1;color:#1f2330;font-weight:normal;white-space:nowrap;-webkit-text-stroke:0.25px #1f2330;">16500.00</div>
<div style="position:absolute;left:1705.0px;top:590.3px;font-size:13.5px;line-height:1;color:#1f2330;font-weight:normal;white-space:nowrap;-webkit-text-stroke:0.25px #1f2330;">14000.00</div>
<div style="position:absolute;left:1694px;top:138.2px;width:78px;height:22.2px;background:#e07a74"></div>
<div style="position:absolute;left:1705.0px;top:143.2px;font-size:13.5px;line-height:1;color:#ffffff;font-weight:normal;white-space:nowrap;">96526.31</div>
<div style="position:absolute;left:1705.0px;top:639.4px;font-size:13.5px;line-height:1;color:#1f2330;font-weight:normal;white-space:nowrap;-webkit-text-stroke:0.25px #1f2330;">0.0000</div>
<div style="position:absolute;left:1705.0px;top:674.4px;font-size:13.5px;line-height:1;color:#1f2330;font-weight:normal;white-space:nowrap;-webkit-text-stroke:0.25px #1f2330;">0.0000</div>
<div style="position:absolute;left:30.0px;top:633.5px;font-size:13.3px;line-height:1;color:#1a1a1a;font-weight:normal;white-space:nowrap;-webkit-text-stroke:0.3px #1a1a1a;">ROC (30)</div>
<div style="position:absolute;left:95.4px;top:633.5px;font-size:13.3px;line-height:1;color:#6455c0;font-weight:normal;white-space:nowrap;-webkit-text-stroke:0.25px #6455c0;">9.8595</div>
<div style="position:absolute;left:30.0px;top:668.9px;font-size:13.3px;line-height:1;color:#1a1a1a;font-weight:normal;white-space:nowrap;-webkit-text-stroke:0.3px #1a1a1a;">AO</div>
<div style="position:absolute;left:57.0px;top:668.9px;font-size:13.3px;line-height:1;color:#3f8f42;font-weight:normal;white-space:nowrap;-webkit-text-stroke:0.25px #3f8f42;">3964.9800</div>
<div style="position:absolute;left:30.0px;top:709.3px;font-size:13.3px;line-height:1;color:#1a1a1a;font-weight:normal;white-space:nowrap;-webkit-text-stroke:0.3px #1a1a1a;">RSI (14)</div>
<div style="position:absolute;left:86.4px;top:709.3px;font-size:13.3px;line-height:1;color:#8c44b4;font-weight:normal;white-space:nowrap;-webkit-text-stroke:0.25px #8c44b4;">68.0669</div>
<div style="position:absolute;left:129.8px;width:100px;text-align:center;top:749.2px;font-size:14.5px;line-height:1;color:#1f2330;font-weight:bold;">2022</div>
<div style="position:absolute;left:249.4px;width:100px;text-align:center;top:749.2px;font-size:14.5px;line-height:1;color:#1f2330;font-weight:normal;-webkit-text-stroke:0.3px #1f2330">May</div>
<div style="position:absolute;left:372.4px;width:100px;text-align:center;top:749.2px;font-size:14.5px;line-height:1;color:#1f2330;font-weight:normal;-webkit-text-stroke:0.3px #1f2330">Sep</div>
<div style="position:absolute;left:494.0px;width:100px;text-align:center;top:749.2px;font-size:14.5px;line-height:1;color:#1f2330;font-weight:bold;">2023</div>
<div style="position:absolute;left:613.8px;width:100px;text-align:center;top:749.2px;font-size:14.5px;line-height:1;color:#1f2330;font-weight:normal;-webkit-text-stroke:0.3px #1f2330">May</div>
<div style="position:absolute;left:737.0px;width:100px;text-align:center;top:749.2px;font-size:14.5px;line-height:1;color:#1f2330;font-weight:normal;-webkit-text-stroke:0.3px #1f2330">Sep</div>
<div style="position:absolute;left:858.8px;width:100px;text-align:center;top:749.2px;font-size:14.5px;line-height:1;color:#1f2330;font-weight:bold;">2024</div>
<div style="position:absolute;left:978.8px;width:100px;text-align:center;top:749.2px;font-size:14.5px;line-height:1;color:#1f2330;font-weight:normal;-webkit-text-stroke:0.3px #1f2330">May</div>
<div style="position:absolute;left:1102.0px;width:100px;text-align:center;top:749.2px;font-size:14.5px;line-height:1;color:#1f2330;font-weight:normal;-webkit-text-stroke:0.3px #1f2330">Sep</div>
<div style="position:absolute;left:1223.9px;width:100px;text-align:center;top:749.2px;font-size:14.5px;line-height:1;color:#1f2330;font-weight:bold;">2025</div>
<div style="position:absolute;left:1344.0px;width:100px;text-align:center;top:749.2px;font-size:14.5px;line-height:1;color:#1f2330;font-weight:normal;-webkit-text-stroke:0.3px #1f2330">May</div>
<div style="position:absolute;left:1466.4px;width:100px;text-align:center;top:749.2px;font-size:14.5px;line-height:1;color:#1f2330;font-weight:normal;-webkit-text-stroke:0.3px #1f2330">Sep</div>
<div style="position:absolute;left:1588.2px;width:100px;text-align:center;top:749.2px;font-size:14.5px;line-height:1;color:#1f2330;font-weight:bold;">2026</div>
<div style="position:absolute;left:136.4px;top:144.6px;font-size:21.8px;line-height:26.3px;color:#333333;white-space:nowrap;">1. Bitcoin confirms the<br>start of bear market below<br>its 365-day MA</div>
<div style="position:absolute;left:298.7px;top:246.8px;font-size:21.8px;line-height:26.4px;color:#333333;white-space:nowrap;">3. Bitcoin price rejected at<br>the 365-day MA, after a<br>47% rally.</div>
<div style="position:absolute;left:77.6px;top:482.4px;font-size:21.8px;line-height:26.6px;color:#333333;white-space:nowrap;"><span style="background:#fff">2. Bitcoin price ”bottoms”</span><br><span style="background:#fff">after a 27% correction.</span></div>
<div style="position:absolute;left:1181.0px;top:14.9px;font-size:21.8px;line-height:27.1px;color:#333333;white-space:nowrap;"><span style="background:#fff">1. Bitcoin confirms the start of bear market</span><br><span style="background:#fff">below its 365-day MA</span></div>
<div style="position:absolute;left:1278.3px;top:256.8px;font-size:21.8px;line-height:25.8px;color:#333333;white-space:nowrap;"><span style="background:#fff">2. Bitcoin price ”bottoms”</span><br><span style="background:#fff">after a 19% correction.</span></div>
<div style="position:absolute;left:1601.0px;top:216.2px;font-size:21.8px;line-height:26.41px;color:#333333;white-space:nowrap;"><span style="background:#fff">3. Bitcoin</span><br><span style="background:#fff">price</span><br><span style="background:#fff">rejected</span><br><span style="background:#fff">at the</span><br><span style="background:#fff">365-day</span><br><span style="background:#fff">MA, after</span><br><span style="background:#fff">a 21%</span><br><span style="background:#fff">rally?</span></div>
<svg style="position:absolute;left:20px;top:782px" width="34" height="20" viewBox="0 0 34 20"><g fill="#3f8fe6"><circle cx="6.8" cy="12.6" r="5.6"/><circle cx="15" cy="8.3" r="7.2"/><circle cx="27.2" cy="13" r="5"/><rect x="1.2" y="12" width="31" height="6.6" rx="3.2"/></g><path d="M2.6 15.4L12.2 6.9L20.1 15.8L27.4 7.8L31 4.5" stroke="#fff" stroke-width="2" fill="none" stroke-linejoin="round"/></svg>
<div style="position:absolute;left:55.0px;top:784.3px;font-size:15.4px;line-height:1;color:#262626;font-weight:normal;white-space:nowrap;-webkit-text-stroke:0.45px #262626;letter-spacing:-0.35px">TradingView</div>
<div style="position:absolute;left:17.4px;top:816px;font-size:25.7px;line-height:1;color:#9a9a9a;white-space:nowrap;text-decoration:underline;text-decoration-color:#8c8c8c;text-decoration-thickness:2px;text-underline-offset:3px;text-decoration-skip-ink:none">Live chart: Bitcoin 365-day MA Crossover..</div>
<svg style="position:absolute;left:1636px;top:782px" width="26" height="18" viewBox="0 0 26 18"><path d="M9.2 2.2 C4.5 2.5 2.2 5.5 2.2 8.6 C2.2 11.8 4.5 14.8 9.2 15 Z" fill="#171717"/><circle cx="17.4" cy="8.6" r="6.7" fill="#171717"/><path d="M18 10.6 L24.5 10.6 L24.5 16 L20.5 16 Z" fill="#fff"/><path d="M17.2 9.6 L21.6 13.2" stroke="#171717" stroke-width="1.6"/></svg>
<div style="position:absolute;left:1667.0px;top:782.6px;font-size:17px;line-height:1;color:#171717;font-weight:bold;white-space:nowrap;letter-spacing:0.65px">CryptoQuant</div>
<div style="position:absolute;left:1639.4px;top:587.6px;width:26px;height:26px;border:2px solid #de6066;border-radius:50%;color:#c9585e;font-size:14px;font-weight:bold;line-height:24px;text-align:center">?</div>
<svg style="position:absolute;left:0;top:0" width="1792" height="854" viewBox="0 0 1792 854">
<path d="M184.5 234.8V269" stroke="#e2352b" stroke-width="3.4" fill="none"/>
<path d="M174.6 269.9H192.8L183.7 295.6Z" stroke="#e2352b" stroke-width="3.3" fill="none" stroke-linejoin="miter" stroke-miterlimit="10"/>
<path d="M1588.3 47V81" stroke="#e2352b" stroke-width="3.4" fill="none"/>
<path d="M1578.8 81.3H1597.4L1588.1 106.8Z" stroke="#e2352b" stroke-width="3.3" fill="none" stroke-linejoin="miter" stroke-miterlimit="10"/>
<path d="M198.4 477.4V432" stroke="#8dbd7b" stroke-width="3.2" fill="none"/>
<path d="M188.9 431.2H207.7L198.3 405.2Z" stroke="#8dbd7b" stroke-width="3.1" fill="none" stroke-linejoin="miter" stroke-miterlimit="10"/>
<path d="M1497.5 244.6L1566.7 209.6" stroke="#8dbd7b" stroke-width="2.9" fill="none"/>
<path d="M1590.8 197.4 L1571.4 219.0 L1562.0 200.2Z" stroke="#8dbd7b" stroke-width="3" fill="none" stroke-linejoin="miter" stroke-miterlimit="10"/>
<path d="M212.2 417.6L271.8 356.8" stroke="#9a9a9a" stroke-width="2.9" fill="none"/>
<path d="M292.8 335.4 L280.6 365.4 L263.0 348.2Z" fill="#9a9a9a"/>
<path d="M1613 206.8L1654.8 178.9" stroke="#9a9a9a" stroke-width="2.9" fill="none"/>
<path d="M1679.8 162.2 L1661.7 189.1 L1648.0 168.6Z" fill="#9a9a9a"/>
</svg>
</body></html>
